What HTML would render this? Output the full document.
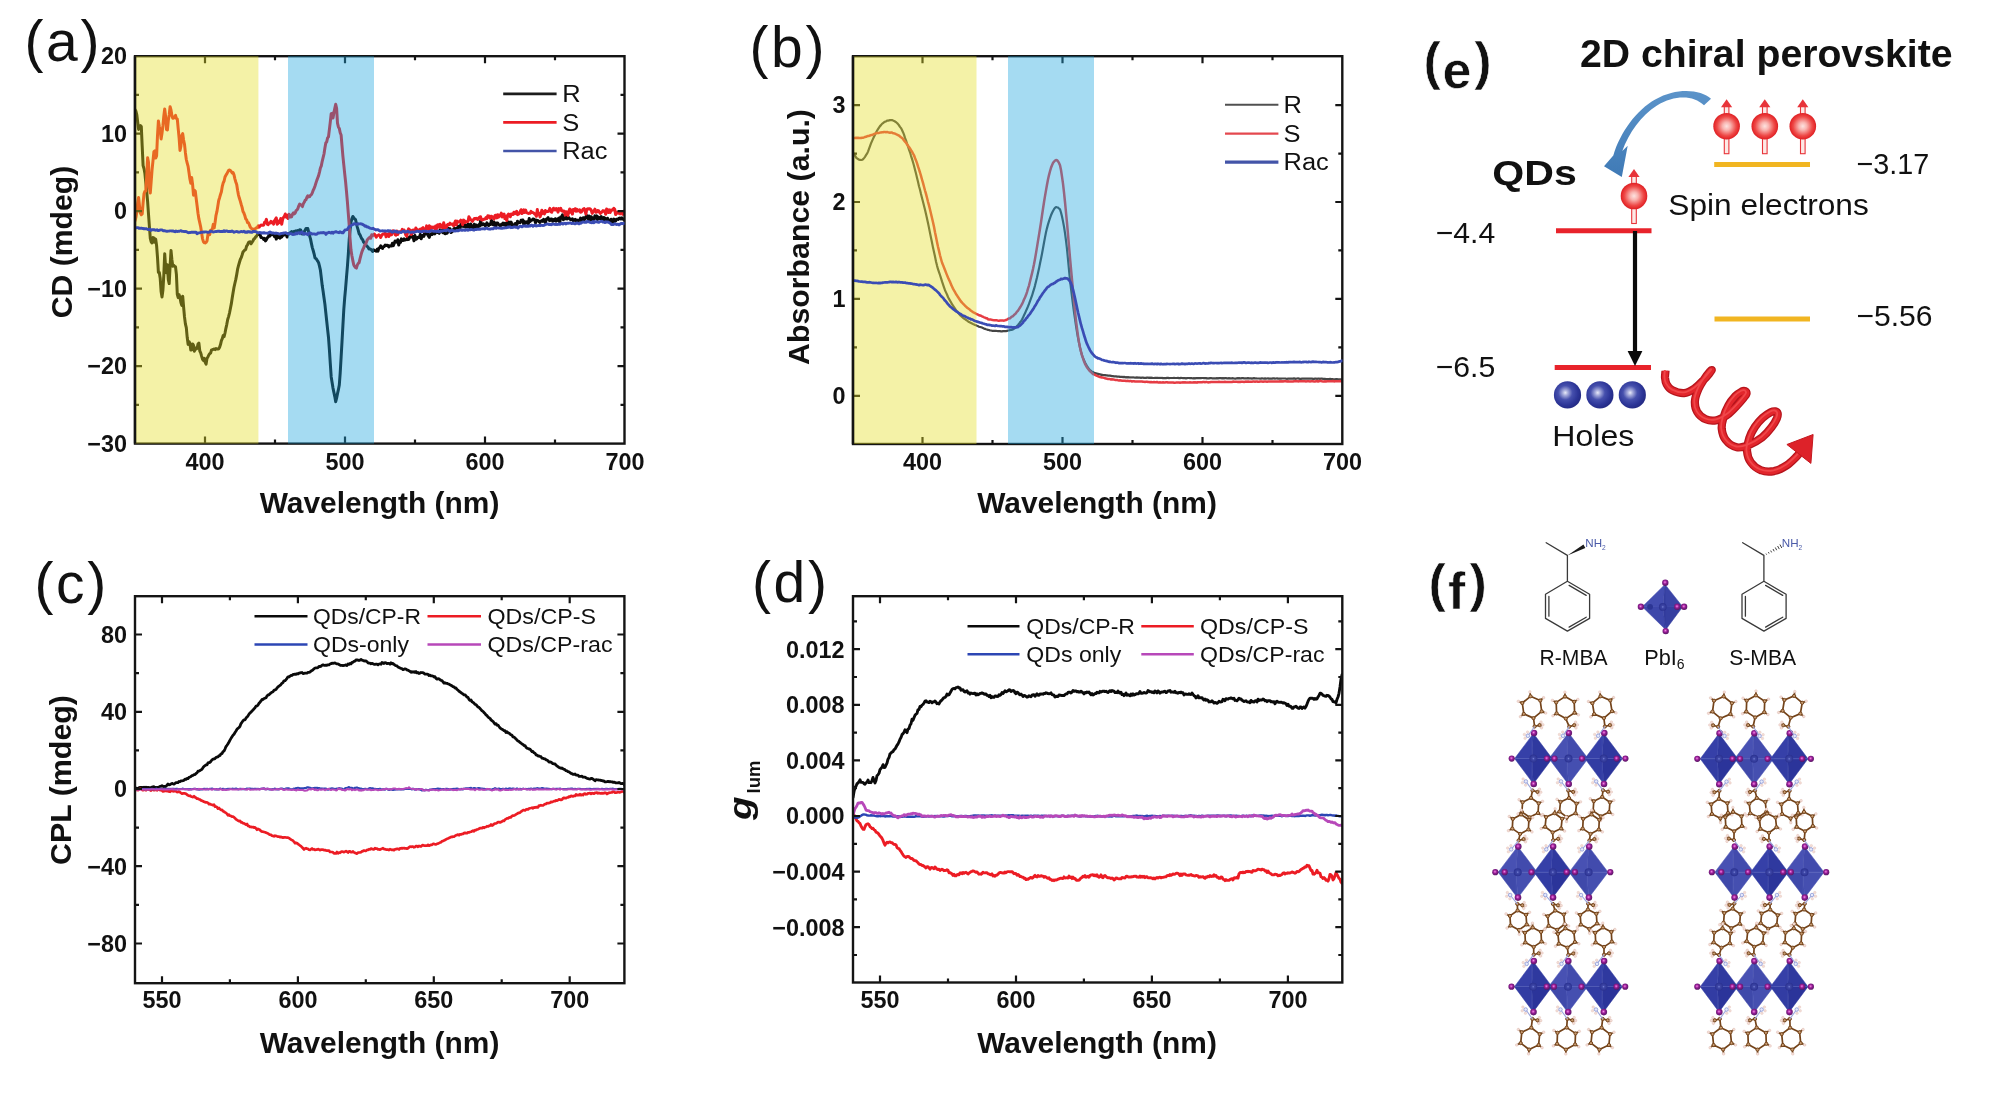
<!DOCTYPE html>
<html lang="en">
<head>
<meta charset="utf-8">
<title>Chiral perovskite / quantum dot figure</title>
<style>
html,body{margin:0;padding:0;background:#fff;}
body{width:1992px;height:1096px;overflow:hidden;position:relative;}
svg{position:absolute;left:0;top:0;display:block;font-family:'Liberation Sans', sans-serif;filter:blur(0.45px);}
</style>
</head>
<body>
<svg width="1992" height="1096" viewBox="0 0 1992 1096">
<defs>
<clipPath id="clipA"><rect x="135" y="56.2" width="489.5" height="387.4"/></clipPath>
<clipPath id="clipB"><rect x="853" y="56.2" width="489.5" height="388"/></clipPath>
<clipPath id="clipC"><rect x="135" y="596.2" width="490" height="387"/></clipPath>
<clipPath id="clipD"><rect x="853" y="596.2" width="489.5" height="386.3"/></clipPath>
<radialGradient id="gRed" cx="50%" cy="50%" r="50%"><stop offset="0" stop-color="#fde3e0"/><stop offset="0.3" stop-color="#f9b4b0"/><stop offset="0.72" stop-color="#ee4a48"/><stop offset="0.92" stop-color="#e62a2c"/><stop offset="1" stop-color="#d82226"/></radialGradient>
<radialGradient id="gHole" cx="42%" cy="42%" r="58%"><stop offset="0" stop-color="#e9ebf8"/><stop offset="0.16" stop-color="#a9aedd"/><stop offset="0.45" stop-color="#4650ad"/><stop offset="0.8" stop-color="#2c3597"/><stop offset="1" stop-color="#252c86"/></radialGradient>
<linearGradient id="gArrow" x1="0" y1="0" x2="0" y2="1"><stop offset="0" stop-color="#5b93c9"/><stop offset="1" stop-color="#3f7ab6"/></linearGradient>
<radialGradient id="gI" cx="45%" cy="42%" r="60%"><stop offset="0" stop-color="#efa6e4"/><stop offset="0.2" stop-color="#cf4cc2"/><stop offset="0.48" stop-color="#8f1d90"/><stop offset="1" stop-color="#551562"/></radialGradient>
<radialGradient id="gPb" cx="50%" cy="50%" r="50%"><stop offset="0" stop-color="#7b86d6"/><stop offset="0.3" stop-color="#3f48a8"/><stop offset="1" stop-color="#2a3190"/></radialGradient>
</defs>
<rect width="1992" height="1096" fill="#fff"/>
<g clip-path="url(#clipA)">
<polyline points="135,109.7 135.9,111 136.8,114.8 137.7,122.3 138.6,129.4 139.5,126.6 140.4,125.6 141.3,126.6 142.2,146.4 143.1,165.6 144,168.6 144.9,173.5 145.8,182.6 146.7,191.3 147.6,201.4 148.5,214 149.4,226.5 150.3,238.4 151.2,242 152.1,243 153,237.6 153.9,237.9 154.8,242.2 155.7,239.1 156.6,245.6 157.5,257.3 158.4,272.4 159.3,272.4 160.2,278.3 161.1,291.4 162,297 162.9,290.4 163.8,275.4 164.7,253.7 165.6,266.9 166.5,272.7 167.4,264.8 168.3,279.7 169.2,283.6 170.1,266.1 171,250.5 171.9,259.7 172.8,266.2 173.7,265.3 174.6,266.4 175.5,266.6 176.4,274.3 177.3,294.3 178.2,297.6 179.1,294.7 180,297.4 180.9,302.6 181.8,305.4 182.7,296.2 183.6,306.9 184.5,316.9 185.4,323.9 186.3,327.7 187.2,337.3 188.1,344.4 189,341.6 189.9,343.2 190.8,350.1 191.7,349.8 192.6,343.9 193.5,345.3 194.4,351.2 195.3,348 196.2,349 197.1,348.3 198,344 198.9,343.1 199.8,351 200.7,352.8 201.6,356.1 202.5,359.1 203.4,360.5 204.3,358.4 205.2,362.3 206.1,364.1 207,358.3 207.9,357 208.8,355 209.7,353.7 210.6,353.1 211.5,350 212.4,349.7 213.3,349.3 214.2,349 215.1,349.6 216,348.5 216.9,349 217.8,349.1 218.7,348.8 219.6,347.2 220.5,344.6 221.4,340.6 222.3,338.6 223.2,335.5 224.1,336.6 225,333 225.9,328.3 226.8,324.3 227.7,319.5 228.6,316.6 229.5,313 230.4,308.5 231.3,303.9 232.2,298.1 233.1,292.4 234,287.3 234.9,283.2 235.8,279.4 236.7,274.6 237.6,269.2 238.5,265.7 239.4,262.5 240.3,259.5 241.2,257.7 242.1,255 243,252 243.9,251 244.8,250 245.7,249.4 246.6,246.1 247.5,244.9 248.4,242.7 249.3,241.9 250.2,241.8 251.1,243.8 252,242.3 252.9,241 253.8,239.1 254.7,238.5 255.6,236.9 256.5,236.2 257.4,234.7 258.3,234.5 259.2,233.5 260.1,234.6 261,237.6 261.9,237.6 262.8,238 263.7,239.4 264.6,238.3 265.5,240.9 266.4,239.6 267.3,237.8 268.2,237.1 269.1,234.7 270,236 270.9,233.5 271.8,234.3 272.7,234.4 273.6,234.8 274.5,236.6 275.4,234.7 276.3,239.1 277.2,235.5 278.1,237.5 279,234.7 279.9,238.2 280.8,235.7 281.7,237.1 282.6,235.4 283.5,235.2 284.4,234.7 285.3,234.5 286.2,234 287.1,237 288,233.7 288.9,233.9 289.8,232.9 290.7,233.4 291.6,231.6 292.5,231.9 293.4,232.9 294.3,231.3 295.2,232.4 296.1,230.8 297,233.2 297.9,230.6 298.8,232.2 299.7,229.7 300.6,229.9 301.5,232.1 302.4,234 303.3,233.2 304.2,231.8 305.1,230.3 306,228.5 306.9,228.5 307.8,228.6 308.7,232.2 309.6,235.9 310.5,238.9 311.4,243.4 312.3,247.6 313.2,250.5 314.1,253.8 315,258 315.9,258.5 316.8,259.7 317.7,261.1 318.6,262.7 319.5,266.1 320.4,270.1 321.3,277.6 322.2,285.3 323.1,291.2 324,297.7 324.9,304.1 325.8,312.6 326.7,321 327.6,329.4 328.5,337.5 329.4,349.6 330.3,363.7 331.2,376.9 332.1,382.4 333,388.1 333.9,392.4 334.8,396.6 335.7,401.7 336.6,398.1 337.5,393.6 338.4,389.7 339.3,385 340.2,372.9 341.1,357.3 342,341.8 342.9,325.6 343.8,309.5 344.7,297.9 345.6,288.2 346.5,277.2 347.4,266.7 348.3,254.3 349.2,239.7 350.1,229.8 351,222 351.9,218.7 352.8,216.5 353.7,217.7 354.6,218.9 355.5,219.5 356.4,223.2 357.3,227.1 358.2,230.1 359.1,233.7 360,234.8 360.9,236.9 361.8,238.8 362.7,239.8 363.6,242.1 364.5,242.9 365.4,244 366.3,245.4 367.2,246.4 368.1,247.3 369,249 369.9,248.9 370.8,249.3 371.7,250.1 372.6,251.4 373.5,249.8 374.4,250.4 375.3,250.6 376.2,251.1 377.1,249.3 378,251.1 378.9,248 379.8,247.6 380.7,245.8 381.6,247.6 382.5,248.4 383.4,246.8 384.3,246.6 385.2,245.1 386.1,245.4 387,245.3 387.9,245.5 388.8,246.9 389.7,245.8 390.6,246.1 391.5,246.1 392.4,243.3 393.3,245.7 394.2,243.4 395.1,241 396,241.8 396.9,242.2 397.8,239.7 398.7,245.1 399.6,241.3 400.5,242.3 401.4,238.9 402.3,240.6 403.2,240.6 404.1,238.8 405,240.1 405.9,239.4 406.8,239.7 407.7,237.1 408.6,239.4 409.5,237.9 410.4,236.8 411.3,234.5 412.2,237.2 413.1,236.8 414,240.8 414.9,235.4 415.8,239.3 416.7,238.9 417.6,237.5 418.5,237.2 419.4,237.5 420.3,234.4 421.2,238.7 422.1,236 423,235.3 423.9,236.3 424.8,232.1 425.7,234 426.6,233.9 427.5,233.1 428.4,236 429.3,237.3 430.2,234.6 431.1,233.8 432,234.5 432.9,233 433.8,233.7 434.7,233.9 435.6,232.6 436.5,232.1 437.4,232.5 438.3,232.4 439.2,233.3 440.1,229.9 441,230.4 441.9,231.2 442.8,232.6 443.7,229.8 444.6,233.5 445.5,233.8 446.4,230.4 447.3,233.1 448.2,228.2 449.1,231.1 450,228.7 450.9,232.5 451.8,231.9 452.7,231.1 453.6,229.2 454.5,228.1 455.4,230.1 456.3,228.5 457.2,230 458.1,226.3 459,229.1 459.9,228.9 460.8,224.5 461.7,225.7 462.6,226.3 463.5,226.4 464.4,224.6 465.3,227.1 466.2,225.3 467.1,226.8 468,224.1 468.9,224.9 469.8,227.7 470.7,224 471.6,226.4 472.5,228.5 473.4,227.5 474.3,224.2 475.2,229.4 476.1,225 477,227.1 477.9,227 478.8,224.9 479.7,226.1 480.6,220.8 481.5,224.9 482.4,224.8 483.3,223.9 484.2,224.4 485.1,225.7 486,225.3 486.9,222.8 487.8,224.8 488.7,225.5 489.6,224 490.5,224.5 491.4,220.3 492.3,221.7 493.2,224.7 494.1,222 495,225.6 495.9,226.2 496.8,223 497.7,222.9 498.6,224.4 499.5,225.1 500.4,226 501.3,224.4 502.2,224.7 503.1,223 504,224.8 504.9,223.2 505.8,225.7 506.7,225.2 507.6,221.6 508.5,224.5 509.4,222.2 510.3,225.2 511.2,222.1 512.1,225.5 513,225.1 513.9,226.4 514.8,223.8 515.7,223.3 516.6,225 517.5,221.2 518.4,222.9 519.3,222.4 520.2,222.7 521.1,220.3 522,220.1 522.9,220 523.8,224.6 524.7,221.8 525.6,223.2 526.5,222 527.4,221.7 528.3,223.9 529.2,218.4 530.1,221.5 531,220.5 531.9,220.2 532.8,219.1 533.7,219.1 534.6,219.5 535.5,222.9 536.4,220.1 537.3,220.4 538.2,220.7 539.1,221.8 540,222.4 540.9,221 541.8,220.6 542.7,221.3 543.6,219.3 544.5,220.7 545.4,222.8 546.3,219.2 547.2,218.8 548.1,217.7 549,220 549.9,220.7 550.8,219.1 551.7,219.1 552.6,221.3 553.5,219.5 554.4,220.4 555.3,218.7 556.2,221.1 557.1,220.5 558,218.8 558.9,218 559.8,222.6 560.7,217.1 561.6,217.2 562.5,214.8 563.4,219.7 564.3,218.8 565.2,218.7 566.1,216.6 567,219 567.9,217.9 568.8,217.5 569.7,218.9 570.6,219.8 571.5,219.3 572.4,218.8 573.3,220.8 574.2,220.1 575.1,219.3 576,220.5 576.9,220 577.8,220.7 578.7,220.5 579.6,220.2 580.5,218.1 581.4,220.8 582.3,220.2 583.2,217.7 584.1,220.2 585,218.4 585.9,216.6 586.8,217.9 587.7,215.9 588.6,219.6 589.5,216.1 590.4,220.2 591.3,216.8 592.2,218 593.1,220.1 594,218.8 594.9,215.9 595.8,218.2 596.7,215.8 597.6,219.6 598.5,217.1 599.4,218.5 600.3,218.5 601.2,216.5 602.1,219.2 603,221.4 603.9,217.5 604.8,218 605.7,219.6 606.6,221.1 607.5,218.2 608.4,220 609.3,220.5 610.2,221.7 611.1,219.2 612,224.3 612.9,223.9 613.8,219.1 614.7,219.7 615.6,221.1 616.5,219.3 617.4,219.1 618.3,219.5 619.2,218.1 620.1,217.9 621,219 621.9,217.9 622.8,218.8 623.7,219.6 624.5,219.5" fill="none" stroke="#0a0a0a" stroke-width="3.0" stroke-linejoin="round" stroke-linecap="round" />
<polyline points="135,220.9 135.9,217.4 136.8,212.1 137.7,202.9 138.6,197.6 139.5,206 140.4,213.1 141.3,214.8 142.2,213.9 143.1,202.9 144,193.8 144.9,191.4 145.8,191.1 146.7,176.5 147.6,157.7 148.5,162.4 149.4,188 150.3,193 151.2,181.1 152.1,169.3 153,160.6 153.9,151.6 154.8,150.9 155.7,158.1 156.6,156 157.5,135.5 158.4,120.9 159.3,126.2 160.2,130.6 161.1,138.9 162,133.3 162.9,125.9 163.8,116.2 164.7,109 165.6,116.1 166.5,129.4 167.4,130 168.3,120.6 169.2,115 170.1,106.7 171,109.9 171.9,115.5 172.8,118.3 173.7,118 174.6,116.9 175.5,115.4 176.4,118.5 177.3,119 178.2,128.6 179.1,137.9 180,150.5 180.9,146.1 181.8,135.5 182.7,133.6 183.6,140 184.5,144.2 185.4,152.7 186.3,159.5 187.2,163.1 188.1,166.4 189,172.5 189.9,179 190.8,183.3 191.7,177.6 192.6,184.4 193.5,195.2 194.4,190.2 195.3,191.3 196.2,198.7 197.1,205.7 198,213.2 198.9,218.9 199.8,222.8 200.7,227 201.6,232.8 202.5,238.6 203.4,241.7 204.3,242.7 205.2,242.9 206.1,242.3 207,241 207.9,234.8 208.8,232.3 209.7,234.7 210.6,230.2 211.5,230.1 212.4,228.7 213.3,224.2 214.2,227.9 215.1,222.3 216,215.3 216.9,211.7 217.8,206.2 218.7,200.5 219.6,197.7 220.5,194.5 221.4,191.7 222.3,186.3 223.2,182.9 224.1,181 225,177 225.9,175.3 226.8,173.9 227.7,172.1 228.6,170.3 229.5,170 230.4,170.5 231.3,171.6 232.2,173.1 233.1,172.5 234,174.8 234.9,178.8 235.8,182 236.7,184.5 237.6,190.3 238.5,195.1 239.4,198.3 240.3,201.1 241.2,204.4 242.1,207.4 243,211.5 243.9,213.1 244.8,215.5 245.7,218.8 246.6,219.6 247.5,222.5 248.4,222.7 249.3,224.6 250.2,226.9 251.1,228.3 252,228.8 252.9,229.5 253.8,229.2 254.7,229.4 255.6,228.5 256.5,227.7 257.4,227.5 258.3,225.8 259.2,227.1 260.1,225.8 261,225 261.9,225.3 262.8,225.3 263.7,225 264.6,222.2 265.5,221.7 266.4,219.4 267.3,224.2 268.2,224.6 269.1,222.9 270,223.1 270.9,221.3 271.8,222.6 272.7,222 273.6,224.1 274.5,220.7 275.4,219.3 276.3,217.9 277.2,224.2 278.1,223.4 279,221.1 279.9,222.3 280.8,218.4 281.7,224.2 282.6,219.5 283.5,217.4 284.4,216.3 285.3,214 286.2,217.2 287.1,215.6 288,218.5 288.9,214.2 289.8,215.3 290.7,217.1 291.6,216.9 292.5,214.1 293.4,212.9 294.3,213.9 295.2,213 296.1,210.6 297,209.9 297.9,208.4 298.8,205.8 299.7,204 300.6,205.1 301.5,205.1 302.4,206.6 303.3,203.7 304.2,202.3 305.1,200.3 306,199.7 306.9,197.3 307.8,195.8 308.7,196.9 309.6,196.6 310.5,195.2 311.4,194.7 312.3,192.9 313.2,190.2 314.1,188.6 315,186 315.9,183.1 316.8,180.4 317.7,178 318.6,175.6 319.5,172.1 320.4,168 321.3,165.9 322.2,161.3 323.1,157.7 324,154 324.9,148.1 325.8,143 326.7,141.8 327.6,137.9 328.5,136.8 329.4,129.4 330.3,121.9 331.2,113.6 332.1,113.3 333,118.1 333.9,112.7 334.8,108.3 335.7,104.3 336.6,108.4 337.5,123.2 338.4,126.9 339.3,128.4 340.2,132.8 341.1,135 342,145.7 342.9,156.1 343.8,164.8 344.7,173.7 345.6,181.8 346.5,191.6 347.4,201.8 348.3,213.5 349.2,225.2 350.1,239 351,250.1 351.9,255.7 352.8,260.4 353.7,264.8 354.6,266.4 355.5,267.5 356.4,268.1 357.3,265.1 358.2,263.4 359.1,262.7 360,258.8 360.9,255.4 361.8,252.2 362.7,249.7 363.6,248.1 364.5,245.5 365.4,244.4 366.3,242.6 367.2,240 368.1,238.9 369,238 369.9,237.2 370.8,238.1 371.7,234.8 372.6,235.7 373.5,234.7 374.4,234.1 375.3,235.4 376.2,237.2 377.1,235.6 378,235.4 378.9,234.8 379.8,235.7 380.7,237.5 381.6,235.5 382.5,234.4 383.4,233.9 384.3,233.9 385.2,233.1 386.1,236.8 387,235.3 387.9,234.1 388.8,236.5 389.7,232.8 390.6,234.9 391.5,234.8 392.4,231 393.3,230.8 394.2,231.7 395.1,234.6 396,235.1 396.9,230.9 397.8,234.5 398.7,232 399.6,231.9 400.5,231.6 401.4,231.8 402.3,229.4 403.2,230.6 404.1,230.1 405,232.8 405.9,235.3 406.8,236.2 407.7,231.2 408.6,228.9 409.5,230.9 410.4,230 411.3,234.5 412.2,232.2 413.1,230 414,232.4 414.9,231.6 415.8,228 416.7,229.6 417.6,229.8 418.5,230.1 419.4,230.1 420.3,229.1 421.2,229.8 422.1,228.4 423,227.7 423.9,231.4 424.8,229.4 425.7,229.3 426.6,225.9 427.5,228 428.4,229.4 429.3,225.8 430.2,229.5 431.1,226.9 432,228 432.9,227 433.8,227.3 434.7,228.7 435.6,226 436.5,229 437.4,225 438.3,224.7 439.2,227.2 440.1,224.3 441,225.3 441.9,227.3 442.8,227.7 443.7,222.8 444.6,226.3 445.5,228.5 446.4,227.3 447.3,224.9 448.2,224.2 449.1,224.6 450,223.2 450.9,224.3 451.8,224.2 452.7,224 453.6,225.8 454.5,223.3 455.4,221 456.3,224.8 457.2,221.1 458.1,221.9 459,222.1 459.9,221.5 460.8,220.2 461.7,221.1 462.6,224.7 463.5,220.1 464.4,220.7 465.3,222.5 466.2,221.7 467.1,221.6 468,221.5 468.9,216.8 469.8,218.4 470.7,219.8 471.6,220.2 472.5,221.3 473.4,219.8 474.3,218.5 475.2,218.8 476.1,218.3 477,218.9 477.9,219.5 478.8,217.8 479.7,217 480.6,216.8 481.5,219.9 482.4,220.1 483.3,219.5 484.2,219.2 485.1,219.1 486,217.6 486.9,218.6 487.8,215.8 488.7,217.1 489.6,216.1 490.5,218.4 491.4,216.2 492.3,216.8 493.2,217.6 494.1,219 495,215.5 495.9,215.2 496.8,217.9 497.7,214.7 498.6,217.1 499.5,215.4 500.4,216 501.3,213.1 502.2,217 503.1,214.8 504,214 504.9,218.6 505.8,216.2 506.7,220.5 507.6,215.4 508.5,214 509.4,214.5 510.3,216.8 511.2,214 512.1,214.6 513,214.5 513.9,212.2 514.8,213.7 515.7,212.6 516.6,211.3 517.5,214.6 518.4,214.2 519.3,213.2 520.2,211.5 521.1,209.7 522,213.6 522.9,212.6 523.8,209.9 524.7,212.4 525.6,210.1 526.5,212.6 527.4,213 528.3,213.4 529.2,213.3 530.1,213.3 531,211.3 531.9,212.6 532.8,212.5 533.7,213 534.6,213.9 535.5,214.5 536.4,216.3 537.3,209.6 538.2,214.3 539.1,213.1 540,216.9 540.9,214.6 541.8,210.2 542.7,213.4 543.6,211.7 544.5,213.9 545.4,210.5 546.3,211.8 547.2,211.6 548.1,211.5 549,210.5 549.9,208.3 550.8,211.7 551.7,212.2 552.6,210.1 553.5,208.2 554.4,209.8 555.3,210 556.2,208.5 557.1,209.2 558,212.1 558.9,208.6 559.8,210 560.7,208.4 561.6,210.8 562.5,211.3 563.4,210.9 564.3,211.2 565.2,215.1 566.1,211.8 567,211.9 567.9,215.5 568.8,211.8 569.7,209 570.6,212.3 571.5,210.1 572.4,214.1 573.3,209.4 574.2,210.4 575.1,208.7 576,211.3 576.9,209.4 577.8,210.9 578.7,210.3 579.6,209.8 580.5,212.2 581.4,212.1 582.3,210.6 583.2,209 584.1,208.6 585,210.7 585.9,214 586.8,209.3 587.7,208.8 588.6,209.1 589.5,208.7 590.4,209.1 591.3,210.6 592.2,213.4 593.1,211.3 594,210.7 594.9,209.2 595.8,212.3 596.7,212.1 597.6,210.4 598.5,210.6 599.4,212.1 600.3,213.5 601.2,212.7 602.1,211.8 603,210.7 603.9,211.5 604.8,210.9 605.7,214.3 606.6,208.9 607.5,210 608.4,212.5 609.3,209.9 610.2,212.5 611.1,210 612,210.2 612.9,209.7 613.8,208.3 614.7,209.2 615.6,214.6 616.5,212.3 617.4,212.5 618.3,213.3 619.2,212.9 620.1,213.8 621,211.9 621.9,212.2 622.8,214.3 623.7,212.3 624.5,210.9" fill="none" stroke="#ec1c24" stroke-width="3.0" stroke-linejoin="round" stroke-linecap="round" />
</g>
<rect x="135" y="56.2" width="489.5" height="387.4" fill="none" stroke="#141414" stroke-width="2.4"/>
<path d="M205 443.6 v-7 M205 56.2 v7" stroke="#141414" stroke-width="2.2"/>
<path d="M345 443.6 v-7 M345 56.2 v7" stroke="#141414" stroke-width="2.2"/>
<path d="M485 443.6 v-7 M485 56.2 v7" stroke="#141414" stroke-width="2.2"/>
<path d="M275 443.6 v-4 M275 56.2 v4" stroke="#141414" stroke-width="2.2"/>
<path d="M415 443.6 v-4 M415 56.2 v4" stroke="#141414" stroke-width="2.2"/>
<path d="M555 443.6 v-4 M555 56.2 v4" stroke="#141414" stroke-width="2.2"/>
<text x="205" y="469.7" font-size="23.4" font-weight="bold" text-anchor="middle" fill="#111" >400</text>
<text x="345" y="469.7" font-size="23.4" font-weight="bold" text-anchor="middle" fill="#111" >500</text>
<text x="485" y="469.7" font-size="23.4" font-weight="bold" text-anchor="middle" fill="#111" >600</text>
<text x="625" y="469.7" font-size="23.4" font-weight="bold" text-anchor="middle" fill="#111" >700</text>
<path d="M135 133.6 h7 M624.5 133.6 h-7" stroke="#141414" stroke-width="2.2"/>
<path d="M135 211.1 h7 M624.5 211.1 h-7" stroke="#141414" stroke-width="2.2"/>
<path d="M135 288.6 h7 M624.5 288.6 h-7" stroke="#141414" stroke-width="2.2"/>
<path d="M135 366.1 h7 M624.5 366.1 h-7" stroke="#141414" stroke-width="2.2"/>
<path d="M135 94.8 h4 M624.5 94.8 h-4" stroke="#141414" stroke-width="2.2"/>
<path d="M135 172.3 h4 M624.5 172.3 h-4" stroke="#141414" stroke-width="2.2"/>
<path d="M135 249.8 h4 M624.5 249.8 h-4" stroke="#141414" stroke-width="2.2"/>
<path d="M135 327.4 h4 M624.5 327.4 h-4" stroke="#141414" stroke-width="2.2"/>
<path d="M135 404.9 h4 M624.5 404.9 h-4" stroke="#141414" stroke-width="2.2"/>
<text x="127" y="64.4" font-size="23.4" font-weight="bold" text-anchor="end" fill="#111" >20</text>
<text x="127" y="141.9" font-size="23.4" font-weight="bold" text-anchor="end" fill="#111" >10</text>
<text x="127" y="219.4" font-size="23.4" font-weight="bold" text-anchor="end" fill="#111" >0</text>
<text x="127" y="296.9" font-size="23.4" font-weight="bold" text-anchor="end" fill="#111" >−10</text>
<text x="127" y="374.4" font-size="23.4" font-weight="bold" text-anchor="end" fill="#111" >−20</text>
<text x="127" y="451.9" font-size="23.4" font-weight="bold" text-anchor="end" fill="#111" >−30</text>
<rect x="135" y="56.2" width="123.4" height="387.4" fill="#e4de23" fill-opacity="0.4"/>
<rect x="288" y="56.2" width="86" height="387.4" fill="#1ea5de" fill-opacity="0.4"/>
<g clip-path="url(#clipA)">
<polyline points="135,227.9 136,227.9 137,227.6 138,227.6 139,228.4 140,228.1 141,228.3 142,228.3 143,228.5 144,228.8 145,228.8 146,228.6 147,229 148,229.6 149,229.5 150,229.1 151,230.4 152,229.7 153,229.8 154,229.7 155,230.1 156,230.2 157,229.8 158,230.5 159,230.5 160,230 161,229.9 162,229.9 163,230.7 164,230.7 165,230.8 166,231.1 167,231.4 168,231.1 169,231.1 170,230.9 171,230.9 172,231 173,231 174,231.3 175,231.7 176,231 177,231.5 178,231.3 179,231.4 180,231 181,230.6 182,231.3 183,231.4 184,231.5 185,231.7 186,231.5 187,232 188,232.6 189,232.7 190,232.5 191,232.3 192,232.3 193,232.3 194,232.2 195,232.2 196,232.1 197,233.7 198,233.2 199,232.9 200,232.7 201,232.3 202,232.4 203,232 204,232.2 205,231.9 206,231.9 207,232.1 208,232.4 209,232.1 210,231.7 211,231.1 212,231.5 213,232 214,231.8 215,231.6 216,231.5 217,231.5 218,231.1 219,231.2 220,231.5 221,231.5 222,231.3 223,231.5 224,230.8 225,231.5 226,231 227,230.9 228,231.5 229,231.5 230,231.3 231,231.6 232,231 233,231.6 234,232.3 235,231.8 236,231.6 237,231.5 238,232 239,232.2 240,231.9 241,231.5 242,231.7 243,231.8 244,231.3 245,232.3 246,231.9 247,232.4 248,231.5 249,232 250,231.7 251,232.3 252,232.3 253,231.5 254,231.3 255,231.6 256,231.6 257,232.5 258,232.7 259,232.7 260,232.5 261,233.1 262,232.8 263,233.1 264,232.6 265,233.1 266,233.1 267,233.1 268,233.4 269,232.6 270,232 271,232.7 272,233.1 273,232.9 274,233.1 275,233.5 276,233 277,233.4 278,233.5 279,234 280,234 281,233.5 282,233.4 283,233.3 284,233 285,232.9 286,232.8 287,233.6 288,233.8 289,233.9 290,233.6 291,233.6 292,234.2 293,234.5 294,234.2 295,234.2 296,233.1 297,233.7 298,233 299,232.7 300,233.6 301,232.5 302,232 303,233.5 304,234.3 305,233.4 306,233.7 307,234.3 308,234.8 309,233.2 310,232.9 311,233.3 312,234.1 313,233.9 314,233.9 315,234.2 316,234.3 317,234.1 318,232.9 319,233.1 320,232.9 321,232.7 322,232.9 323,232.5 324,232.8 325,232.9 326,234.4 327,233 328,232.8 329,232.3 330,232.7 331,233 332,232.2 333,233.1 334,232.1 335,232 336,231.7 337,232.1 338,232.3 339,232.7 340,231.7 341,232.2 342,232.8 343,232.9 344,231.4 345,230 346,229.9 347,229.7 348,228.6 349,226.8 350,226.3 351,225.5 352,225 353,224.5 354,223.8 355,223.8 356,224.1 357,224.4 358,223.8 359,223.9 360,223.9 361,223.8 362,224.1 363,224.6 364,225.3 365,226.3 366,225.9 367,227 368,226.9 369,227.7 370,228.1 371,228.4 372,228.6 373,228.3 374,229 375,229.4 376,230 377,229.6 378,229.6 379,230.4 380,231 381,230.9 382,230.9 383,230.8 384,231.1 385,230.8 386,231.1 387,231.1 388,230.6 389,231.2 390,230.7 391,231.3 392,232.1 393,232 394,231.2 395,231 396,232 397,231.5 398,232.4 399,232.1 400,231.9 401,232.5 402,231.9 403,231.1 404,231.4 405,232.2 406,231.6 407,231.8 408,231.3 409,232 410,232.2 411,232.3 412,231.9 413,232 414,232.3 415,232 416,231.6 417,231.3 418,231.3 419,231.8 420,231.5 421,231.6 422,231.9 423,231.1 424,231.3 425,231.1 426,231.2 427,231.5 428,231.6 429,231.5 430,231.5 431,230.6 432,230.6 433,231.1 434,231.3 435,231.3 436,231.2 437,231.6 438,231 439,231.8 440,231.6 441,230.8 442,231.2 443,230.9 444,230.5 445,230.5 446,230.9 447,229.9 448,229.8 449,230.8 450,231.4 451,230.4 452,230.2 453,230.8 454,230.8 455,231.1 456,230.9 457,230.4 458,230.9 459,230.4 460,229.9 461,229.9 462,230.4 463,229.8 464,230 465,230.3 466,230 467,229.5 468,230.2 469,229.6 470,229.8 471,229.5 472,229.7 473,229.9 474,230.2 475,229.4 476,229.5 477,229.2 478,229.3 479,229.3 480,229.3 481,228.9 482,228.9 483,228.8 484,228.7 485,229 486,228.1 487,228.2 488,228.9 489,229 490,229.2 491,228.7 492,228.9 493,228.9 494,227.9 495,227.7 496,228.3 497,227.9 498,227.9 499,228.1 500,228.1 501,228.2 502,228.3 503,227.9 504,228 505,227.7 506,227.9 507,227.7 508,226.9 509,227.3 510,226.8 511,227.7 512,227.5 513,227.3 514,226.9 515,226.9 516,227.3 517,227.2 518,228 519,226.8 520,226.3 521,226.4 522,226.8 523,225.9 524,226 525,225.9 526,226.4 527,226 528,226.3 529,226 530,226.1 531,225.2 532,225.2 533,226.3 534,225.6 535,225 536,226 537,225.7 538,225.6 539,225.5 540,225.7 541,225.3 542,225.4 543,225.5 544,225.4 545,224.7 546,224.4 547,224 548,223.9 549,224.6 550,224.4 551,224.7 552,224.1 553,224.2 554,224 555,224.5 556,224.2 557,224.5 558,224.4 559,223.9 560,224.4 561,223.6 562,223.3 563,224.1 564,223.4 565,223.3 566,223.9 567,223.1 568,223.4 569,223.1 570,223 571,223.1 572,223.6 573,223 574,223.6 575,223.9 576,223.3 577,223 578,223.2 579,223.9 580,223.1 581,223.3 582,222.3 583,222 584,222.2 585,222.3 586,222.4 587,221.4 588,221.8 589,221.7 590,222.4 591,222.6 592,222.7 593,221.6 594,222.6 595,221.7 596,221.8 597,221.8 598,222.2 599,222.2 600,221.6 601,221.4 602,221.3 603,222 604,222.2 605,222.5 606,221.8 607,222.2 608,222 609,222.6 610,223 611,224.1 612,224.6 613,224.5 614,224.2 615,223.7 616,224.3 617,224.5 618,224.1 619,225 620,224.1 621,223.4 622,223.7 623,223.5 624,223.5 624.5,223.2" fill="none" stroke="#3a4cb4" stroke-width="2.9" stroke-linejoin="round" stroke-linecap="round" />
</g>
<path d="M135 56.2 V443.6" stroke="#141414" stroke-width="2.4"/>
<path d="M503.2 93.9 H556.6" stroke="#1c1c1c" stroke-width="2.6"/>
<text x="562.2" y="102.1" font-size="23.3" font-weight="normal" text-anchor="start" fill="#111" textLength="18.4" lengthAdjust="spacingAndGlyphs">R</text>
<path d="M503.2 122.4 H556.6" stroke="#ec1c24" stroke-width="2.6"/>
<text x="562.2" y="130.6" font-size="23.3" font-weight="normal" text-anchor="start" fill="#111" textLength="17.0" lengthAdjust="spacingAndGlyphs">S</text>
<path d="M503.2 151 H556.6" stroke="#4354a8" stroke-width="2.6"/>
<text x="562.2" y="159.2" font-size="23.3" font-weight="normal" text-anchor="start" fill="#111" textLength="45.2" lengthAdjust="spacingAndGlyphs">Rac</text>
<text x="379.5" y="512.6" font-size="29.9" font-weight="bold" text-anchor="middle" fill="#111" >Wavelength (nm)</text>
<text transform="translate(71.7,242) rotate(-90)" font-size="30.2" font-weight="bold" text-anchor="middle" fill="#111" >CD (mdeg)</text>
<text x="24.5" y="61.3" font-size="57" font-weight="normal" text-anchor="start" fill="#111"  style="letter-spacing:2.6px">(a)</text>
<g clip-path="url(#clipB)">
<polyline points="853,152.5 854,154.2 855,155.6 856,157.4 857,158.4 858,159 859,159.7 860,159.8 861,160 862,159.9 863,159.3 864,158.1 865,156.8 866,155.2 867,153.7 868,151.6 869,148.9 870,146.1 871,143.4 872,141.1 873,138.9 874,136.8 875,134.7 876,132.5 877,130.8 878,129.1 879,127.6 880,126.1 881,125.1 882,123.9 883,123.2 884,122.2 885,121.7 886,121.5 887,120.7 888,120.7 889,120.4 890,120.1 891,120.1 892,120.1 893,120.5 894,120.9 895,121.5 896,122.2 897,123 898,124.1 899,125.3 900,126.9 901,128.1 902,130 903,132.2 904,134.7 905,137.9 906,140.3 907,143.5 908,146.4 909,149.6 910,152.3 911,155.8 912,158.9 913,162.3 914,165.8 915,169.7 916,173.5 917,177.7 918,181.8 919,186.2 920,189.7 921,194.1 922,198 923,201.7 924,205.7 925,209.7 926,214.1 927,218.4 928,223 929,227.9 930,232.9 931,237.8 932,242.5 933,247.6 934,251.9 935,256.5 936,261.5 937,265.6 938,269.2 939,272.1 940,275 941,278.1 942,281.4 943,284.4 944,287.3 945,290.2 946,292.4 947,294.5 948,297 949,298.9 950,300.6 951,302.3 952,304.2 953,305.7 954,307.2 955,308.7 956,310.2 957,311.7 958,312.8 959,313.8 960,315.1 961,316 962,316.9 963,317.8 964,318.5 965,319.2 966,320 967,320.5 968,321.4 969,322.1 970,322.5 971,323 972,323.5 973,324 974,324.4 975,325 976,325.3 977,325.8 978,326.1 979,326.7 980,327 981,327.2 982,327.5 983,328.1 984,328.6 985,328.8 986,329.2 987,329.5 988,329.9 989,330 990,330.5 991,330.5 992,330.8 993,330.8 994,330.8 995,330.8 996,330.9 997,331 998,331.2 999,331.2 1000,331.1 1001,331.3 1002,331.4 1003,331.2 1004,331.1 1005,331.1 1006,331.1 1007,330.9 1008,330.5 1009,330.5 1010,330.1 1011,329.8 1012,329.8 1013,329.4 1014,328.7 1015,328.1 1016,327.2 1017,326 1018,325 1019,323.8 1020,322.3 1021,321.1 1022,319.5 1023,317.6 1024,315.3 1025,313.3 1026,310.9 1027,308.7 1028,306.4 1029,303.9 1030,301.2 1031,298.4 1032,295.7 1033,292.4 1034,289.2 1035,285.6 1036,281.5 1037,277.6 1038,272.9 1039,268.6 1040,263.5 1041,258.7 1042,253.8 1043,248.3 1044,242.7 1045,237.4 1046,232.3 1047,228.1 1048,224.4 1049,221.1 1050,218.1 1051,215.3 1052,213 1053,211 1054,209.2 1055,207.8 1056,207 1057,207.3 1058,207.5 1059,208.5 1060,209.4 1061,212.5 1062,216.5 1063,221.4 1064,226.6 1065,233.2 1066,240.6 1067,249 1068,259.3 1069,269.9 1070,280.1 1071,288.5 1072,296.7 1073,304.5 1074,312.1 1075,318.8 1076,325.9 1077,332.1 1078,337.8 1079,342.7 1080,347.6 1081,351.7 1082,355.1 1083,358 1084,360.3 1085,362.5 1086,364.4 1087,366 1088,367.5 1089,369.1 1090,370 1091,370.8 1092,371.7 1093,372 1094,372.7 1095,373 1096,373.3 1097,373.7 1098,373.9 1099,374.1 1100,374.3 1101,374.8 1102,374.7 1103,375 1104,375.1 1105,375.1 1106,375.4 1107,375.3 1108,375.7 1109,375.6 1110,375.7 1111,375.9 1112,376.1 1113,376.2 1114,376.3 1115,376.3 1116,376.3 1117,376.6 1118,376.7 1119,376.6 1120,376.9 1121,376.9 1122,376.8 1123,377.1 1124,376.9 1125,377.1 1126,377.3 1127,377.1 1128,377.3 1129,377.2 1130,377.5 1131,377.4 1132,377.5 1133,377.3 1134,377.5 1135,377.7 1136,377.6 1137,377.4 1138,377.7 1139,377.7 1140,377.6 1141,377.8 1142,377.6 1143,377.7 1144,377.9 1145,377.9 1146,377.9 1147,377.6 1148,377.6 1149,377.8 1150,377.6 1151,377.8 1152,377.7 1153,378 1154,378 1155,377.9 1156,377.9 1157,377.9 1158,377.9 1159,378 1160,377.9 1161,378 1162,377.9 1163,378.2 1164,378 1165,378.1 1166,378.1 1167,377.9 1168,377.8 1169,378.1 1170,378 1171,378 1172,378 1173,378 1174,377.9 1175,378 1176,378 1177,378 1178,377.8 1179,378.2 1180,378.1 1181,377.9 1182,378 1183,378.1 1184,378.2 1185,378.1 1186,378.3 1187,378.1 1188,378 1189,378 1190,378.2 1191,378 1192,378.2 1193,378.3 1194,378.2 1195,378.3 1196,378.1 1197,378.1 1198,378.1 1199,378.1 1200,378 1201,378.1 1202,378 1203,378 1204,378.2 1205,378.2 1206,378.1 1207,378.4 1208,378.3 1209,378.3 1210,378.1 1211,378 1212,378.3 1213,378.3 1214,378.3 1215,378.3 1216,378.4 1217,378.2 1218,378.3 1219,378.1 1220,378 1221,378.2 1222,378.4 1223,378.1 1224,378.4 1225,378.2 1226,378.2 1227,378.3 1228,378.3 1229,378.2 1230,378.3 1231,378.4 1232,378.4 1233,378.2 1234,378.5 1235,378.6 1236,378.6 1237,378.2 1238,378.4 1239,378.1 1240,378.4 1241,378.4 1242,378.2 1243,378.2 1244,378.4 1245,378.4 1246,378.3 1247,378.4 1248,378.1 1249,378.3 1250,378.4 1251,378.4 1252,378.6 1253,378.3 1254,378.1 1255,378.5 1256,378.4 1257,378.5 1258,378.5 1259,378.5 1260,378.6 1261,378.6 1262,378.3 1263,378.5 1264,378.7 1265,378.4 1266,378.6 1267,378.5 1268,378.4 1269,378.7 1270,378.6 1271,378.5 1272,378.6 1273,378.4 1274,378.4 1275,378.6 1276,378.5 1277,378.4 1278,378.6 1279,378.6 1280,378.7 1281,378.7 1282,378.5 1283,378.5 1284,378.5 1285,378.5 1286,378.7 1287,378.8 1288,378.7 1289,378.6 1290,378.6 1291,378.7 1292,378.5 1293,378.6 1294,378.4 1295,378.6 1296,378.8 1297,378.5 1298,378.4 1299,378.6 1300,378.8 1301,378.8 1302,378.6 1303,378.6 1304,378.6 1305,378.5 1306,378.7 1307,378.6 1308,378.5 1309,378.6 1310,378.7 1311,378.6 1312,378.6 1313,378.8 1314,378.9 1315,378.7 1316,378.7 1317,378.8 1318,378.7 1319,378.7 1320,378.9 1321,378.7 1322,378.7 1323,378.8 1324,378.8 1325,378.9 1326,379 1327,379.1 1328,379.1 1329,379 1330,378.9 1331,379.1 1332,379 1333,379.2 1334,379.3 1335,379.3 1336,379.2 1337,379.2 1338,379.3 1339,379.4 1340,379.3 1341,379.4 1342,379.6 1342.5,379.3" fill="none" stroke="#454545" stroke-width="2.2" stroke-linejoin="round" stroke-linecap="round" />
<polyline points="853,137.9 854,137.9 855,138.1 856,137.7 857,138 858,137.7 859,138.1 860,138 861,138.1 862,137.8 863,137.7 864,137.4 865,137 866,136.8 867,136.3 868,136.1 869,135.9 870,135.5 871,135.1 872,135.1 873,134.5 874,134 875,133.7 876,133.3 877,133.1 878,132.9 879,133 880,132.5 881,132.4 882,132.3 883,132.3 884,132 885,131.9 886,132.3 887,131.9 888,132.2 889,132.4 890,132.8 891,132.6 892,132.6 893,133.2 894,133.3 895,133.7 896,134.2 897,134.6 898,135.1 899,135.6 900,136.4 901,137.2 902,137.9 903,139 904,140.4 905,141.6 906,142.8 907,144.3 908,145.8 909,147.1 910,148.5 911,150.1 912,151.7 913,153.5 914,155.3 915,158 916,160.4 917,163.1 918,166.4 919,169.4 920,172.5 921,175.9 922,179.5 923,182.9 924,186.7 925,190.5 926,193.9 927,197.8 928,201.8 929,205.4 930,209.5 931,213.8 932,218 933,222.3 934,226.7 935,232.2 936,237 937,242 938,246.7 939,250.9 940,255.2 941,259 942,262.5 943,264.9 944,267.5 945,270 946,272.6 947,275.1 948,277.5 949,279.7 950,281.8 951,284.4 952,286.5 953,288.6 954,290.4 955,292.1 956,294 957,295.4 958,297.1 959,298.5 960,300 961,301.5 962,302.5 963,303.7 964,304.7 965,305.7 966,306.6 967,307.6 968,308.2 969,309.1 970,309.8 971,310.8 972,311.4 973,312.1 974,312.7 975,313.1 976,313.7 977,314.3 978,314.6 979,315.2 980,315.5 981,315.8 982,316.4 983,316.7 984,317.3 985,317.7 986,318.2 987,318.3 988,319.2 989,319.4 990,319.5 991,319.6 992,319.9 993,320.1 994,320.2 995,320.3 996,320.2 997,320.3 998,320.7 999,320.7 1000,320.5 1001,320.6 1002,320.6 1003,320.6 1004,320.7 1005,320.3 1006,320.1 1007,319.6 1008,318.9 1009,318.4 1010,318.3 1011,317.3 1012,316.6 1013,316.1 1014,315 1015,314.1 1016,313.2 1017,311.6 1018,310.7 1019,309.1 1020,307.5 1021,305.9 1022,304.2 1023,302 1024,299.6 1025,297.4 1026,295.1 1027,292.1 1028,288.6 1029,285.6 1030,281.5 1031,277.4 1032,273.4 1033,269.1 1034,264.3 1035,258.9 1036,253.1 1037,247.1 1038,240.9 1039,234.9 1040,228.7 1041,222.4 1042,215.5 1043,208.8 1044,202.2 1045,196.1 1046,190.4 1047,184.8 1048,179.6 1049,175.1 1050,171.3 1051,167.8 1052,165.2 1053,162.9 1054,161.7 1055,160.5 1056,160 1057,160.2 1058,161.3 1059,162.9 1060,165.2 1061,170 1062,176.6 1063,183.7 1064,192.3 1065,202 1066,212.5 1067,222.9 1068,234.3 1069,246.1 1070,257.8 1071,268.8 1072,279.7 1073,290.3 1074,301.1 1075,311.4 1076,320.6 1077,328.4 1078,335.8 1079,342.2 1080,347.5 1081,351.6 1082,355.4 1083,358.4 1084,361.3 1085,363.8 1086,365.6 1087,367.5 1088,368.7 1089,370.1 1090,371.3 1091,372.1 1092,373 1093,374.1 1094,374.4 1095,374.9 1096,375.4 1097,375.9 1098,376.2 1099,376.7 1100,377 1101,377.2 1102,377.5 1103,377.6 1104,377.9 1105,378.2 1106,378.6 1107,378.7 1108,378.9 1109,379.1 1110,379.1 1111,379.5 1112,379.3 1113,379.5 1114,379.6 1115,379.9 1116,379.9 1117,379.9 1118,380.2 1119,380.4 1120,380.3 1121,380.4 1122,380.7 1123,380.7 1124,380.8 1125,380.7 1126,380.9 1127,381 1128,380.8 1129,381.2 1130,381.1 1131,381.1 1132,381.5 1133,381.3 1134,381.2 1135,381.4 1136,381.5 1137,381.6 1138,381.5 1139,381.5 1140,381.5 1141,381.6 1142,381.6 1143,381.8 1144,381.8 1145,381.9 1146,381.8 1147,381.8 1148,382 1149,382 1150,382.2 1151,382 1152,382.2 1153,382.2 1154,382.1 1155,382.3 1156,382.3 1157,382 1158,382.4 1159,382.5 1160,382.3 1161,382.6 1162,382.4 1163,382.3 1164,382.5 1165,382.4 1166,382.3 1167,382.2 1168,382.5 1169,382.4 1170,382.6 1171,382.5 1172,382.4 1173,382.4 1174,382.7 1175,382.7 1176,382.6 1177,382.4 1178,382.4 1179,382.4 1180,382.7 1181,382.5 1182,382.4 1183,382.3 1184,382.5 1185,382.3 1186,382.4 1187,382.5 1188,382.5 1189,382.4 1190,382.3 1191,382.4 1192,382.6 1193,382.4 1194,382.2 1195,382.5 1196,382.3 1197,382.7 1198,382.2 1199,382.2 1200,382.2 1201,382.3 1202,382.2 1203,382 1204,382 1205,382.2 1206,382.1 1207,382.1 1208,382.4 1209,382.2 1210,382.2 1211,382 1212,382.1 1213,382.1 1214,382 1215,382.1 1216,382.1 1217,382.1 1218,382 1219,381.8 1220,381.9 1221,382 1222,381.9 1223,381.9 1224,382 1225,381.8 1226,381.9 1227,382 1228,381.9 1229,382.1 1230,382 1231,382 1232,382 1233,381.6 1234,381.8 1235,381.7 1236,381.8 1237,381.8 1238,382 1239,381.8 1240,382 1241,381.7 1242,381.8 1243,381.8 1244,381.9 1245,381.7 1246,381.6 1247,381.7 1248,381.5 1249,381.8 1250,381.8 1251,381.7 1252,381.7 1253,381.6 1254,381.6 1255,381.7 1256,381.5 1257,381.5 1258,381.8 1259,381.8 1260,381.6 1261,381.6 1262,381.6 1263,381.7 1264,381.5 1265,381.5 1266,381.6 1267,381.7 1268,381.5 1269,381.5 1270,381.4 1271,381.4 1272,381.4 1273,381.5 1274,381.6 1275,381.4 1276,381.4 1277,381.4 1278,381.5 1279,381.5 1280,381.3 1281,381.5 1282,381.3 1283,381.5 1284,381.3 1285,381.3 1286,381.3 1287,381.4 1288,381.3 1289,381.4 1290,381.4 1291,381.4 1292,381.4 1293,381.4 1294,381.2 1295,381.3 1296,381.3 1297,381.1 1298,381.4 1299,381.2 1300,381.2 1301,381.2 1302,381.3 1303,381.3 1304,381.3 1305,381.2 1306,381.4 1307,381.3 1308,381.2 1309,381.3 1310,381.4 1311,381.3 1312,381.3 1313,381.3 1314,381.4 1315,381.5 1316,381.3 1317,381.1 1318,381.5 1319,381.2 1320,381.1 1321,381 1322,381.3 1323,381.4 1324,381.4 1325,381.2 1326,381.4 1327,381.2 1328,381.2 1329,381.3 1330,381.3 1331,381.3 1332,381.3 1333,381 1334,381.4 1335,381.2 1336,381.3 1337,381.2 1338,381.3 1339,381.2 1340,381.1 1341,381.3 1342,381.3 1342.5,381.1" fill="none" stroke="#e63c44" stroke-width="2.5" stroke-linejoin="round" stroke-linecap="round" />
</g>
<rect x="853" y="56.2" width="489.3" height="387.8" fill="none" stroke="#141414" stroke-width="2.4"/>
<path d="M922.5 444 v-7 M922.5 56.2 v7" stroke="#141414" stroke-width="2.2"/>
<path d="M1062.5 444 v-7 M1062.5 56.2 v7" stroke="#141414" stroke-width="2.2"/>
<path d="M1202.5 444 v-7 M1202.5 56.2 v7" stroke="#141414" stroke-width="2.2"/>
<path d="M992.5 444 v-4 M992.5 56.2 v4" stroke="#141414" stroke-width="2.2"/>
<path d="M1132.5 444 v-4 M1132.5 56.2 v4" stroke="#141414" stroke-width="2.2"/>
<path d="M1272.5 444 v-4 M1272.5 56.2 v4" stroke="#141414" stroke-width="2.2"/>
<text x="922.5" y="469.7" font-size="23.4" font-weight="bold" text-anchor="middle" fill="#111" >400</text>
<text x="1062.5" y="469.7" font-size="23.4" font-weight="bold" text-anchor="middle" fill="#111" >500</text>
<text x="1202.5" y="469.7" font-size="23.4" font-weight="bold" text-anchor="middle" fill="#111" >600</text>
<text x="1342.5" y="469.7" font-size="23.4" font-weight="bold" text-anchor="middle" fill="#111" >700</text>
<path d="M853 105.1 h7 M1342.3 105.1 h-7" stroke="#141414" stroke-width="2.2"/>
<path d="M853 202 h7 M1342.3 202 h-7" stroke="#141414" stroke-width="2.2"/>
<path d="M853 298.9 h7 M1342.3 298.9 h-7" stroke="#141414" stroke-width="2.2"/>
<path d="M853 395.8 h7 M1342.3 395.8 h-7" stroke="#141414" stroke-width="2.2"/>
<path d="M853 153.6 h4 M1342.3 153.6 h-4" stroke="#141414" stroke-width="2.2"/>
<path d="M853 250.4 h4 M1342.3 250.4 h-4" stroke="#141414" stroke-width="2.2"/>
<path d="M853 347.4 h4 M1342.3 347.4 h-4" stroke="#141414" stroke-width="2.2"/>
<text x="845.5" y="113.4" font-size="23.4" font-weight="bold" text-anchor="end" fill="#111" >3</text>
<text x="845.5" y="210.3" font-size="23.4" font-weight="bold" text-anchor="end" fill="#111" >2</text>
<text x="845.5" y="307.2" font-size="23.4" font-weight="bold" text-anchor="end" fill="#111" >1</text>
<text x="845.5" y="404.1" font-size="23.4" font-weight="bold" text-anchor="end" fill="#111" >0</text>
<rect x="853" y="56.2" width="123.5" height="387.8" fill="#e4de23" fill-opacity="0.4"/>
<rect x="1008" y="56.2" width="86" height="387.8" fill="#1ea5de" fill-opacity="0.4"/>
<g clip-path="url(#clipB)">
<polyline points="853,280.5 854,280.7 855,280.7 856,280.8 857,280.9 858,281.1 859,281.5 860,281.5 861,281.7 862,281.7 863,281.8 864,281.9 865,281.8 866,282.2 867,282.3 868,282.4 869,282.2 870,282.3 871,282.5 872,282.7 873,282.9 874,282.9 875,283 876,282.9 877,283 878,283.1 879,282.9 880,283.2 881,282.9 882,283 883,282.6 884,282.5 885,282.4 886,282.4 887,282.4 888,282.3 889,282.1 890,281.9 891,281.9 892,282.2 893,281.9 894,282.1 895,282.1 896,281.9 897,282.1 898,282.4 899,281.9 900,282.3 901,282.4 902,282.4 903,282.6 904,282.7 905,282.5 906,283 907,283.1 908,283.2 909,283.4 910,283.4 911,283.6 912,283.6 913,284.1 914,284.1 915,284.3 916,284.4 917,284.6 918,284.8 919,285.2 920,284.7 921,284.8 922,285 923,285.2 924,285.1 925,284.7 926,284.6 927,285.1 928,284.9 929,285.1 930,285.9 931,286.5 932,287.1 933,287.9 934,288.8 935,289.7 936,290.4 937,291.4 938,292.4 939,293.2 940,294.8 941,295.9 942,297 943,297.8 944,299.2 945,300.6 946,301.5 947,302.9 948,304.3 949,305.1 950,306.5 951,307.2 952,308 953,308.9 954,309.7 955,310.4 956,311.3 957,311.7 958,312.4 959,313.3 960,313.8 961,314.2 962,315 963,315.7 964,315.9 965,316.3 966,316.9 967,317.4 968,317.8 969,318.5 970,318.6 971,319.4 972,319.4 973,319.9 974,320.5 975,321 976,321.3 977,321.6 978,321.9 979,322.2 980,322.6 981,322.8 982,323.1 983,323.5 984,323.7 985,324.1 986,324.3 987,324.8 988,324.8 989,324.9 990,325.1 991,325.3 992,325.6 993,325.5 994,325.7 995,326 996,325.4 997,325.7 998,326 999,326 1000,326.1 1001,326.1 1002,326.3 1003,326.3 1004,326.3 1005,326.9 1006,326.8 1007,326.8 1008,327.1 1009,327.2 1010,327.3 1011,327 1012,327.4 1013,327.6 1014,327.3 1015,327.3 1016,327.4 1017,327.2 1018,327.1 1019,326.1 1020,325.6 1021,324.6 1022,323.6 1023,322.5 1024,320.7 1025,320.2 1026,318.6 1027,317.7 1028,316.1 1029,315 1030,313.8 1031,312.2 1032,310.8 1033,309.4 1034,307.7 1035,305.9 1036,304.4 1037,302.6 1038,300.7 1039,299.5 1040,297.3 1041,296.1 1042,294.5 1043,293 1044,291.7 1045,290.3 1046,289.1 1047,287.7 1048,286.8 1049,286.4 1050,285.4 1051,284.7 1052,284.1 1053,283.9 1054,283.2 1055,282.7 1056,281.7 1057,281.2 1058,280.4 1059,280 1060,279.7 1061,278.9 1062,279.1 1063,278.8 1064,278.4 1065,278 1066,278.5 1067,278.4 1068,279 1069,280.1 1070,281.3 1071,283.4 1072,286 1073,289.9 1074,293.7 1075,298.1 1076,302.8 1077,307.6 1078,312.3 1079,316.4 1080,320.6 1081,324.7 1082,328.2 1083,331.4 1084,335 1085,338 1086,341.3 1087,343.9 1088,346 1089,348.2 1090,350.2 1091,351.7 1092,353.3 1093,354.3 1094,355.5 1095,356.5 1096,357.3 1097,357.6 1098,358.4 1099,358.4 1100,358.9 1101,359.2 1102,360 1103,360 1104,360.4 1105,360.7 1106,360.9 1107,361.1 1108,361.4 1109,361.8 1110,361.7 1111,362 1112,362.2 1113,362.2 1114,362.2 1115,362.4 1116,362.8 1117,362.5 1118,362.8 1119,363.1 1120,363.1 1121,363.1 1122,363.2 1123,363.2 1124,363 1125,363 1126,363.2 1127,363.5 1128,363.3 1129,363.3 1130,363.3 1131,363.2 1132,363.5 1133,363.3 1134,363.6 1135,363.2 1136,363.6 1137,363.5 1138,363.3 1139,363.8 1140,363.6 1141,363.4 1142,363.6 1143,363.8 1144,363.7 1145,363.9 1146,363.9 1147,363.9 1148,363.8 1149,364 1150,363.9 1151,363.9 1152,363.5 1153,364 1154,364.1 1155,363.8 1156,363.8 1157,364.2 1158,363.7 1159,364 1160,364.3 1161,363.8 1162,364.1 1163,364.3 1164,364 1165,364.1 1166,364.1 1167,363.9 1168,364 1169,364 1170,364.1 1171,364 1172,364 1173,363.8 1174,363.9 1175,364.1 1176,364 1177,363.8 1178,363.8 1179,364.3 1180,364.1 1181,364 1182,363.5 1183,364 1184,363.9 1185,364.1 1186,363.9 1187,363.8 1188,363.8 1189,363.4 1190,363.9 1191,363.7 1192,363.6 1193,363.8 1194,363.9 1195,363.4 1196,363.5 1197,363.6 1198,363.5 1199,363.4 1200,363.3 1201,363.7 1202,363.5 1203,363.2 1204,363.1 1205,363.6 1206,363.4 1207,363.5 1208,363.4 1209,363.1 1210,363.2 1211,362.8 1212,363 1213,363.1 1214,363.2 1215,363 1216,363 1217,363.1 1218,363.1 1219,363.1 1220,363 1221,362.9 1222,363.1 1223,363 1224,362.8 1225,362.8 1226,362.9 1227,362.9 1228,362.9 1229,362.9 1230,362.9 1231,362.8 1232,362.7 1233,362.9 1234,363 1235,362.9 1236,362.8 1237,362.9 1238,362.7 1239,362.5 1240,362.8 1241,362.6 1242,362.9 1243,362.6 1244,362.3 1245,362.6 1246,363 1247,362.7 1248,362.5 1249,362.6 1250,362.8 1251,362.8 1252,362.7 1253,362.9 1254,362.8 1255,362.6 1256,362.7 1257,362.9 1258,362.8 1259,362.8 1260,362.4 1261,362.6 1262,362.7 1263,362.5 1264,362.7 1265,362.6 1266,362.7 1267,362.5 1268,362.9 1269,362.7 1270,362.5 1271,362.5 1272,362.9 1273,362.4 1274,362.6 1275,362.6 1276,362.4 1277,362.2 1278,362.4 1279,362.4 1280,362.5 1281,362.5 1282,362.4 1283,362.5 1284,362.4 1285,362.3 1286,362.3 1287,362.2 1288,362.4 1289,362.1 1290,362.1 1291,362.2 1292,362 1293,362.1 1294,361.9 1295,362.1 1296,362.2 1297,362.2 1298,362.1 1299,362.1 1300,361.9 1301,362.4 1302,362.2 1303,362.2 1304,361.9 1305,362 1306,361.8 1307,362.2 1308,362.2 1309,361.7 1310,362 1311,362.1 1312,361.8 1313,361.7 1314,361.8 1315,361.9 1316,361.8 1317,362 1318,362 1319,362.1 1320,362.1 1321,362.3 1322,362.3 1323,361.9 1324,362.1 1325,362.1 1326,362.1 1327,362.3 1328,362.4 1329,362.5 1330,362.2 1331,362.3 1332,362.5 1333,362.5 1334,362.4 1335,362.3 1336,362.1 1337,362.1 1338,361.9 1339,361.6 1340,361.3 1341,361.2 1342,360.7 1342.5,360.9" fill="none" stroke="#3a4cb4" stroke-width="2.7" stroke-linejoin="round" stroke-linecap="round" />
</g>
<path d="M853 56.2 V444" stroke="#141414" stroke-width="2.4"/>
<path d="M1225 104.8 H1278.4" stroke="#505050" stroke-width="2.0"/>
<text x="1283.6" y="113" font-size="23.3" font-weight="normal" text-anchor="start" fill="#111" textLength="18.4" lengthAdjust="spacingAndGlyphs">R</text>
<path d="M1225 133.6 H1278.4" stroke="#e4484f" stroke-width="2.2"/>
<text x="1283.6" y="141.8" font-size="23.3" font-weight="normal" text-anchor="start" fill="#111" textLength="17.0" lengthAdjust="spacingAndGlyphs">S</text>
<path d="M1225 162.1 H1278.4" stroke="#4354a8" stroke-width="3.3"/>
<text x="1283.6" y="170.3" font-size="23.3" font-weight="normal" text-anchor="start" fill="#111" textLength="45.2" lengthAdjust="spacingAndGlyphs">Rac</text>
<text x="1097" y="512.6" font-size="29.9" font-weight="bold" text-anchor="middle" fill="#111" >Wavelength (nm)</text>
<text transform="translate(809,237) rotate(-90)" font-size="30.3" font-weight="bold" text-anchor="middle" fill="#111" >Absorbance (a.u.)</text>
<text x="749.5" y="67.3" font-size="57" font-weight="normal" text-anchor="start" fill="#111"  style="letter-spacing:2.6px">(b)</text>
<g clip-path="url(#clipC)">
<polyline points="135,787.8 136,788.1 137,788.4 138,788.8 139,787.6 140,787.5 141,787.4 142,787.5 143,787.6 144,787.2 145,787.7 146,787.1 147,787.7 148,787.3 149,787.6 150,787.7 151,787.5 152,787.2 153,786.9 154,786.7 155,787.6 156,787.4 157,787.8 158,787.3 159,787 160,786.4 161,786.3 162,785.7 163,786.4 164,786.5 165,786.5 166,786.4 167,785.2 168,784 169,784.8 170,784.6 171,783.9 172,783.4 173,783.8 174,784.1 175,783.4 176,782.6 177,782.7 178,782.7 179,781.5 180,781.7 181,780.9 182,780.8 183,780.7 184,780.3 185,779.2 186,779.4 187,778.4 188,778.6 189,777.3 190,777 191,776.5 192,775.7 193,775.4 194,774.7 195,774.6 196,773.5 197,772.9 198,771.2 199,771.1 200,770.5 201,769.9 202,769.3 203,767.6 204,766.3 205,765.6 206,764.8 207,764.9 208,762.9 209,762.6 210,762.3 211,761.2 212,759.8 213,759.1 214,759 215,758.6 216,757.6 217,757.1 218,756.9 219,755.6 220,755.6 221,753.8 222,753.7 223,751.6 224,751 225,749.1 226,746.6 227,745.2 228,743.7 229,742 230,740.1 231,738.4 232,736.7 233,735.2 234,734.2 235,732.5 236,731 237,729.3 238,728.3 239,727.5 240,726.3 241,723.6 242,722.2 243,720.8 244,719.9 245,719.9 246,718.1 247,717.1 248,715.9 249,714.1 250,713 251,712.1 252,711 253,710 254,708.9 255,707.8 256,706.1 257,705.9 258,704.9 259,703.3 260,702.2 261,701 262,699.5 263,699.5 264,698.5 265,698.2 266,697.8 267,695.9 268,694.9 269,694.8 270,693.8 271,692.9 272,692.2 273,691.8 274,690.3 275,689.9 276,689.5 277,688 278,686.9 279,686.1 280,685.4 281,684.4 282,683.2 283,682.6 284,680.8 285,680.7 286,679.6 287,678.3 288,676.8 289,677 290,676.1 291,675.5 292,675.4 293,674.4 294,674.4 295,674.2 296,674.3 297,673.7 298,674 299,673.1 300,673 301,672.7 302,672.5 303,673.6 304,673.3 305,673.1 306,673.1 307,673.1 308,672.4 309,672.3 310,672.2 311,671 312,670.5 313,669.8 314,668.8 315,668 316,667.8 317,667.8 318,667.6 319,666.4 320,666.5 321,666.4 322,665.2 323,664.8 324,665.3 325,665.3 326,665.1 327,665.3 328,664.8 329,664.8 330,664 331,663.7 332,663.1 333,663.3 334,663.1 335,663 336,663.5 337,663.9 338,663.9 339,664.5 340,665.1 341,665.5 342,665.3 343,665.7 344,665.3 345,665.3 346,664.8 347,665.5 348,664 349,664.4 350,663.4 351,663.9 352,662.4 353,662.3 354,661.4 355,661.2 356,659.9 357,659.8 358,660.1 359,660.5 360,660.1 361,659.5 362,660.2 363,660.4 364,660.9 365,661 366,661 367,661.6 368,662.8 369,663.1 370,663.1 371,663.8 372,663.4 373,663.8 374,664.3 375,664.3 376,664.1 377,664.2 378,664.8 379,664 380,663.8 381,664.2 382,662.5 383,662.9 384,663.5 385,662.7 386,662.9 387,663.7 388,663.4 389,663.4 390,664.2 391,662.8 392,663.9 393,663.5 394,664.4 395,665.2 396,665.6 397,665.9 398,666.9 399,667.4 400,667.9 401,668.5 402,668.7 403,669.6 404,669.3 405,668.8 406,669 407,670.1 408,670.1 409,670.8 410,671.4 411,672.3 412,671.6 413,672.2 414,671.7 415,672.5 416,671.6 417,672.9 418,672.5 419,673.5 420,673.1 421,672.5 422,672.7 423,672.7 424,673.3 425,674.1 426,674.1 427,674.1 428,674.4 429,675.6 430,675.1 431,675.9 432,675.8 433,676 434,677 435,676.7 436,678.4 437,679.2 438,678.7 439,678.9 440,679.7 441,680.3 442,680.6 443,681.8 444,683.1 445,682.8 446,683.3 447,683.3 448,683.9 449,684.1 450,684.8 451,685.4 452,685.8 453,686.6 454,686.9 455,688 456,688 457,689.4 458,690.1 459,691.2 460,691.8 461,692.6 462,693.4 463,694 464,694.9 465,694.8 466,695.9 467,697.2 468,697.4 469,699.5 470,700.4 471,700 472,701.8 473,702.4 474,703.2 475,704.5 476,704.7 477,705.8 478,707 479,707.4 480,708.5 481,709.6 482,710.8 483,711.4 484,712.6 485,713.5 486,715.1 487,715.6 488,717 489,717.8 490,718.4 491,719.9 492,720.8 493,721.4 494,722.8 495,724 496,723.6 497,725.2 498,725.1 499,726.5 500,727.8 501,728.6 502,729.3 503,729.8 504,730.7 505,730.7 506,732.5 507,731.8 508,732.8 509,733.1 510,734.1 511,734.8 512,735.3 513,736.9 514,737.2 515,737.9 516,738.9 517,740.1 518,741 519,741.4 520,742.4 521,743.2 522,743.9 523,744.4 524,745.5 525,745.6 526,747.2 527,748.2 528,748.5 529,749 530,749.1 531,750.3 532,751.6 533,751.5 534,752.8 535,753.2 536,754.8 537,755.1 538,756 539,756 540,756.5 541,756.7 542,758.2 543,758.3 544,758.8 545,758.8 546,759.8 547,760 548,760.9 549,762 550,761.9 551,762.1 552,763.1 553,763.7 554,763.9 555,764 556,765.2 557,766 558,766.6 559,767.5 560,767.8 561,768.3 562,768 563,768.8 564,769.4 565,769.7 566,770.7 567,770.9 568,771.7 569,771.9 570,772.6 571,773.4 572,773.7 573,774.3 574,774.4 575,774 576,775.1 577,775.1 578,775.1 579,776.3 580,776.3 581,776.3 582,776.1 583,777.2 584,777.2 585,777.1 586,777.8 587,778.4 588,778.6 589,778.9 590,779.1 591,778.5 592,778.5 593,779.2 594,779.9 595,780.7 596,779.6 597,779.9 598,779.8 599,780.1 600,780.1 601,780.5 602,780.6 603,781.1 604,781 605,781.9 606,781.8 607,781.7 608,781.4 609,781.8 610,781.5 611,781.8 612,781.8 613,782.4 614,782.2 615,782.4 616,782.9 617,782.9 618,782.9 619,782.5 620,783 621,783.7 622,783.5 623,783.4 624,783.9 624.2,784.7" fill="none" stroke="#0a0a0a" stroke-width="2.8" stroke-linejoin="round" stroke-linecap="round" />
<polyline points="135,790.1 136,789.9 137,790 138,790.1 139,789.4 140,788.9 141,789 142,789.7 143,790.2 144,790 145,789.3 146,790.3 147,789.3 148,789.5 149,789.6 150,790 151,790.5 152,789.5 153,789.8 154,790.2 155,789.7 156,790 157,790.3 158,789.7 159,789.6 160,790.1 161,790.3 162,790.5 163,791.5 164,791.3 165,791 166,790.6 167,791.2 168,790.7 169,791.6 170,791.8 171,790.6 172,790.7 173,791.2 174,791.3 175,791.1 176,791.2 177,792.1 178,792 179,791.6 180,792.2 181,793 182,793.7 183,793.4 184,793.4 185,793.4 186,793.8 187,794.6 188,795.4 189,795.9 190,795.7 191,796.4 192,796.8 193,797.1 194,796.2 195,797.2 196,797.7 197,798.7 198,798.7 199,799.2 200,799.6 201,800.4 202,800.7 203,801.2 204,801.8 205,802.1 206,802.4 207,802.4 208,802.9 209,804.2 210,804 211,804.5 212,804.8 213,805.2 214,804.6 215,806.8 216,806.6 217,807.2 218,808.7 219,808 220,809.2 221,809.8 222,809.8 223,811.3 224,811.6 225,812.4 226,812.9 227,813.9 228,815.3 229,814.7 230,815.8 231,816 232,816.6 233,816.5 234,817.3 235,818.2 236,819.4 237,819.9 238,820.6 239,821.2 240,820.9 241,822.3 242,822.4 243,823.2 244,823.4 245,824 246,824.7 247,824 248,825.9 249,826.1 250,826.8 251,826.9 252,827.2 253,827 254,827.6 255,827.3 256,828.4 257,829.7 258,828.9 259,829.4 260,830 261,831.1 262,831.7 263,831.7 264,832 265,832.3 266,832.6 267,833.1 268,833.5 269,834.2 270,834.7 271,834.9 272,835.7 273,835.9 274,836.3 275,835.7 276,835.9 277,836.3 278,836.6 279,836.5 280,837.2 281,836.8 282,837.4 283,837.6 284,837.4 285,837.3 286,837.5 287,837.6 288,837.6 289,838.2 290,838.8 291,839.6 292,840.1 293,840.7 294,841.8 295,843.1 296,842.9 297,843 298,844.1 299,844.7 300,845.6 301,846.2 302,847.3 303,848.3 304,849.5 305,848.5 306,848.2 307,848.7 308,848.9 309,849.8 310,850 311,849.2 312,848.5 313,849.4 314,849.2 315,850 316,849.7 317,849.6 318,849.1 319,849.5 320,850.2 321,849.5 322,849.8 323,849.6 324,850.2 325,850.1 326,850.4 327,850.6 328,850.5 329,850.6 330,852 331,852 332,852 333,852.3 334,853.5 335,853.2 336,853.5 337,852 338,853.3 339,852.6 340,852.8 341,851.9 342,851.6 343,851.8 344,852.2 345,851.6 346,851.1 347,851.7 348,852.5 349,851.4 350,851.4 351,852.2 352,852.1 353,851.5 354,852.4 355,852.9 356,853.2 357,853.7 358,852.6 359,852.5 360,852.4 361,852.2 362,851.4 363,851.1 364,850.5 365,850.8 366,850.9 367,849.9 368,850 369,849.2 370,849.4 371,848.6 372,848.9 373,849.3 374,849.3 375,848.1 376,848.6 377,848.6 378,849.4 379,849.3 380,849.7 381,849.1 382,848.7 383,848.1 384,849.1 385,849.2 386,849.6 387,849.5 388,849.6 389,850.1 390,849.1 391,849.6 392,850 393,849.7 394,850.2 395,849.3 396,849.2 397,848.9 398,848.8 399,849.5 400,848.4 401,848.3 402,848.2 403,848.3 404,848.1 405,848.4 406,848.3 407,848.7 408,848.3 409,847.3 410,846.6 411,846.8 412,846.7 413,846.7 414,847.3 415,847 416,846.1 417,846 418,846.9 419,845.9 420,846.3 421,846.4 422,845.5 423,845.1 424,845.6 425,845.6 426,845.8 427,845.6 428,844.8 429,845.7 430,845.2 431,844.9 432,844.8 433,843.9 434,843.9 435,844.4 436,844.4 437,843.8 438,843.6 439,843.1 440,842.6 441,842.2 442,841.3 443,840.9 444,840.5 445,840.1 446,839.4 447,838.8 448,838.5 449,838 450,837.6 451,837 452,836.7 453,836.8 454,836.6 455,835.9 456,835.3 457,834.9 458,834.5 459,835.3 460,834.3 461,834.5 462,834 463,833.9 464,833.1 465,832.9 466,833.1 467,833.2 468,832.4 469,832.4 470,832 471,831.8 472,831.2 473,830.7 474,831.3 475,830.2 476,830.1 477,829.5 478,829.3 479,828.7 480,828.2 481,828.1 482,828.2 483,827.3 484,827.8 485,827.2 486,827 487,826.2 488,826.5 489,825.9 490,825.7 491,824.5 492,825.5 493,825 494,824 495,823.5 496,823.5 497,822.8 498,822.1 499,822.1 500,822.5 501,822 502,821.5 503,820.7 504,821 505,819.7 506,819 507,818.3 508,818.4 509,817.6 510,817.4 511,817.3 512,815.9 513,815.5 514,815.6 515,815.1 516,814.4 517,813.9 518,813.1 519,812.9 520,812.7 521,811.6 522,811 523,810.2 524,810.2 525,810.4 526,809.5 527,809.2 528,809.5 529,808.5 530,808.2 531,808 532,807.7 533,808.4 534,807.4 535,807.6 536,807.1 537,807.4 538,807.3 539,805.5 540,805.6 541,805.2 542,805.5 543,805.5 544,804.7 545,804.1 546,804 547,803 548,803.2 549,803.1 550,802.7 551,801.9 552,802.1 553,801.6 554,801.1 555,801.1 556,800.3 557,800.7 558,800.1 559,799.4 560,799.5 561,800 562,799.6 563,798.2 564,797.8 565,798.2 566,798.2 567,797.5 568,797.5 569,796.5 570,796.9 571,795.8 572,796.1 573,796.5 574,795.8 575,795.9 576,794.4 577,795.3 578,794.9 579,795.2 580,794.2 581,795.2 582,794.7 583,795.1 584,793.8 585,793.6 586,794.3 587,794.1 588,793.4 589,793.3 590,793.1 591,793.8 592,793.2 593,793.3 594,793.7 595,792.9 596,792.8 597,792.7 598,793.4 599,792.9 600,793.3 601,793.3 602,793.2 603,793.3 604,793.2 605,792.7 606,793.1 607,794 608,793.3 609,792.8 610,792.7 611,792.5 612,792.4 613,791.6 614,791.8 615,792.6 616,792.6 617,792.5 618,792.1 619,792.3 620,792.3 621,791.9 622,791.4 623,791.5 624,792 624.2,792.3" fill="none" stroke="#ec1c24" stroke-width="2.7" stroke-linejoin="round" stroke-linecap="round" />
<polyline points="135,789 136,789.1 137,789.1 138,789.1 139,789.1 140,789 141,789 142,789 143,789 144,789.1 145,789.2 146,789.1 147,789.2 148,789.2 149,789.1 150,789 151,789.1 152,788.9 153,789.1 154,789.1 155,789 156,788.7 157,788.9 158,789 159,789.1 160,788.7 161,788.9 162,789 163,789 164,788.9 165,788.7 166,789 167,789 168,788.8 169,789.1 170,788.9 171,789 172,788.8 173,788.9 174,788.9 175,789.2 176,788.9 177,788.8 178,789.1 179,789.2 180,789.1 181,789 182,788.9 183,788.7 184,789 185,789.1 186,789.2 187,789.2 188,789.2 189,789.3 190,789 191,789.3 192,789.2 193,789 194,788.8 195,788.9 196,789.1 197,789.1 198,789.3 199,789.6 200,789.4 201,789.4 202,789.4 203,789 204,788.9 205,788.9 206,789.2 207,788.8 208,789.4 209,789 210,788.8 211,788.8 212,788.7 213,788.9 214,789 215,789.4 216,789.1 217,789.3 218,789.3 219,789.3 220,788.7 221,788.9 222,789 223,788.8 224,789.1 225,789.3 226,789.3 227,789.2 228,788.8 229,789.1 230,788.8 231,789 232,788.8 233,788.7 234,789 235,788.9 236,788.5 237,789 238,789.2 239,789.3 240,788.8 241,788.9 242,789.2 243,789.2 244,789 245,789.2 246,789 247,788.6 248,788.8 249,788.7 250,788.6 251,789 252,788.7 253,789.2 254,788.9 255,788.9 256,788.9 257,789.1 258,788.9 259,789 260,789.1 261,788.8 262,788.7 263,788.6 264,788.4 265,789.2 266,788.9 267,789.1 268,788.8 269,789.4 270,789.3 271,789.5 272,789.2 273,789.4 274,789 275,788.6 276,789.2 277,789.3 278,789.3 279,789.1 280,788.9 281,788.7 282,788.7 283,788.9 284,789.3 285,789.1 286,788.6 287,788.4 288,788.4 289,788.4 290,788.9 291,789.3 292,789.4 293,789 294,788.6 295,789 296,788.1 297,788.4 298,787.8 299,788.2 300,788.3 301,788.8 302,788.3 303,788.3 304,788.2 305,788 306,788 307,787.4 308,787.4 309,787.6 310,787.8 311,788.1 312,788.3 313,788.2 314,788 315,787.8 316,788.1 317,787.8 318,788.3 319,788.1 320,788.4 321,788.9 322,788.4 323,788.8 324,788.7 325,788.6 326,788.7 327,789.5 328,789.7 329,789.1 330,788.7 331,788.9 332,788.3 333,788.5 334,788.8 335,789.2 336,788.8 337,788.7 338,788.9 339,788.2 340,788.4 341,788.7 342,788.6 343,789.3 344,789.5 345,788.4 346,788.1 347,787.9 348,787.6 349,787.1 350,787.9 351,787.8 352,787.8 353,788.5 354,788.4 355,787.8 356,787.7 357,787.5 358,788.1 359,788.2 360,788.7 361,788.6 362,789 363,789.6 364,789.1 365,788.9 366,788.9 367,789.5 368,789 369,788.4 370,788 371,788.5 372,788.3 373,788.4 374,789.1 375,788.9 376,789 377,789.1 378,789.2 379,789 380,788.7 381,789.6 382,789.3 383,789.2 384,789.3 385,789.6 386,788.9 387,788.8 388,789.6 389,790 390,789.7 391,789.3 392,789.7 393,790 394,789.3 395,789.6 396,789.5 397,789.5 398,789.4 399,789.5 400,789.2 401,789.3 402,789.2 403,789.5 404,789.3 405,789 406,788.8 407,789 408,789 409,789 410,789 411,789 412,789.4 413,788.6 414,789.3 415,789.6 416,789.3 417,789.1 418,789.1 419,789.2 420,789.4 421,789.9 422,790.5 423,789.9 424,790.1 425,790.3 426,789.7 427,790 428,790.2 429,790.1 430,789.5 431,789.7 432,789.4 433,789.1 434,789.2 435,789.1 436,789.3 437,788.8 438,788.5 439,788.9 440,788.8 441,789.4 442,789.2 443,789 444,789.5 445,789 446,788.8 447,788.9 448,789.1 449,789.2 450,789.7 451,789 452,789.3 453,788.9 454,789 455,788.8 456,788.9 457,788.7 458,788.9 459,789.2 460,789.4 461,788.9 462,789.2 463,789.5 464,788.7 465,788.8 466,788.3 467,788.3 468,788.3 469,788.2 470,788 471,787.9 472,788.7 473,788.6 474,788 475,788.1 476,788.7 477,788.8 478,788.1 479,788 480,788.4 481,788.5 482,788.6 483,789 484,788.7 485,789 486,789.3 487,789.3 488,789 489,789.2 490,789.4 491,789.5 492,789.6 493,789.1 494,788.8 495,788.2 496,788.8 497,788.8 498,789.2 499,788.5 500,789 501,789 502,789 503,788.7 504,789 505,789 506,788.6 507,789 508,788.9 509,788.6 510,788.4 511,789.1 512,788.7 513,788.7 514,788.6 515,789.2 516,788.9 517,788.4 518,788.9 519,789.4 520,788.8 521,789.4 522,789 523,788.7 524,788.9 525,789 526,788.9 527,789.3 528,788.9 529,788.9 530,789.1 531,788.6 532,788.9 533,789.1 534,788.6 535,788.7 536,788.5 537,788.2 538,788.4 539,788.6 540,788.5 541,788.4 542,788.2 543,788.1 544,788.7 545,788.8 546,788.6 547,788.5 548,788.9 549,788.9 550,789 551,789.1 552,789.2 553,788.9 554,788.9 555,789 556,788.8 557,788.8 558,788.8 559,788.8 560,788.7 561,788.9 562,789 563,789.1 564,789.1 565,789.1 566,789.1 567,789.1 568,788.8 569,788.9 570,788.8 571,788.7 572,788.6 573,788.9 574,789 575,788.9 576,789 577,789.1 578,788.9 579,788.8 580,788.9 581,789 582,789.1 583,789 584,789 585,789.1 586,789.2 587,788.9 588,789 589,788.8 590,788.9 591,789.1 592,789 593,789 594,788.9 595,789 596,788.9 597,789.1 598,788.8 599,789 600,789.2 601,789 602,788.8 603,789.1 604,789.1 605,789.1 606,788.8 607,788.9 608,789 609,789 610,788.9 611,788.8 612,788.8 613,788.7 614,789.1 615,789.1 616,789 617,789 618,789 619,788.9 620,788.8 621,788.8 622,789 623,789.1 624,789.1 625,789.1" fill="none" stroke="#2c46b4" stroke-width="2.2" stroke-linejoin="round" stroke-linecap="round" />
<polyline points="135,789.3 136,789.5 137,789.3 138,789.4 139,789.3 140,789.4 141,789.5 142,789.5 143,789.5 144,789.4 145,789.4 146,789.7 147,789.4 148,789.4 149,789.6 150,789.4 151,789.3 152,789.3 153,789.2 154,789.3 155,789.4 156,789.4 157,789.2 158,789.5 159,789.3 160,789.2 161,789.3 162,789.3 163,789.5 164,789.2 165,789.4 166,789.4 167,789.3 168,789.5 169,789.3 170,789.3 171,789.2 172,789 173,789.5 174,789.3 175,789.4 176,789.7 177,789.6 178,789.2 179,789.3 180,789.2 181,789.3 182,789.2 183,789.2 184,789.3 185,789.3 186,789.3 187,789.2 188,789.7 189,789.5 190,789.8 191,789.6 192,789.2 193,789.2 194,789.2 195,788.8 196,789.2 197,789.6 198,789.5 199,788.8 200,789.4 201,789 202,789.1 203,789.4 204,789.5 205,789.6 206,789.2 207,789.4 208,789.1 209,789.3 210,789.3 211,789.3 212,789.8 213,789.2 214,789.3 215,788.9 216,789.3 217,789.4 218,789.2 219,789.5 220,789.5 221,788.9 222,789.9 223,790 224,789.5 225,789.7 226,790.1 227,789.8 228,789.7 229,789.6 230,789.2 231,789.1 232,789.4 233,789.6 234,789.5 235,789.5 236,789.5 237,789.6 238,789.5 239,789.1 240,789.2 241,789.5 242,788.9 243,788.8 244,789.1 245,789.4 246,789.4 247,789.8 248,788.9 249,788.9 250,789.7 251,789.7 252,789.4 253,789.5 254,789.5 255,789.5 256,789.5 257,789.2 258,789.2 259,789.7 260,789.3 261,788.8 262,789 263,788.4 264,788.3 265,789.3 266,789.6 267,788.6 268,788.8 269,788.9 270,789.4 271,789.2 272,790 273,789.4 274,789.4 275,789.6 276,789.4 277,788.8 278,789.3 279,789.6 280,789.1 281,788.7 282,788.9 283,789.8 284,789.9 285,789.8 286,789.2 287,789.6 288,789.8 289,789.8 290,789.5 291,789.9 292,789.9 293,789.5 294,789.9 295,789.9 296,790.5 297,790 298,789.3 299,790.1 300,790.1 301,790.1 302,790 303,790 304,790.5 305,790.8 306,790.6 307,790.6 308,789.7 309,789.3 310,789.2 311,789.6 312,789 313,788.8 314,789.5 315,790 316,789.3 317,790.2 318,790.3 319,789.4 320,789.4 321,789.9 322,789.5 323,789.3 324,789.5 325,790.2 326,789.4 327,789.4 328,789 329,788.7 330,789.8 331,790.1 332,789.4 333,789.4 334,789.7 335,789.7 336,790.4 337,790.3 338,788.8 339,788.4 340,789.3 341,789.1 342,789.9 343,789.9 344,790 345,790.5 346,790 347,789 348,789.2 349,789.6 350,789.2 351,789 352,790.3 353,789.4 354,789.7 355,790.2 356,789.7 357,789.4 358,789.6 359,790.4 360,790.2 361,790.7 362,789.7 363,790.4 364,789.9 365,789.5 366,789.5 367,789.3 368,789.8 369,789.7 370,789.4 371,790.2 372,790.1 373,789.9 374,789.9 375,789.4 376,789.7 377,789.8 378,790.2 379,790 380,789.7 381,789.9 382,789.8 383,789 384,789.7 385,789 386,788.7 387,788.9 388,789.2 389,789.4 390,789 391,789.4 392,789.3 393,788.6 394,788.4 395,788.5 396,789 397,789.4 398,789 399,788.7 400,789 401,789.4 402,789 403,789.1 404,788.7 405,788.6 406,788.1 407,788.3 408,788.3 409,787.3 410,788.3 411,788.6 412,788.9 413,788.9 414,789 415,789.3 416,790 417,789 418,789.3 419,789.6 420,789.3 421,788.9 422,788.9 423,790.3 424,790.5 425,790 426,790.2 427,790.2 428,790.2 429,790.7 430,790 431,789.7 432,789.5 433,789.8 434,789.7 435,790.2 436,790.1 437,789.9 438,790.5 439,790.4 440,790.1 441,789.7 442,789.4 443,789.7 444,789.8 445,789 446,790.1 447,789.5 448,790 449,789.5 450,789.1 451,789.6 452,789.7 453,790.2 454,789.9 455,789.8 456,789.9 457,790.3 458,789.6 459,789.6 460,788.9 461,789.6 462,789.3 463,788.7 464,788.9 465,789.1 466,788.9 467,788.8 468,789.1 469,788.7 470,789.4 471,789.4 472,789.3 473,789.5 474,789.4 475,790.2 476,789.4 477,788.9 478,789.4 479,789.7 480,789.7 481,789.5 482,789.3 483,790 484,789.6 485,790 486,789.4 487,788.7 488,789.4 489,789 490,789.3 491,790.1 492,790.5 493,790.1 494,790 495,789.1 496,789.7 497,789.6 498,789.3 499,790.2 500,790.4 501,790.4 502,790 503,789.5 504,789.2 505,789.9 506,789.8 507,789.9 508,790 509,789.9 510,789.6 511,790 512,789.6 513,789.7 514,789 515,789.1 516,789.8 517,789.3 518,789.5 519,789 520,789.5 521,789.5 522,789.4 523,789 524,789 525,789 526,789.3 527,789.4 528,789.4 529,789.5 530,789.7 531,789.3 532,789.3 533,789.9 534,789.5 535,789.8 536,789.6 537,789 538,789.4 539,789.5 540,789.4 541,789.3 542,789.4 543,789.5 544,789.6 545,789.1 546,789.5 547,789.4 548,789.5 549,789.4 550,789.4 551,789.1 552,789.2 553,788.7 554,789.2 555,789.1 556,789.7 557,789.4 558,789.1 559,789.1 560,789.7 561,789 562,789.1 563,789.4 564,789.5 565,789.6 566,789.5 567,789.6 568,789.2 569,789.3 570,789.3 571,789.3 572,789.3 573,789.6 574,789.3 575,789.5 576,789.5 577,789.3 578,789.1 579,789.1 580,789.4 581,789.5 582,789.3 583,789.4 584,789.3 585,789.5 586,789.4 587,789.4 588,789.2 589,789.6 590,789.7 591,789.7 592,789.4 593,789.5 594,789.5 595,789.5 596,789.5 597,789.2 598,789.2 599,789.5 600,789.1 601,789.3 602,789.4 603,789.6 604,789.5 605,789.4 606,789.2 607,789.5 608,789.6 609,789.5 610,789.2 611,789.2 612,789.4 613,789.5 614,789.4 615,789.4 616,789.4 617,789.5 618,789.4 619,789.4 620,789.4 621,789.4 622,789.4 623,789.3 624,789.4 625,789.5" fill="none" stroke="#b748b9" stroke-width="2.0" stroke-linejoin="round" stroke-linecap="round" />
</g>
<rect x="135" y="596.2" width="489.4" height="387" fill="none" stroke="#141414" stroke-width="2.4"/>
<path d="M162 983.2 v-7 M162 596.2 v7" stroke="#141414" stroke-width="2.2"/>
<path d="M297.9 983.2 v-7 M297.9 596.2 v7" stroke="#141414" stroke-width="2.2"/>
<path d="M433.8 983.2 v-7 M433.8 596.2 v7" stroke="#141414" stroke-width="2.2"/>
<path d="M569.7 983.2 v-7 M569.7 596.2 v7" stroke="#141414" stroke-width="2.2"/>
<path d="M229.9 983.2 v-4 M229.9 596.2 v4" stroke="#141414" stroke-width="2.2"/>
<path d="M365.8 983.2 v-4 M365.8 596.2 v4" stroke="#141414" stroke-width="2.2"/>
<path d="M501.7 983.2 v-4 M501.7 596.2 v4" stroke="#141414" stroke-width="2.2"/>
<text x="162" y="1007.8" font-size="23.4" font-weight="bold" text-anchor="middle" fill="#111" >550</text>
<text x="297.9" y="1007.8" font-size="23.4" font-weight="bold" text-anchor="middle" fill="#111" >600</text>
<text x="433.8" y="1007.8" font-size="23.4" font-weight="bold" text-anchor="middle" fill="#111" >650</text>
<text x="569.7" y="1007.8" font-size="23.4" font-weight="bold" text-anchor="middle" fill="#111" >700</text>
<path d="M135 634.5 h7 M624.4 634.5 h-7" stroke="#141414" stroke-width="2.2"/>
<path d="M135 711.8 h7 M624.4 711.8 h-7" stroke="#141414" stroke-width="2.2"/>
<path d="M135 789 h7 M624.4 789 h-7" stroke="#141414" stroke-width="2.2"/>
<path d="M135 866.2 h7 M624.4 866.2 h-7" stroke="#141414" stroke-width="2.2"/>
<path d="M135 943.5 h7 M624.4 943.5 h-7" stroke="#141414" stroke-width="2.2"/>
<path d="M135 673.1 h4 M624.4 673.1 h-4" stroke="#141414" stroke-width="2.2"/>
<path d="M135 750.4 h4 M624.4 750.4 h-4" stroke="#141414" stroke-width="2.2"/>
<path d="M135 827.6 h4 M624.4 827.6 h-4" stroke="#141414" stroke-width="2.2"/>
<path d="M135 904.9 h4 M624.4 904.9 h-4" stroke="#141414" stroke-width="2.2"/>
<text x="127" y="642.8" font-size="23.4" font-weight="bold" text-anchor="end" fill="#111" >80</text>
<text x="127" y="720" font-size="23.4" font-weight="bold" text-anchor="end" fill="#111" >40</text>
<text x="127" y="797.3" font-size="23.4" font-weight="bold" text-anchor="end" fill="#111" >0</text>
<text x="127" y="874.5" font-size="23.4" font-weight="bold" text-anchor="end" fill="#111" >−40</text>
<text x="127" y="951.8" font-size="23.4" font-weight="bold" text-anchor="end" fill="#111" >−80</text>
<path d="M254.5 616.3 H307.5" stroke="#0a0a0a" stroke-width="2.4"/>
<text x="313" y="623.9" font-size="21.6" font-weight="normal" text-anchor="start" fill="#111" textLength="108" lengthAdjust="spacingAndGlyphs">QDs/CP-R</text>
<path d="M427.5 616.3 H481" stroke="#ec1c24" stroke-width="2.4"/>
<text x="487.5" y="623.9" font-size="21.6" font-weight="normal" text-anchor="start" fill="#111" textLength="108.5" lengthAdjust="spacingAndGlyphs">QDs/CP-S</text>
<path d="M254.5 644.5 H307.5" stroke="#2c46b4" stroke-width="2.4"/>
<text x="313" y="652.1" font-size="21.6" font-weight="normal" text-anchor="start" fill="#111" textLength="96" lengthAdjust="spacingAndGlyphs">QDs-only</text>
<path d="M427.5 644.5 H481" stroke="#b748b9" stroke-width="2.4"/>
<text x="487.5" y="652.1" font-size="21.6" font-weight="normal" text-anchor="start" fill="#111" textLength="125" lengthAdjust="spacingAndGlyphs">QDs/CP-rac</text>
<text x="379.5" y="1052.6" font-size="29.9" font-weight="bold" text-anchor="middle" fill="#111" >Wavelength (nm)</text>
<text transform="translate(70.6,780) rotate(-90)" font-size="30.4" font-weight="bold" text-anchor="middle" fill="#111" >CPL (mdeg)</text>
<text x="34.5" y="603.3" font-size="57" font-weight="normal" text-anchor="start" fill="#111"  style="letter-spacing:2.6px">(c)</text>
<g clip-path="url(#clipD)">
<polyline points="853,797.5 854,791.7 855,787.5 856,786.3 857,783.7 858,783 859,781.8 860,779.8 861,782.3 862,782.4 863,782.4 864,783.7 865,784.3 866,782.8 867,782.3 868,780.1 869,782.6 870,782.5 871,782.7 872,780.7 873,777.5 874,780.6 875,782.9 876,780.5 877,775.8 878,774.8 879,773.3 880,769.7 881,768.4 882,767.2 883,764.7 884,767.6 885,767.3 886,765.2 887,763.1 888,759.2 889,757.6 890,753.9 891,753.1 892,752 893,751.7 894,749.7 895,749.1 896,747.2 897,745.3 898,744 899,741.9 900,739.2 901,737.6 902,734.6 903,733.6 904,732.3 905,729.8 906,731.3 907,732.6 908,729 909,728.6 910,725.1 911,723.8 912,719.2 913,720.2 914,717.7 915,715.3 916,714.1 917,713.3 918,709.6 919,709.6 920,706.4 921,706.7 922,705.1 923,704.4 924,703 925,701.2 926,700.8 927,702 928,702.1 929,702.6 930,701.2 931,701.8 932,702.8 933,701.9 934,701.8 935,701 936,702 937,703.7 938,703.4 939,703.9 940,702 941,700.7 942,700 943,698.6 944,697.6 945,697.4 946,696.3 947,694.1 948,695 949,694.9 950,693 951,691.2 952,689.4 953,688.6 954,688.5 955,688.8 956,687.6 957,687.4 958,687 959,688.1 960,687.9 961,690.2 962,689.8 963,689.6 964,691.4 965,692 966,691.3 967,690.7 968,693 969,692.7 970,694.1 971,693 972,693.4 973,693.6 974,693.3 975,693.2 976,694.9 977,693.9 978,694.8 979,694.2 980,693.5 981,693.4 982,692.9 983,693.3 984,694 985,694.3 986,693.9 987,695.3 988,695.4 989,696.5 990,695.4 991,697.7 992,696.6 993,697.3 994,697.3 995,695.9 996,695.9 997,696.5 998,696.4 999,694.7 1000,695.2 1001,694.5 1002,692.6 1003,693.4 1004,692.3 1005,690.8 1006,691.8 1007,691.4 1008,690.7 1009,689.8 1010,689.9 1011,691.6 1012,690.9 1013,690.5 1014,690.8 1015,692.7 1016,693.8 1017,692.2 1018,692.6 1019,694 1020,694.8 1021,694.1 1022,695 1023,696.5 1024,695.4 1025,695.7 1026,696.4 1027,697.2 1028,696.9 1029,695.7 1030,696.2 1031,696.7 1032,695.2 1033,694.8 1034,694.7 1035,696.3 1036,694.9 1037,693.8 1038,695.3 1039,695.2 1040,694 1041,694.2 1042,694 1043,694.2 1044,693.5 1045,693.5 1046,692.8 1047,693.1 1048,693.6 1049,693.7 1050,693.6 1051,692.9 1052,694.5 1053,694.8 1054,695.2 1055,697 1056,696.4 1057,696.3 1058,696.6 1059,694.9 1060,695.4 1061,695.3 1062,695.6 1063,695.4 1064,695.5 1065,694.7 1066,693.9 1067,693.9 1068,692.5 1069,692.2 1070,692.2 1071,693 1072,692.1 1073,690.5 1074,691.3 1075,691 1076,691 1077,691.8 1078,691.4 1079,692.2 1080,692 1081,691.2 1082,692 1083,692.7 1084,693.9 1085,692.5 1086,692.8 1087,692 1088,692.5 1089,691.9 1090,693.6 1091,694.6 1092,693.5 1093,694.9 1094,694.4 1095,693.5 1096,693.5 1097,692.3 1098,692.9 1099,692.9 1100,691.4 1101,692.1 1102,691.5 1103,691.2 1104,691.1 1105,691.6 1106,691.3 1107,692 1108,692.6 1109,691.5 1110,690.8 1111,691.5 1112,690.4 1113,691 1114,691.2 1115,692.5 1116,692.5 1117,692.7 1118,691 1119,692.6 1120,693.1 1121,692.2 1122,694.6 1123,694.2 1124,695.6 1125,694.6 1126,693 1127,695.2 1128,694.7 1129,695.1 1130,695.8 1131,694.1 1132,695.1 1133,693.8 1134,695 1135,694.7 1136,694 1137,693.7 1138,693.9 1139,693.3 1140,691.5 1141,693.2 1142,693.2 1143,693.1 1144,692.5 1145,692.8 1146,693 1147,692.7 1148,690.6 1149,691.1 1150,691.9 1151,691.6 1152,692.5 1153,691.9 1154,692.8 1155,691 1156,691.7 1157,692.9 1158,690.9 1159,691.6 1160,693.1 1161,692.1 1162,692 1163,692.1 1164,691.4 1165,691.3 1166,692.6 1167,692.1 1168,690.9 1169,691.1 1170,690.5 1171,692.2 1172,691.9 1173,692.1 1174,692.4 1175,691.4 1176,692.7 1177,692.7 1178,693.2 1179,692.4 1180,692.7 1181,692.1 1182,692.7 1183,692.8 1184,694.9 1185,694.2 1186,694 1187,694.4 1188,694.4 1189,693.8 1190,694.4 1191,694.5 1192,693 1193,694.4 1194,695.7 1195,696.3 1196,697.9 1197,697.5 1198,695.7 1199,697.8 1200,697.6 1201,697.9 1202,697.6 1203,699.2 1204,700 1205,699 1206,700.3 1207,699.7 1208,700.2 1209,702 1210,701.6 1211,701.7 1212,700.7 1213,701.7 1214,703.1 1215,702.5 1216,702.7 1217,703.4 1218,702.6 1219,701.3 1220,701.8 1221,702 1222,701.6 1223,699.3 1224,699.6 1225,700.7 1226,698.7 1227,699 1228,699.2 1229,698.4 1230,698.4 1231,697.9 1232,698.3 1233,698.9 1234,698.3 1235,700.4 1236,700.1 1237,700.8 1238,699.6 1239,698.2 1240,699 1241,698.9 1242,700.3 1243,700.8 1244,701.5 1245,701.2 1246,700.7 1247,701.9 1248,702.1 1249,702 1250,702.7 1251,700.4 1252,701.9 1253,701.7 1254,702.1 1255,700.9 1256,700.6 1257,702 1258,699.2 1259,700.6 1260,700 1261,700 1262,700 1263,699 1264,699.6 1265,700.8 1266,700.5 1267,701.6 1268,700.6 1269,700.9 1270,700.6 1271,701.9 1272,701.7 1273,702.1 1274,701.7 1275,703.8 1276,702 1277,701.2 1278,702.1 1279,702.4 1280,702.3 1281,702.1 1282,702.5 1283,703.1 1284,702.7 1285,703.2 1286,703.7 1287,705.5 1288,704.2 1289,706.2 1290,706.1 1291,706.6 1292,708.2 1293,708.3 1294,706.9 1295,706.8 1296,706.2 1297,707.3 1298,708.1 1299,708.5 1300,707 1301,706.9 1302,708.5 1303,707.3 1304,707 1305,708.1 1306,706.5 1307,704.1 1308,701.4 1309,699.4 1310,698.2 1311,698.3 1312,698.2 1313,698.4 1314,699.3 1315,698.4 1316,699.2 1317,698.8 1318,697 1319,695.4 1320,693.3 1321,693.3 1322,694.1 1323,695.4 1324,695.7 1325,696.2 1326,696.4 1327,695.3 1328,695.5 1329,696.1 1330,697.1 1331,698.9 1332,699.4 1333,701.6 1334,701.8 1335,701.9 1336,702.9 1337,699.3 1338,697 1339,693.3 1340,686.9 1341,679.3 1342,674.8 1342,675.9" fill="none" stroke="#0a0a0a" stroke-width="2.9" stroke-linejoin="round" stroke-linecap="round" />
<polyline points="853,814 854,815.1 855,816.3 856,818.9 857,820.9 858,821.3 859,822.8 860,823.5 861,826.1 862,827.8 863,829.3 864,829.4 865,826.7 866,824.8 867,824.1 868,823.8 869,824.7 870,826.7 871,827.4 872,828.6 873,828.3 874,829.7 875,830.2 876,832.1 877,832.5 878,833.2 879,834.5 880,836.1 881,836.9 882,838.4 883,840.4 884,843.1 885,845.2 886,843.2 887,842.2 888,842.9 889,842.1 890,841.9 891,842.6 892,842.7 893,843.6 894,844.4 895,844.5 896,844.8 897,847.5 898,848.3 899,848.6 900,850.3 901,851.4 902,853.2 903,854.8 904,856.3 905,856.8 906,857.4 907,856.5 908,856.4 909,856.7 910,857.9 911,858.6 912,858.5 913,859.3 914,860.4 915,860.7 916,860.7 917,861.8 918,862.8 919,863.9 920,864.5 921,864.5 922,865.5 923,865.4 924,866.3 925,866.9 926,868 927,866.7 928,866.7 929,867.7 930,869.2 931,867.7 932,867.5 933,868 934,868.7 935,867 936,868.1 937,869.2 938,869.5 939,869.2 940,870.4 941,869.8 942,869.2 943,869.7 944,870.7 945,870.5 946,870.4 947,869.8 948,870.3 949,872.8 950,872.6 951,873.2 952,874 953,875.4 954,874.4 955,875.9 956,875.9 957,874.6 958,874.5 959,874.8 960,873 961,872.8 962,873.7 963,872.5 964,873.3 965,872.6 966,872.3 967,873.1 968,874 969,873.2 970,872.4 971,871.7 972,871.4 973,870.9 974,871.2 975,871.7 976,872.4 977,871.9 978,873.2 979,874.2 980,873.9 981,874.2 982,873.5 983,872.3 984,872.9 985,872.9 986,872.7 987,872.8 988,873.8 989,873.9 990,874.5 991,874.8 992,873.9 993,876 994,875.5 995,876.2 996,875.2 997,875.1 998,874.2 999,873.1 1000,872.5 1001,872.5 1002,872.9 1003,873 1004,873.1 1005,872.1 1006,872.8 1007,871.8 1008,871.6 1009,871.6 1010,871.8 1011,871.6 1012,871.6 1013,872.6 1014,873.7 1015,873.4 1016,873.7 1017,875.2 1018,874.5 1019,875.2 1020,876.6 1021,876.4 1022,877.1 1023,877.2 1024,878.4 1025,878.1 1026,879.6 1027,879.1 1028,879.3 1029,878.5 1030,877.9 1031,877.4 1032,878.2 1033,877.7 1034,876.3 1035,875.4 1036,876.6 1037,877 1038,875.5 1039,876.3 1040,876.2 1041,875.7 1042,876 1043,876.1 1044,877.2 1045,876.5 1046,877 1047,877.9 1048,878.3 1049,877.8 1050,879.4 1051,879.5 1052,880.5 1053,879.9 1054,880.7 1055,879.9 1056,880 1057,879.8 1058,879.2 1059,878.8 1060,878.4 1061,878.1 1062,878.5 1063,878.5 1064,876.9 1065,878 1066,877.9 1067,877.7 1068,878 1069,876.1 1070,877.4 1071,877 1072,878.6 1073,877.1 1074,878.5 1075,878.4 1076,879.9 1077,880.4 1078,880.3 1079,880.1 1080,879.1 1081,878 1082,877.4 1083,876.2 1084,876.7 1085,875.6 1086,877.3 1087,876.7 1088,876.2 1089,877.3 1090,875.5 1091,874.9 1092,875 1093,874.7 1094,875.7 1095,875 1096,875.9 1097,874.8 1098,876.6 1099,877.2 1100,876.5 1101,874.9 1102,877.2 1103,877.7 1104,876 1105,875.4 1106,876.5 1107,877.4 1108,877.8 1109,877.8 1110,877.9 1111,878.5 1112,878 1113,878.6 1114,879.9 1115,879.3 1116,877.9 1117,878.2 1118,878.6 1119,878.9 1120,878.8 1121,878.8 1122,877.5 1123,877.6 1124,877.9 1125,878 1126,876.4 1127,876.1 1128,876.8 1129,877.2 1130,877 1131,877 1132,876.7 1133,876.8 1134,876.3 1135,876.4 1136,876.1 1137,877.1 1138,877.1 1139,877.2 1140,876.1 1141,877.2 1142,876.2 1143,877.2 1144,876.4 1145,877.7 1146,876.7 1147,876.8 1148,877.8 1149,877.9 1150,877.8 1151,877.8 1152,878.2 1153,878.8 1154,878 1155,878.9 1156,878 1157,877.4 1158,878.1 1159,877.4 1160,877.1 1161,877.9 1162,877.4 1163,877.4 1164,877.1 1165,876.9 1166,876.9 1167,875.6 1168,875.5 1169,875.7 1170,874.6 1171,875.4 1172,874.7 1173,874 1174,874.3 1175,874.1 1176,873.4 1177,873.1 1178,873.3 1179,874.3 1180,875.6 1181,873.9 1182,875.4 1183,874 1184,873.9 1185,874 1186,874.8 1187,875.1 1188,875.3 1189,875.3 1190,875 1191,874.5 1192,875.3 1193,875.5 1194,875.9 1195,876 1196,875.4 1197,875.7 1198,876 1199,877.3 1200,876.7 1201,877 1202,876.9 1203,876.6 1204,877.7 1205,878.3 1206,876.9 1207,877.3 1208,876.3 1209,876.8 1210,875.6 1211,876.5 1212,876.2 1213,876.4 1214,874.7 1215,876.1 1216,875.6 1217,877.2 1218,877.3 1219,878.4 1220,878.3 1221,877 1222,877.2 1223,879.1 1224,879.5 1225,880.6 1226,879.6 1227,880.3 1228,880.4 1229,880.3 1230,879.5 1231,878.9 1232,878.8 1233,879.9 1234,877.9 1235,877.8 1236,878 1237,877.2 1238,878.1 1239,873.9 1240,872.7 1241,872.4 1242,872.7 1243,872.1 1244,872.7 1245,872.5 1246,871.4 1247,871.7 1248,871.2 1249,871.7 1250,871.4 1251,872 1252,872.3 1253,870.5 1254,870.6 1255,870.9 1256,870.6 1257,870 1258,869.1 1259,869.3 1260,869.6 1261,870 1262,869.2 1263,869.5 1264,869.6 1265,871 1266,870.8 1267,872.5 1268,871 1269,872.6 1270,873.3 1271,873.8 1272,874.8 1273,874.9 1274,874.8 1275,874.1 1276,874.3 1277,874.7 1278,875.8 1279,875.1 1280,875.6 1281,875 1282,874.5 1283,873.1 1284,872.8 1285,873.9 1286,873.3 1287,873.4 1288,872.8 1289,873 1290,873 1291,872.5 1292,871.9 1293,872.3 1294,872.7 1295,873.2 1296,872.7 1297,871.4 1298,871.7 1299,871.6 1300,870.4 1301,869.5 1302,868.9 1303,868.3 1304,867.9 1305,866.9 1306,867 1307,865.3 1308,866 1309,865.7 1310,868.2 1311,870.5 1312,870.5 1313,874 1314,874.2 1315,873.6 1316,872.4 1317,870.3 1318,872.9 1319,872.7 1320,873.2 1321,876.8 1322,877.3 1323,878.4 1324,877.6 1325,878.5 1326,880.3 1327,880 1328,881.1 1329,878.6 1330,874.4 1331,874.8 1332,876.1 1333,880 1334,878.6 1335,875.8 1336,872.6 1337,874.5 1338,876.4 1339,878.4 1340,879.1 1341,882.2 1342,883.1 1342,883.4" fill="none" stroke="#ec1c24" stroke-width="2.9" stroke-linejoin="round" stroke-linecap="round" />
<polyline points="853,817.3 854,817.3 855,817.5 856,817.5 857,817.7 858,817.6 859,817.2 860,816.4 861,815.8 862,815.1 863,814.5 864,814.4 865,814.6 866,814.8 867,815.4 868,815.5 869,815.6 870,815.5 871,815.3 872,815.5 873,815.5 874,815.5 875,815.9 876,816.1 877,816.2 878,816.4 879,815.9 880,816.2 881,816 882,816 883,815.9 884,816 885,816.5 886,816.3 887,816.2 888,816.3 889,816.1 890,816.3 891,815.9 892,816.3 893,816.6 894,816.6 895,816.5 896,816.5 897,816.3 898,816.5 899,816.3 900,817.1 901,816.7 902,816.8 903,816.5 904,816.5 905,816.4 906,816.5 907,816.8 908,816.8 909,816.6 910,816.7 911,816.6 912,816.7 913,816.8 914,816.9 915,816.6 916,816 917,816.4 918,816.4 919,816.2 920,816 921,816.2 922,816.7 923,816.8 924,816.6 925,816.6 926,816.5 927,816.4 928,816.1 929,816.6 930,816.2 931,816 932,816.2 933,816.2 934,816.3 935,816 936,816.3 937,815.9 938,816.3 939,816.3 940,816.3 941,816.4 942,816.3 943,816.5 944,816.6 945,816.4 946,815.9 947,816.1 948,816 949,815.8 950,815.8 951,815.9 952,816.3 953,816.1 954,816.2 955,815.9 956,816.1 957,816.2 958,816.4 959,816.1 960,816.2 961,815.9 962,816 963,816.4 964,816.1 965,815.9 966,815.9 967,816.3 968,816.3 969,816.2 970,816.1 971,816 972,815.9 973,815.6 974,815.4 975,815.5 976,815.4 977,815.6 978,815.4 979,815.7 980,815.7 981,815.8 982,815.4 983,815.7 984,815.5 985,815.6 986,815.7 987,815.7 988,815.7 989,815.6 990,815.5 991,815.5 992,815.3 993,815.7 994,815.6 995,815.5 996,815.6 997,815.6 998,815.7 999,815.7 1000,815.6 1001,815.6 1002,815.6 1003,815.5 1004,815.6 1005,815.6 1006,815.5 1007,815.6 1008,815.3 1009,815.2 1010,815.4 1011,815.2 1012,815.6 1013,815.2 1014,815.6 1015,815.7 1016,815.8 1017,815.6 1018,815.6 1019,815.8 1020,816 1021,816 1022,815.8 1023,815.8 1024,815.9 1025,815.7 1026,816 1027,815.7 1028,815.7 1029,815.9 1030,815.8 1031,815.6 1032,816.1 1033,815.9 1034,815.6 1035,815.7 1036,815.9 1037,815.8 1038,815.7 1039,815.8 1040,816.1 1041,815.8 1042,815.8 1043,816 1044,815.8 1045,816 1046,815.9 1047,816.1 1048,816 1049,816 1050,816 1051,815.9 1052,816.1 1053,816 1054,816.3 1055,816.2 1056,816.1 1057,816.1 1058,816.2 1059,816.2 1060,815.9 1061,815.9 1062,815.8 1063,815.9 1064,816 1065,816.2 1066,816.2 1067,816 1068,815.7 1069,816 1070,816.1 1071,816 1072,815.6 1073,815.7 1074,815.8 1075,815.9 1076,815.5 1077,816 1078,816.1 1079,816.3 1080,816.5 1081,816.3 1082,815.9 1083,816.1 1084,815.9 1085,816.2 1086,816.1 1087,816.3 1088,816.3 1089,816.3 1090,816.5 1091,816.5 1092,816.5 1093,816.8 1094,816.5 1095,816.1 1096,815.9 1097,816 1098,815.8 1099,816.1 1100,816.2 1101,816.2 1102,816.5 1103,816.4 1104,816.4 1105,816.3 1106,816.4 1107,816.4 1108,816.4 1109,816.6 1110,816.2 1111,816.5 1112,816.5 1113,816.2 1114,815.8 1115,815.9 1116,816.4 1117,816.4 1118,816.2 1119,816 1120,816.2 1121,816.3 1122,816.1 1123,816.2 1124,816.2 1125,816.1 1126,816.1 1127,816.3 1128,816.4 1129,816.4 1130,816.6 1131,816.2 1132,816.1 1133,815.9 1134,816 1135,815.9 1136,815.6 1137,815.5 1138,816 1139,816.1 1140,815.8 1141,816.1 1142,815.9 1143,816.3 1144,816.4 1145,816.3 1146,816 1147,815.8 1148,816 1149,816.1 1150,815.9 1151,815.9 1152,815.8 1153,816 1154,815.9 1155,815.9 1156,816.3 1157,816.3 1158,816.2 1159,816.2 1160,816 1161,816.1 1162,816 1163,815.8 1164,815.8 1165,816 1166,816 1167,815.7 1168,815.9 1169,815.7 1170,815.9 1171,815.9 1172,815.8 1173,815.7 1174,815.9 1175,815.9 1176,816.1 1177,815.9 1178,816.3 1179,816.2 1180,816 1181,815.9 1182,816 1183,816.5 1184,816 1185,816 1186,815.9 1187,816.2 1188,815.7 1189,815.8 1190,815.4 1191,815.3 1192,815.8 1193,816 1194,815.7 1195,815.9 1196,815.9 1197,816.1 1198,816.1 1199,815.8 1200,816.1 1201,816 1202,815.7 1203,816 1204,816 1205,816.1 1206,815.9 1207,816 1208,815.6 1209,815.7 1210,815.6 1211,815.8 1212,815.6 1213,815.6 1214,815.7 1215,815.9 1216,815.6 1217,815.5 1218,815.4 1219,815.8 1220,815.8 1221,816 1222,816 1223,815.6 1224,815.8 1225,815.8 1226,816 1227,816.2 1228,815.8 1229,815.8 1230,815.5 1231,815.5 1232,815.8 1233,816 1234,815.9 1235,816 1236,815.6 1237,815.8 1238,815.9 1239,815.9 1240,816.1 1241,816.1 1242,815.8 1243,815.8 1244,816 1245,816.2 1246,815.7 1247,815.8 1248,816.1 1249,815.8 1250,816.2 1251,816.4 1252,815.5 1253,815.7 1254,815.7 1255,815.7 1256,815.6 1257,815.9 1258,815.9 1259,815.8 1260,815.5 1261,815.5 1262,815.5 1263,815.8 1264,815.5 1265,815.9 1266,815.8 1267,816 1268,816 1269,816.3 1270,816 1271,816 1272,815.8 1273,816 1274,816 1275,815.7 1276,815.7 1277,815.6 1278,815.7 1279,815.9 1280,815.9 1281,815.9 1282,816.3 1283,815.7 1284,815.7 1285,815.6 1286,815.6 1287,816 1288,816.1 1289,815.7 1290,815.8 1291,815.9 1292,816.1 1293,816 1294,816 1295,816.2 1296,815.9 1297,816 1298,816.1 1299,816.1 1300,815.7 1301,815.9 1302,815.8 1303,815.8 1304,815.6 1305,816 1306,815.7 1307,815.4 1308,815.4 1309,815.5 1310,815.7 1311,815.5 1312,815.3 1313,815.3 1314,815.3 1315,815.5 1316,815.5 1317,815.2 1318,815.3 1319,815.3 1320,815.1 1321,814.9 1322,814.7 1323,814.9 1324,815 1325,815.2 1326,815 1327,814.9 1328,815.3 1329,815.1 1330,814.9 1331,815 1332,815.4 1333,815.5 1334,815.5 1335,815.8 1336,815.4 1337,815.7 1338,815.9 1339,816.2 1340,816.2 1341,816.3 1342,816.1" fill="none" stroke="#2c46b4" stroke-width="2.4" stroke-linejoin="round" stroke-linecap="round" />
<polyline points="853,814.8 854,811.7 855,808.6 856,807.2 857,805.6 858,803.1 859,802.9 860,803 861,802.3 862,802.4 863,803.9 864,805.4 865,807.5 866,810.1 867,810.5 868,810.6 869,810.8 870,811.7 871,812 872,812.3 873,812.6 874,813.4 875,812.5 876,812.7 877,813.4 878,813.4 879,812.8 880,813.2 881,813.6 882,814.2 883,813.5 884,813.8 885,813.5 886,813 887,813.1 888,812.6 889,812.2 890,813.2 891,813 892,814.3 893,815.1 894,815.9 895,815.7 896,816.4 897,817.2 898,817.8 899,816.7 900,816.7 901,816.2 902,815.8 903,815.9 904,814.7 905,814.8 906,815.5 907,814.7 908,814.2 909,814.2 910,814.2 911,813.6 912,813.9 913,813.2 914,813.3 915,813.3 916,813.6 917,813.9 918,814.5 919,814.1 920,814.6 921,814.8 922,816.4 923,816.3 924,815.8 925,815.9 926,816.5 927,816.2 928,815.8 929,816.2 930,816.3 931,816.4 932,816.2 933,816.2 934,816.9 935,817.1 936,816.5 937,816.3 938,816.1 939,816.4 940,816.1 941,815.5 942,815.6 943,815.6 944,815.3 945,815.5 946,815.5 947,815.9 948,815.5 949,815.1 950,815 951,814.7 952,815.4 953,815.4 954,815.8 955,816.2 956,816.9 957,816.6 958,817 959,816.5 960,816.2 961,816.6 962,816.2 963,816.7 964,816.6 965,816.3 966,816.7 967,816.7 968,817.1 969,816.6 970,816.9 971,817.1 972,816.7 973,817.5 974,817.4 975,817 976,817 977,817 978,816.3 979,816.3 980,816.1 981,816.5 982,817.4 983,816.4 984,817.2 985,817.3 986,816.8 987,816.1 988,816.7 989,816.5 990,816.1 991,816.7 992,816.7 993,816.5 994,816.3 995,815.6 996,816.6 997,816.3 998,816 999,816.5 1000,816.7 1001,816.1 1002,816.1 1003,815.1 1004,815.9 1005,816 1006,816 1007,816.8 1008,816.8 1009,817.7 1010,817.2 1011,816.4 1012,816.6 1013,816.8 1014,816.8 1015,817.2 1016,816.5 1017,817.7 1018,817.7 1019,818.1 1020,816.6 1021,817.7 1022,817.8 1023,817.3 1024,816.8 1025,817.5 1026,817.4 1027,817.5 1028,817.3 1029,817.1 1030,816.6 1031,816.5 1032,817.1 1033,817 1034,816.9 1035,816.1 1036,816.2 1037,816.7 1038,816.6 1039,816.4 1040,817.2 1041,816.6 1042,817.2 1043,817.4 1044,816.5 1045,816 1046,815.8 1047,816.3 1048,816.2 1049,815.9 1050,816.7 1051,815.7 1052,816.2 1053,816.8 1054,816.3 1055,815.6 1056,815.6 1057,816.1 1058,816 1059,816.7 1060,816.4 1061,816.5 1062,815.7 1063,815.6 1064,816 1065,816.6 1066,816.2 1067,816.7 1068,816.2 1069,816.3 1070,815.9 1071,816 1072,815.9 1073,815.9 1074,816.4 1075,815 1076,815.6 1077,815.9 1078,816 1079,816.3 1080,815.6 1081,816.5 1082,815.5 1083,816.1 1084,815.7 1085,816 1086,816.1 1087,815.9 1088,816.5 1089,816.3 1090,816.2 1091,816.4 1092,816.6 1093,816.5 1094,816.8 1095,816.8 1096,816.5 1097,816.5 1098,816.4 1099,816.4 1100,816 1101,816.5 1102,816.3 1103,816.5 1104,816.1 1105,816.9 1106,816.1 1107,815.8 1108,815.8 1109,815.4 1110,815.2 1111,815.3 1112,815.2 1113,815.5 1114,815 1115,815.1 1116,815.3 1117,815.5 1118,815.2 1119,815.4 1120,815.6 1121,815.5 1122,814.9 1123,815.3 1124,815.8 1125,815.7 1126,815.8 1127,816.8 1128,816.5 1129,816.8 1130,816.5 1131,816.8 1132,816.6 1133,817 1134,817.4 1135,816.9 1136,817.3 1137,817.4 1138,817.7 1139,817.2 1140,817.3 1141,817.4 1142,816.9 1143,818 1144,818.8 1145,818 1146,818.6 1147,818.2 1148,818.7 1149,817.8 1150,818.1 1151,818.3 1152,817.3 1153,817.4 1154,816.5 1155,816.8 1156,817.2 1157,817.3 1158,816.6 1159,816.6 1160,817.7 1161,817.5 1162,816.3 1163,815.7 1164,816.3 1165,815.9 1166,816.3 1167,816.5 1168,815.8 1169,816.1 1170,816.1 1171,815.8 1172,816.1 1173,816.9 1174,816.7 1175,816 1176,816.3 1177,815.8 1178,815.9 1179,816.4 1180,816.5 1181,816.8 1182,816.8 1183,816.8 1184,817 1185,816.7 1186,815.9 1187,816.7 1188,816.4 1189,815.9 1190,816.1 1191,816 1192,816 1193,816.3 1194,817 1195,816.7 1196,816.2 1197,816.8 1198,816.9 1199,816.6 1200,816.9 1201,817.1 1202,816.2 1203,816.9 1204,816.4 1205,816.4 1206,816.1 1207,816 1208,815.9 1209,816.4 1210,816.9 1211,816.4 1212,816.2 1213,816.3 1214,816 1215,816.5 1216,816.1 1217,816.7 1218,816 1219,816.1 1220,816.4 1221,815.9 1222,816.1 1223,815.8 1224,815.8 1225,816.4 1226,816.3 1227,815.6 1228,815.8 1229,816 1230,816.6 1231,816.5 1232,816.8 1233,816.1 1234,815.8 1235,816.7 1236,817.1 1237,816.6 1238,816.6 1239,816.4 1240,816.4 1241,816.4 1242,816.8 1243,816.1 1244,816 1245,816.5 1246,816.3 1247,816.1 1248,816.7 1249,815.8 1250,815.6 1251,816 1252,816.2 1253,816.3 1254,815 1255,815.3 1256,815.8 1257,815.8 1258,815.9 1259,816.1 1260,816.2 1261,816.3 1262,816.3 1263,817.3 1264,818.4 1265,818.6 1266,818 1267,819.1 1268,818.7 1269,818.5 1270,817.6 1271,818.4 1272,817.7 1273,817.3 1274,816.2 1275,815.5 1276,815.2 1277,815.5 1278,815.3 1279,814.8 1280,814.7 1281,815 1282,815.6 1283,815.4 1284,815.3 1285,815.5 1286,816 1287,815.7 1288,815.3 1289,815.3 1290,815.3 1291,815.1 1292,813.9 1293,815.2 1294,815 1295,814.5 1296,814.4 1297,814.2 1298,813.8 1299,814.1 1300,813.6 1301,812.7 1302,812 1303,810.6 1304,810.9 1305,810.7 1306,810.2 1307,810.4 1308,810 1309,810.7 1310,811.1 1311,811.1 1312,811.1 1313,812.7 1314,813 1315,814.4 1316,814.2 1317,815.4 1318,815.4 1319,816.9 1320,817.7 1321,817.9 1322,817.8 1323,817.9 1324,818.7 1325,819.5 1326,820.3 1327,820.7 1328,821.6 1329,821.3 1330,821.7 1331,822.4 1332,822 1333,822.6 1334,823 1335,822.7 1336,823.9 1337,824.4 1338,825 1339,825.4 1340,825.4 1341,825.1 1342,825.6" fill="none" stroke="#b748b9" stroke-width="2.8" stroke-linejoin="round" stroke-linecap="round" />
</g>
<rect x="853" y="596.2" width="489.3" height="386.3" fill="none" stroke="#141414" stroke-width="2.4"/>
<path d="M880 982.5 v-7 M880 596.2 v7" stroke="#141414" stroke-width="2.2"/>
<path d="M1016 982.5 v-7 M1016 596.2 v7" stroke="#141414" stroke-width="2.2"/>
<path d="M1151.9 982.5 v-7 M1151.9 596.2 v7" stroke="#141414" stroke-width="2.2"/>
<path d="M1287.9 982.5 v-7 M1287.9 596.2 v7" stroke="#141414" stroke-width="2.2"/>
<path d="M948 982.5 v-4 M948 596.2 v4" stroke="#141414" stroke-width="2.2"/>
<path d="M1083.9 982.5 v-4 M1083.9 596.2 v4" stroke="#141414" stroke-width="2.2"/>
<path d="M1219.9 982.5 v-4 M1219.9 596.2 v4" stroke="#141414" stroke-width="2.2"/>
<text x="880" y="1007.8" font-size="23.4" font-weight="bold" text-anchor="middle" fill="#111" >550</text>
<text x="1016" y="1007.8" font-size="23.4" font-weight="bold" text-anchor="middle" fill="#111" >600</text>
<text x="1151.9" y="1007.8" font-size="23.4" font-weight="bold" text-anchor="middle" fill="#111" >650</text>
<text x="1287.9" y="1007.8" font-size="23.4" font-weight="bold" text-anchor="middle" fill="#111" >700</text>
<path d="M853 649.2 h7 M1342.3 649.2 h-7" stroke="#141414" stroke-width="2.2"/>
<path d="M853 704.8 h7 M1342.3 704.8 h-7" stroke="#141414" stroke-width="2.2"/>
<path d="M853 760.4 h7 M1342.3 760.4 h-7" stroke="#141414" stroke-width="2.2"/>
<path d="M853 816 h7 M1342.3 816 h-7" stroke="#141414" stroke-width="2.2"/>
<path d="M853 871.6 h7 M1342.3 871.6 h-7" stroke="#141414" stroke-width="2.2"/>
<path d="M853 927.2 h7 M1342.3 927.2 h-7" stroke="#141414" stroke-width="2.2"/>
<path d="M853 621.4 h4 M1342.3 621.4 h-4" stroke="#141414" stroke-width="2.2"/>
<path d="M853 677 h4 M1342.3 677 h-4" stroke="#141414" stroke-width="2.2"/>
<path d="M853 732.6 h4 M1342.3 732.6 h-4" stroke="#141414" stroke-width="2.2"/>
<path d="M853 788.2 h4 M1342.3 788.2 h-4" stroke="#141414" stroke-width="2.2"/>
<path d="M853 843.8 h4 M1342.3 843.8 h-4" stroke="#141414" stroke-width="2.2"/>
<path d="M853 899.4 h4 M1342.3 899.4 h-4" stroke="#141414" stroke-width="2.2"/>
<path d="M853 955 h4 M1342.3 955 h-4" stroke="#141414" stroke-width="2.2"/>
<text x="844.5" y="657.5" font-size="23.4" font-weight="bold" text-anchor="end" fill="#111" >0.012</text>
<text x="844.5" y="713.1" font-size="23.4" font-weight="bold" text-anchor="end" fill="#111" >0.008</text>
<text x="844.5" y="768.7" font-size="23.4" font-weight="bold" text-anchor="end" fill="#111" >0.004</text>
<text x="844.5" y="824.3" font-size="23.4" font-weight="bold" text-anchor="end" fill="#111" >0.000</text>
<text x="844.5" y="879.9" font-size="23.4" font-weight="bold" text-anchor="end" fill="#111" >−0.004</text>
<text x="844.5" y="935.5" font-size="23.4" font-weight="bold" text-anchor="end" fill="#111" >−0.008</text>
<path d="M967.5 626.3 H1019.5" stroke="#0a0a0a" stroke-width="2.4"/>
<text x="1026.3" y="633.9" font-size="21.6" font-weight="normal" text-anchor="start" fill="#111" textLength="108.7" lengthAdjust="spacingAndGlyphs">QDs/CP-R</text>
<path d="M1141.3 626.3 H1193.8" stroke="#ec1c24" stroke-width="2.4"/>
<text x="1200" y="633.9" font-size="21.6" font-weight="normal" text-anchor="start" fill="#111" textLength="108.5" lengthAdjust="spacingAndGlyphs">QDs/CP-S</text>
<path d="M967.5 654.3 H1019.5" stroke="#2c46b4" stroke-width="2.4"/>
<text x="1026.3" y="661.9" font-size="21.6" font-weight="normal" text-anchor="start" fill="#111" textLength="95" lengthAdjust="spacingAndGlyphs">QDs only</text>
<path d="M1141.3 654.3 H1193.8" stroke="#b748b9" stroke-width="2.4"/>
<text x="1200" y="661.9" font-size="21.6" font-weight="normal" text-anchor="start" fill="#111" textLength="124.5" lengthAdjust="spacingAndGlyphs">QDs/CP-rac</text>
<text x="1097" y="1052.6" font-size="29.9" font-weight="bold" text-anchor="middle" fill="#111" >Wavelength (nm)</text>
<text transform="translate(751,820) rotate(-90) scale(1.22,1)" font-weight="bold" font-style="italic" font-size="31.5" fill="#111">g</text>
<text transform="translate(760,793.5) rotate(-90)" font-weight="bold" font-size="18.6" fill="#111">lum</text>
<text x="752" y="601.8" font-size="57" font-weight="normal" text-anchor="start" fill="#111"  style="letter-spacing:2.6px">(d)</text>
<text y="79" font-size="52" font-weight="bold" fill="#111" stroke="#fff" stroke-width="0.6"><tspan x="1423.5">(</tspan><tspan x="1442.6" dy="9.3">e</tspan><tspan x="1474.3" dy="-9.3">)</tspan></text>
<text x="1580" y="66.8" font-size="38.8" font-weight="bold" text-anchor="start" fill="#111" textLength="372.5" lengthAdjust="spacingAndGlyphs">2D chiral perovskite</text>
<text x="1492.3" y="185.2" font-size="34.5" font-weight="bold" text-anchor="start" fill="#111" textLength="84.5" lengthAdjust="spacingAndGlyphs">QDs</text>
<text x="1668.3" y="214.6" font-size="29.9" font-weight="normal" text-anchor="start" fill="#111" textLength="200.5" lengthAdjust="spacingAndGlyphs">Spin electrons</text>
<text x="1856.5" y="173.8" font-size="30" font-weight="normal" text-anchor="start" fill="#111" textLength="72.8" lengthAdjust="spacingAndGlyphs">−3.17</text>
<text x="1856.5" y="326.4" font-size="30" font-weight="normal" text-anchor="start" fill="#111" textLength="76" lengthAdjust="spacingAndGlyphs">−5.56</text>
<text x="1435.7" y="243.2" font-size="30" font-weight="normal" text-anchor="start" fill="#111" textLength="59.5" lengthAdjust="spacingAndGlyphs">−4.4</text>
<text x="1435.7" y="377" font-size="30" font-weight="normal" text-anchor="start" fill="#111" textLength="59.5" lengthAdjust="spacingAndGlyphs">−6.5</text>
<text x="1552.3" y="445.5" font-size="30.2" font-weight="normal" text-anchor="start" fill="#111" textLength="82" lengthAdjust="spacingAndGlyphs">Holes</text>
<path d="M1714.2 164.5 H1810" stroke="#f1b521" stroke-width="5"/>
<path d="M1714.5 319 H1810" stroke="#f1b521" stroke-width="5"/>
<path d="M1556 230.7 H1651.5" stroke="#e8232b" stroke-width="5"/>
<path d="M1554.7 367.5 H1651" stroke="#e8232b" stroke-width="5"/>
<path d="M1635 231 V353" stroke="#0a0a0a" stroke-width="4.2"/>
<path d="M1627.6 351 L1642.4 351 L1635 366 Z" fill="#0a0a0a"/>
<rect x="1724.3" y="105.7" width="4.6" height="48" fill="#fde9e6" stroke="#e8343a" stroke-width="1.1"/>
<path d="M1726.6 99.2 L1721 107.2 L1732.2 107.2 Z" fill="#e8343a"/>
<circle cx="1726.6" cy="126.2" r="13.3" fill="url(#gRed)"/>
<rect x="1762.5" y="105.7" width="4.6" height="48" fill="#fde9e6" stroke="#e8343a" stroke-width="1.1"/>
<path d="M1764.8 99.2 L1759.2 107.2 L1770.4 107.2 Z" fill="#e8343a"/>
<circle cx="1764.8" cy="126.2" r="13.3" fill="url(#gRed)"/>
<rect x="1800.5" y="105.7" width="4.6" height="48" fill="#fde9e6" stroke="#e8343a" stroke-width="1.1"/>
<path d="M1802.8 99.2 L1797.2 107.2 L1808.4 107.2 Z" fill="#e8343a"/>
<circle cx="1802.8" cy="126.2" r="13.3" fill="url(#gRed)"/>
<rect x="1631.7" y="175.5" width="4.6" height="48" fill="#fde9e6" stroke="#e8343a" stroke-width="1.1"/>
<path d="M1634 169 L1628.4 177 L1639.6 177 Z" fill="#e8343a"/>
<circle cx="1634" cy="196" r="13.3" fill="url(#gRed)"/>
<circle cx="1567.5" cy="394.9" r="13.6" fill="url(#gHole)"/>
<circle cx="1599.9" cy="394.9" r="13.6" fill="url(#gHole)"/>
<circle cx="1632.3" cy="394.9" r="13.6" fill="url(#gHole)"/>
<path d="M1711 98.7 C1700.9 89.9 1677.7 86.8 1655.2 99.5 C1636.5 110 1620.3 132.1 1613.3 155.6 L1604 166.2 L1621.8 177 L1627.7 145.7 L1622.3 151 C1628.8 132.8 1641.2 115.3 1657 105.4 C1674.5 94.8 1693.2 94.8 1704 105.2 Z" fill="url(#gArrow)"/>
<path d="M1665.5 370.7 C1665.5 371.8 1664.9 375.2 1665 377.5 C1665.2 379.7 1665.4 382.1 1666.6 384.2 C1667.8 386.4 1669.3 388.7 1672.2 390.2 C1675.1 391.7 1680.4 393.4 1684.1 393.2 C1687.7 392.9 1691 390.9 1694.3 388.7 C1697.5 386.5 1701 382.7 1703.6 380 C1706.2 377.4 1708.6 374.4 1710 372.7 C1711.3 371.1 1711.8 370.4 1711.8 370.2 C1711.8 370 1711.2 370 1710 371.5 C1708.8 372.9 1706.4 375.8 1704.5 378.7 C1702.6 381.7 1700.1 385.2 1698.5 389 C1696.9 392.7 1695.1 397.3 1694.9 401.1 C1694.7 404.9 1695.4 408.9 1697.2 411.9 C1699 415 1702.5 418 1705.8 419.3 C1709 420.7 1713 421 1716.6 420.2 C1720.2 419.5 1724.1 417.1 1727.5 414.6 C1730.9 412.2 1734.4 408.2 1737.1 405.4 C1739.8 402.6 1742.1 399.7 1743.7 397.8 C1745.3 395.8 1746.3 394.8 1746.5 393.7 C1746.8 392.6 1746 391.5 1745.2 391.1 C1744.4 390.8 1743.3 390.7 1741.7 391.5 C1740 392.4 1737.5 393.9 1735.3 396.2 C1733.1 398.6 1730.3 401.9 1728.4 405.4 C1726.4 409 1724.6 413.6 1723.5 417.4 C1722.4 421.3 1721.4 424.8 1721.7 428.5 C1722.1 432.3 1723.3 436.9 1725.8 440 C1728.3 443.2 1733 446.5 1736.8 447.3 C1740.6 448.2 1744.4 446.8 1748.6 445.1 C1752.8 443.5 1758.1 440.5 1762 437.5 C1765.8 434.5 1769.1 430.5 1771.5 427.3 C1774 424.1 1775.9 420.6 1776.9 418.3 C1777.9 416 1777.9 414.8 1777.7 413.6 C1777.4 412.4 1776.5 411.5 1775.4 411.3 C1774.2 411.1 1773 411.1 1770.9 412.2 C1768.8 413.3 1765.3 415.5 1762.6 417.9 C1759.9 420.4 1757.2 423.5 1754.9 426.9 C1752.7 430.2 1750.6 434.1 1749.3 438.1 C1748 442.1 1746.8 446.8 1747 450.9 C1747.3 454.9 1748.5 459.2 1750.9 462.4 C1753.2 465.6 1757.2 468.9 1761.1 470.3 C1764.9 471.8 1769.8 471.9 1774.1 471.1 C1778.4 470.2 1783.1 467.7 1786.9 465.2 C1790.7 462.7 1794.5 458.5 1796.8 456.3 C1799.1 454 1800 452.3 1800.7 451.5" fill="none" stroke="#b5141c" stroke-width="8.2" stroke-linecap="butt" stroke-linejoin="round"/>
<path d="M1665.5 370.7 C1665.5 371.8 1664.9 375.2 1665 377.5 C1665.2 379.7 1665.4 382.1 1666.6 384.2 C1667.8 386.4 1669.3 388.7 1672.2 390.2 C1675.1 391.7 1680.4 393.4 1684.1 393.2 C1687.7 392.9 1691 390.9 1694.3 388.7 C1697.5 386.5 1701 382.7 1703.6 380 C1706.2 377.4 1708.6 374.4 1710 372.7 C1711.3 371.1 1711.8 370.4 1711.8 370.2 C1711.8 370 1711.2 370 1710 371.5 C1708.8 372.9 1706.4 375.8 1704.5 378.7 C1702.6 381.7 1700.1 385.2 1698.5 389 C1696.9 392.7 1695.1 397.3 1694.9 401.1 C1694.7 404.9 1695.4 408.9 1697.2 411.9 C1699 415 1702.5 418 1705.8 419.3 C1709 420.7 1713 421 1716.6 420.2 C1720.2 419.5 1724.1 417.1 1727.5 414.6 C1730.9 412.2 1734.4 408.2 1737.1 405.4 C1739.8 402.6 1742.1 399.7 1743.7 397.8 C1745.3 395.8 1746.3 394.8 1746.5 393.7 C1746.8 392.6 1746 391.5 1745.2 391.1 C1744.4 390.8 1743.3 390.7 1741.7 391.5 C1740 392.4 1737.5 393.9 1735.3 396.2 C1733.1 398.6 1730.3 401.9 1728.4 405.4 C1726.4 409 1724.6 413.6 1723.5 417.4 C1722.4 421.3 1721.4 424.8 1721.7 428.5 C1722.1 432.3 1723.3 436.9 1725.8 440 C1728.3 443.2 1733 446.5 1736.8 447.3 C1740.6 448.2 1744.4 446.8 1748.6 445.1 C1752.8 443.5 1758.1 440.5 1762 437.5 C1765.8 434.5 1769.1 430.5 1771.5 427.3 C1774 424.1 1775.9 420.6 1776.9 418.3 C1777.9 416 1777.9 414.8 1777.7 413.6 C1777.4 412.4 1776.5 411.5 1775.4 411.3 C1774.2 411.1 1773 411.1 1770.9 412.2 C1768.8 413.3 1765.3 415.5 1762.6 417.9 C1759.9 420.4 1757.2 423.5 1754.9 426.9 C1752.7 430.2 1750.6 434.1 1749.3 438.1 C1748 442.1 1746.8 446.8 1747 450.9 C1747.3 454.9 1748.5 459.2 1750.9 462.4 C1753.2 465.6 1757.2 468.9 1761.1 470.3 C1764.9 471.8 1769.8 471.9 1774.1 471.1 C1778.4 470.2 1783.1 467.7 1786.9 465.2 C1790.7 462.7 1794.5 458.5 1796.8 456.3 C1799.1 454 1800 452.3 1800.7 451.5" fill="none" stroke="#e2262c" stroke-width="5.8" stroke-linecap="butt" stroke-linejoin="round"/>
<path d="M1665.5 370.7 C1665.5 371.8 1664.9 375.2 1665 377.5 C1665.2 379.7 1665.4 382.1 1666.6 384.2 C1667.8 386.4 1669.3 388.7 1672.2 390.2 C1675.1 391.7 1680.4 393.4 1684.1 393.2 C1687.7 392.9 1691 390.9 1694.3 388.7 C1697.5 386.5 1701 382.7 1703.6 380 C1706.2 377.4 1708.6 374.4 1710 372.7 C1711.3 371.1 1711.8 370.4 1711.8 370.2 C1711.8 370 1711.2 370 1710 371.5 C1708.8 372.9 1706.4 375.8 1704.5 378.7 C1702.6 381.7 1700.1 385.2 1698.5 389 C1696.9 392.7 1695.1 397.3 1694.9 401.1 C1694.7 404.9 1695.4 408.9 1697.2 411.9 C1699 415 1702.5 418 1705.8 419.3 C1709 420.7 1713 421 1716.6 420.2 C1720.2 419.5 1724.1 417.1 1727.5 414.6 C1730.9 412.2 1734.4 408.2 1737.1 405.4 C1739.8 402.6 1742.1 399.7 1743.7 397.8 C1745.3 395.8 1746.3 394.8 1746.5 393.7 C1746.8 392.6 1746 391.5 1745.2 391.1 C1744.4 390.8 1743.3 390.7 1741.7 391.5 C1740 392.4 1737.5 393.9 1735.3 396.2 C1733.1 398.6 1730.3 401.9 1728.4 405.4 C1726.4 409 1724.6 413.6 1723.5 417.4 C1722.4 421.3 1721.4 424.8 1721.7 428.5 C1722.1 432.3 1723.3 436.9 1725.8 440 C1728.3 443.2 1733 446.5 1736.8 447.3 C1740.6 448.2 1744.4 446.8 1748.6 445.1 C1752.8 443.5 1758.1 440.5 1762 437.5 C1765.8 434.5 1769.1 430.5 1771.5 427.3 C1774 424.1 1775.9 420.6 1776.9 418.3 C1777.9 416 1777.9 414.8 1777.7 413.6 C1777.4 412.4 1776.5 411.5 1775.4 411.3 C1774.2 411.1 1773 411.1 1770.9 412.2 C1768.8 413.3 1765.3 415.5 1762.6 417.9 C1759.9 420.4 1757.2 423.5 1754.9 426.9 C1752.7 430.2 1750.6 434.1 1749.3 438.1 C1748 442.1 1746.8 446.8 1747 450.9 C1747.3 454.9 1748.5 459.2 1750.9 462.4 C1753.2 465.6 1757.2 468.9 1761.1 470.3 C1764.9 471.8 1769.8 471.9 1774.1 471.1 C1778.4 470.2 1783.1 467.7 1786.9 465.2 C1790.7 462.7 1794.5 458.5 1796.8 456.3 C1799.1 454 1800 452.3 1800.7 451.5" fill="none" stroke="#f0474a" stroke-width="1.8" stroke-linecap="butt" stroke-linejoin="round" transform="translate(-0.6,-0.8)"/>
<path d="M1786.9 444.5 L1813.1 434.5 L1810.9 463.4 Z" fill="#dd2229" stroke="#c4181f" stroke-width="1" stroke-linejoin="round"/>
<text y="600.8" font-size="52" font-weight="bold" fill="#111" stroke="#fff" stroke-width="0.6"><tspan x="1428.5">(</tspan><tspan x="1448" dy="8">f</tspan><tspan x="1469.5" dy="-8">)</tspan></text>
<path d="M1567.4 581.3 L1589.6 594.3 L1589.6 618.4 L1567.4 631.1 L1545.5 618.4 L1545.5 594.3 Z M1569.1 585.4 L1586.2 595.4 M1586.2 617.2 L1569.1 627.1 M1548.9 596.4 L1548.9 616.2 M1567.4 581.3 L1567.4 555.4 L1546.2 542.7" fill="none" stroke="#3a3a3a" stroke-width="1.3" stroke-linejoin="round" stroke-linecap="round"/>
<path d="M1567.4 555.4 L1585.3 547.9 L1583.5 544.5 Z" fill="#1a1a1a"/>
<text x="1585.3" y="547.1" font-size="11.6" fill="#4a5aa8">NH<tspan font-size="6.6" dy="2.4">2</tspan></text>
<path d="M1763.9 581.3 L1786.1 594.3 L1786.1 618.4 L1763.9 631.1 L1742 618.4 L1742 594.3 Z M1765.6 585.4 L1782.7 595.4 M1782.7 617.2 L1765.6 627.1 M1745.4 596.4 L1745.4 616.2 M1763.9 581.3 L1763.9 555.4 L1742.7 542.7" fill="none" stroke="#3a3a3a" stroke-width="1.3" stroke-linejoin="round" stroke-linecap="round"/>
<path d="M1766.6 554.6 L1766 553.6 M1769.1 553.5 L1768.4 552.1 M1771.6 552.4 L1770.7 550.6 M1774.2 551.3 L1773 549 M1776.7 550.2 L1775.3 547.5 M1779.3 549.1 L1777.6 546 M1781.8 548 L1779.9 544.5 " stroke="#2a2a2a" stroke-width="0.9" fill="none"/>
<text x="1781.8" y="547.1" font-size="11.6" fill="#4a5aa8">NH<tspan font-size="6.6" dy="2.4">2</tspan></text>
<text x="1539.6" y="665.4" font-size="21.7" font-weight="normal" text-anchor="start" fill="#111" textLength="68" lengthAdjust="spacingAndGlyphs">R-MBA</text>
<text x="1729.2" y="665.4" font-size="21.7" font-weight="normal" text-anchor="start" fill="#111" textLength="67" lengthAdjust="spacingAndGlyphs">S-MBA</text>
<text x="1644.3" y="665.4" font-size="21.7" fill="#111">PbI<tspan font-size="14" dy="4">6</tspan></text>
<path d="M1530.5 696.3 L1522.3 703 L1523.8 713.9 L1533.5 718.1 L1541.7 711.4 L1540.2 700.5 Z M1533.5 718.1 L1534.6 726.5 M1534.6 726.5 L1539.6 725.1 M1530.5 696.3 L1529.9 691.9 M1522.3 703 L1518.3 701.3 M1523.8 713.9 L1520.4 716.7 M1541.7 711.4 L1545.7 713.1 M1540.2 700.5 L1543.6 697.7 M1539.6 725.1 L1541.5 727.8 M1539.6 725.1 L1542.9 724.8 M1539.6 725.1 L1541 722.1" fill="none" stroke="#73431a" stroke-width="1.7" stroke-linejoin="round" stroke-linecap="round"/>
<circle cx="1530.5" cy="696.3" r="1.6" fill="#c69a70" stroke="#73431a" stroke-width="1.0"/>
<circle cx="1522.3" cy="703" r="1.6" fill="#c69a70" stroke="#73431a" stroke-width="1.0"/>
<circle cx="1523.8" cy="713.9" r="1.6" fill="#c69a70" stroke="#73431a" stroke-width="1.0"/>
<circle cx="1533.5" cy="718.1" r="1.6" fill="#c69a70" stroke="#73431a" stroke-width="1.0"/>
<circle cx="1541.7" cy="711.4" r="1.6" fill="#c69a70" stroke="#73431a" stroke-width="1.0"/>
<circle cx="1540.2" cy="700.5" r="1.6" fill="#c69a70" stroke="#73431a" stroke-width="1.0"/>
<circle cx="1534.6" cy="726.5" r="1.6" fill="#c69a70" stroke="#73431a" stroke-width="1.0"/>
<circle cx="1539.6" cy="725.1" r="1.6" fill="#c69a70" stroke="#73431a" stroke-width="1.0"/>
<circle cx="1529.9" cy="691.9" r="1.35" fill="#f3ddd6" stroke="#e3c3ba" stroke-width="0.4"/>
<circle cx="1518.3" cy="701.3" r="1.35" fill="#f3ddd6" stroke="#e3c3ba" stroke-width="0.4"/>
<circle cx="1520.4" cy="716.7" r="1.35" fill="#f3ddd6" stroke="#e3c3ba" stroke-width="0.4"/>
<circle cx="1545.7" cy="713.1" r="1.35" fill="#f3ddd6" stroke="#e3c3ba" stroke-width="0.4"/>
<circle cx="1543.6" cy="697.7" r="1.35" fill="#f3ddd6" stroke="#e3c3ba" stroke-width="0.4"/>
<circle cx="1541.5" cy="727.8" r="1.35" fill="#f3ddd6" stroke="#e3c3ba" stroke-width="0.4"/>
<circle cx="1542.9" cy="724.8" r="1.35" fill="#f3ddd6" stroke="#e3c3ba" stroke-width="0.4"/>
<circle cx="1541" cy="722.1" r="1.35" fill="#f3ddd6" stroke="#e3c3ba" stroke-width="0.4"/>
<path d="M1565 696.6 L1556.2 702.4 L1556.6 713.4 L1565.8 718.6 L1574.6 712.8 L1574.2 701.8 Z M1565.8 718.6 L1569.2 726.6 M1569.2 726.6 L1574.2 725.2 M1565 696.6 L1564.9 692.2 M1556.2 702.4 L1552.4 700.3 M1556.6 713.4 L1552.9 715.8 M1574.6 712.8 L1578.4 714.9 M1574.2 701.8 L1577.9 699.4 M1574.2 725.2 L1576 727.9 M1574.2 725.2 L1577.4 724.9 M1574.2 725.2 L1575.6 722.2" fill="none" stroke="#73431a" stroke-width="1.7" stroke-linejoin="round" stroke-linecap="round"/>
<circle cx="1565" cy="696.6" r="1.6" fill="#c69a70" stroke="#73431a" stroke-width="1.0"/>
<circle cx="1556.2" cy="702.4" r="1.6" fill="#c69a70" stroke="#73431a" stroke-width="1.0"/>
<circle cx="1556.6" cy="713.4" r="1.6" fill="#c69a70" stroke="#73431a" stroke-width="1.0"/>
<circle cx="1565.8" cy="718.6" r="1.6" fill="#c69a70" stroke="#73431a" stroke-width="1.0"/>
<circle cx="1574.6" cy="712.8" r="1.6" fill="#c69a70" stroke="#73431a" stroke-width="1.0"/>
<circle cx="1574.2" cy="701.8" r="1.6" fill="#c69a70" stroke="#73431a" stroke-width="1.0"/>
<circle cx="1569.2" cy="726.6" r="1.6" fill="#c69a70" stroke="#73431a" stroke-width="1.0"/>
<circle cx="1574.2" cy="725.2" r="1.6" fill="#c69a70" stroke="#73431a" stroke-width="1.0"/>
<circle cx="1564.9" cy="692.2" r="1.35" fill="#f3ddd6" stroke="#e3c3ba" stroke-width="0.4"/>
<circle cx="1552.4" cy="700.3" r="1.35" fill="#f3ddd6" stroke="#e3c3ba" stroke-width="0.4"/>
<circle cx="1552.9" cy="715.8" r="1.35" fill="#f3ddd6" stroke="#e3c3ba" stroke-width="0.4"/>
<circle cx="1578.4" cy="714.9" r="1.35" fill="#f3ddd6" stroke="#e3c3ba" stroke-width="0.4"/>
<circle cx="1577.9" cy="699.4" r="1.35" fill="#f3ddd6" stroke="#e3c3ba" stroke-width="0.4"/>
<circle cx="1576" cy="727.9" r="1.35" fill="#f3ddd6" stroke="#e3c3ba" stroke-width="0.4"/>
<circle cx="1577.4" cy="724.9" r="1.35" fill="#f3ddd6" stroke="#e3c3ba" stroke-width="0.4"/>
<circle cx="1575.6" cy="722.2" r="1.35" fill="#f3ddd6" stroke="#e3c3ba" stroke-width="0.4"/>
<path d="M1600.5 696.3 L1592.4 703.2 L1594.2 714 L1603.9 718.1 L1612 711.2 L1610.2 700.4 Z M1603.9 718.1 L1604.9 726.5 M1604.9 726.5 L1609.9 725.1 M1600.5 696.3 L1599.8 692 M1592.4 703.2 L1588.4 701.5 M1594.2 714 L1590.8 716.9 M1612 711.2 L1616 712.9 M1610.2 700.4 L1613.6 697.5 M1609.9 725.1 L1611.8 727.8 M1609.9 725.1 L1613.2 724.8 M1609.9 725.1 L1611.3 722.1" fill="none" stroke="#73431a" stroke-width="1.7" stroke-linejoin="round" stroke-linecap="round"/>
<circle cx="1600.5" cy="696.3" r="1.6" fill="#c69a70" stroke="#73431a" stroke-width="1.0"/>
<circle cx="1592.4" cy="703.2" r="1.6" fill="#c69a70" stroke="#73431a" stroke-width="1.0"/>
<circle cx="1594.2" cy="714" r="1.6" fill="#c69a70" stroke="#73431a" stroke-width="1.0"/>
<circle cx="1603.9" cy="718.1" r="1.6" fill="#c69a70" stroke="#73431a" stroke-width="1.0"/>
<circle cx="1612" cy="711.2" r="1.6" fill="#c69a70" stroke="#73431a" stroke-width="1.0"/>
<circle cx="1610.2" cy="700.4" r="1.6" fill="#c69a70" stroke="#73431a" stroke-width="1.0"/>
<circle cx="1604.9" cy="726.5" r="1.6" fill="#c69a70" stroke="#73431a" stroke-width="1.0"/>
<circle cx="1609.9" cy="725.1" r="1.6" fill="#c69a70" stroke="#73431a" stroke-width="1.0"/>
<circle cx="1599.8" cy="692" r="1.35" fill="#f3ddd6" stroke="#e3c3ba" stroke-width="0.4"/>
<circle cx="1588.4" cy="701.5" r="1.35" fill="#f3ddd6" stroke="#e3c3ba" stroke-width="0.4"/>
<circle cx="1590.8" cy="716.9" r="1.35" fill="#f3ddd6" stroke="#e3c3ba" stroke-width="0.4"/>
<circle cx="1616" cy="712.9" r="1.35" fill="#f3ddd6" stroke="#e3c3ba" stroke-width="0.4"/>
<circle cx="1613.6" cy="697.5" r="1.35" fill="#f3ddd6" stroke="#e3c3ba" stroke-width="0.4"/>
<circle cx="1611.8" cy="727.8" r="1.35" fill="#f3ddd6" stroke="#e3c3ba" stroke-width="0.4"/>
<circle cx="1613.2" cy="724.8" r="1.35" fill="#f3ddd6" stroke="#e3c3ba" stroke-width="0.4"/>
<circle cx="1611.3" cy="722.1" r="1.35" fill="#f3ddd6" stroke="#e3c3ba" stroke-width="0.4"/>
<path d="M1531 797.9 L1522.6 802.2 L1521.9 811.9 L1529.6 817.3 L1538 813 L1538.7 803.3 Z M1531 797.9 L1532.5 790.5 M1532.5 790.5 L1537.5 791.9 M1522.6 802.2 L1519 799.7 M1521.9 811.9 L1518 813.9 M1529.6 817.3 L1529.3 821.7 M1538 813 L1541.6 815.5 M1538.7 803.3 L1542.6 801.3 M1537.5 791.9 L1539.4 789.2 M1537.5 791.9 L1540.8 792.2 M1537.5 791.9 L1538.9 794.9" fill="none" stroke="#73431a" stroke-width="1.7" stroke-linejoin="round" stroke-linecap="round"/>
<circle cx="1531" cy="797.9" r="1.6" fill="#c69a70" stroke="#73431a" stroke-width="1.0"/>
<circle cx="1522.6" cy="802.2" r="1.6" fill="#c69a70" stroke="#73431a" stroke-width="1.0"/>
<circle cx="1521.9" cy="811.9" r="1.6" fill="#c69a70" stroke="#73431a" stroke-width="1.0"/>
<circle cx="1529.6" cy="817.3" r="1.6" fill="#c69a70" stroke="#73431a" stroke-width="1.0"/>
<circle cx="1538" cy="813" r="1.6" fill="#c69a70" stroke="#73431a" stroke-width="1.0"/>
<circle cx="1538.7" cy="803.3" r="1.6" fill="#c69a70" stroke="#73431a" stroke-width="1.0"/>
<circle cx="1532.5" cy="790.5" r="1.6" fill="#c69a70" stroke="#73431a" stroke-width="1.0"/>
<circle cx="1537.5" cy="791.9" r="1.6" fill="#c69a70" stroke="#73431a" stroke-width="1.0"/>
<circle cx="1519" cy="799.7" r="1.35" fill="#f3ddd6" stroke="#e3c3ba" stroke-width="0.4"/>
<circle cx="1518" cy="813.9" r="1.35" fill="#f3ddd6" stroke="#e3c3ba" stroke-width="0.4"/>
<circle cx="1529.3" cy="821.7" r="1.35" fill="#f3ddd6" stroke="#e3c3ba" stroke-width="0.4"/>
<circle cx="1541.6" cy="815.5" r="1.35" fill="#f3ddd6" stroke="#e3c3ba" stroke-width="0.4"/>
<circle cx="1542.6" cy="801.3" r="1.35" fill="#f3ddd6" stroke="#e3c3ba" stroke-width="0.4"/>
<circle cx="1539.4" cy="789.2" r="1.35" fill="#f3ddd6" stroke="#e3c3ba" stroke-width="0.4"/>
<circle cx="1540.8" cy="792.2" r="1.35" fill="#f3ddd6" stroke="#e3c3ba" stroke-width="0.4"/>
<circle cx="1538.9" cy="794.9" r="1.35" fill="#f3ddd6" stroke="#e3c3ba" stroke-width="0.4"/>
<path d="M1569 798 L1560.5 801.9 L1559.5 811.6 L1567 817.2 L1575.5 813.3 L1576.5 803.6 Z M1569 798 L1568.2 790.5 M1568.2 790.5 L1573.2 791.9 M1560.5 801.9 L1557 799.3 M1559.5 811.6 L1555.5 813.4 M1567 817.2 L1566.5 821.6 M1575.5 813.3 L1579 815.9 M1576.5 803.6 L1580.5 801.8 M1573.2 791.9 L1575.1 789.2 M1573.2 791.9 L1576.5 792.2 M1573.2 791.9 L1574.6 794.9" fill="none" stroke="#73431a" stroke-width="1.7" stroke-linejoin="round" stroke-linecap="round"/>
<circle cx="1569" cy="798" r="1.6" fill="#c69a70" stroke="#73431a" stroke-width="1.0"/>
<circle cx="1560.5" cy="801.9" r="1.6" fill="#c69a70" stroke="#73431a" stroke-width="1.0"/>
<circle cx="1559.5" cy="811.6" r="1.6" fill="#c69a70" stroke="#73431a" stroke-width="1.0"/>
<circle cx="1567" cy="817.2" r="1.6" fill="#c69a70" stroke="#73431a" stroke-width="1.0"/>
<circle cx="1575.5" cy="813.3" r="1.6" fill="#c69a70" stroke="#73431a" stroke-width="1.0"/>
<circle cx="1576.5" cy="803.6" r="1.6" fill="#c69a70" stroke="#73431a" stroke-width="1.0"/>
<circle cx="1568.2" cy="790.5" r="1.6" fill="#c69a70" stroke="#73431a" stroke-width="1.0"/>
<circle cx="1573.2" cy="791.9" r="1.6" fill="#c69a70" stroke="#73431a" stroke-width="1.0"/>
<circle cx="1557" cy="799.3" r="1.35" fill="#f3ddd6" stroke="#e3c3ba" stroke-width="0.4"/>
<circle cx="1555.5" cy="813.4" r="1.35" fill="#f3ddd6" stroke="#e3c3ba" stroke-width="0.4"/>
<circle cx="1566.5" cy="821.6" r="1.35" fill="#f3ddd6" stroke="#e3c3ba" stroke-width="0.4"/>
<circle cx="1579" cy="815.9" r="1.35" fill="#f3ddd6" stroke="#e3c3ba" stroke-width="0.4"/>
<circle cx="1580.5" cy="801.8" r="1.35" fill="#f3ddd6" stroke="#e3c3ba" stroke-width="0.4"/>
<circle cx="1575.1" cy="789.2" r="1.35" fill="#f3ddd6" stroke="#e3c3ba" stroke-width="0.4"/>
<circle cx="1576.5" cy="792.2" r="1.35" fill="#f3ddd6" stroke="#e3c3ba" stroke-width="0.4"/>
<circle cx="1574.6" cy="794.9" r="1.35" fill="#f3ddd6" stroke="#e3c3ba" stroke-width="0.4"/>
<path d="M1602.2 796.9 L1593.8 801.2 L1593.1 810.9 L1600.8 816.3 L1609.2 812 L1609.9 802.3 Z M1602.2 796.9 L1603 790.3 M1603 790.3 L1608 791.7 M1593.8 801.2 L1590.2 798.7 M1593.1 810.9 L1589.2 812.9 M1600.8 816.3 L1600.5 820.7 M1609.2 812 L1612.8 814.5 M1609.9 802.3 L1613.8 800.3 M1608 791.7 L1609.9 789 M1608 791.7 L1611.3 792 M1608 791.7 L1609.4 794.7" fill="none" stroke="#73431a" stroke-width="1.7" stroke-linejoin="round" stroke-linecap="round"/>
<circle cx="1602.2" cy="796.9" r="1.6" fill="#c69a70" stroke="#73431a" stroke-width="1.0"/>
<circle cx="1593.8" cy="801.2" r="1.6" fill="#c69a70" stroke="#73431a" stroke-width="1.0"/>
<circle cx="1593.1" cy="810.9" r="1.6" fill="#c69a70" stroke="#73431a" stroke-width="1.0"/>
<circle cx="1600.8" cy="816.3" r="1.6" fill="#c69a70" stroke="#73431a" stroke-width="1.0"/>
<circle cx="1609.2" cy="812" r="1.6" fill="#c69a70" stroke="#73431a" stroke-width="1.0"/>
<circle cx="1609.9" cy="802.3" r="1.6" fill="#c69a70" stroke="#73431a" stroke-width="1.0"/>
<circle cx="1603" cy="790.3" r="1.6" fill="#c69a70" stroke="#73431a" stroke-width="1.0"/>
<circle cx="1608" cy="791.7" r="1.6" fill="#c69a70" stroke="#73431a" stroke-width="1.0"/>
<circle cx="1590.2" cy="798.7" r="1.35" fill="#f3ddd6" stroke="#e3c3ba" stroke-width="0.4"/>
<circle cx="1589.2" cy="812.9" r="1.35" fill="#f3ddd6" stroke="#e3c3ba" stroke-width="0.4"/>
<circle cx="1600.5" cy="820.7" r="1.35" fill="#f3ddd6" stroke="#e3c3ba" stroke-width="0.4"/>
<circle cx="1612.8" cy="814.5" r="1.35" fill="#f3ddd6" stroke="#e3c3ba" stroke-width="0.4"/>
<circle cx="1613.8" cy="800.3" r="1.35" fill="#f3ddd6" stroke="#e3c3ba" stroke-width="0.4"/>
<circle cx="1609.9" cy="789" r="1.35" fill="#f3ddd6" stroke="#e3c3ba" stroke-width="0.4"/>
<circle cx="1611.3" cy="792" r="1.35" fill="#f3ddd6" stroke="#e3c3ba" stroke-width="0.4"/>
<circle cx="1609.4" cy="794.7" r="1.35" fill="#f3ddd6" stroke="#e3c3ba" stroke-width="0.4"/>
<path d="M1521.1 814.5 L1512.8 818.9 L1512.3 828.6 L1520.1 833.9 L1528.4 829.5 L1528.9 819.8 Z M1520.1 833.9 L1518.6 840.5 M1518.6 840.5 L1523.6 839.1 M1521.1 814.5 L1521.3 810.1 M1512.8 818.9 L1509.2 816.5 M1512.3 828.6 L1508.4 830.7 M1528.4 829.5 L1532 831.9 M1528.9 819.8 L1532.8 817.7 M1523.6 839.1 L1525.5 841.8 M1523.6 839.1 L1526.9 838.8 M1523.6 839.1 L1525 836.1" fill="none" stroke="#73431a" stroke-width="1.7" stroke-linejoin="round" stroke-linecap="round"/>
<circle cx="1521.1" cy="814.5" r="1.6" fill="#c69a70" stroke="#73431a" stroke-width="1.0"/>
<circle cx="1512.8" cy="818.9" r="1.6" fill="#c69a70" stroke="#73431a" stroke-width="1.0"/>
<circle cx="1512.3" cy="828.6" r="1.6" fill="#c69a70" stroke="#73431a" stroke-width="1.0"/>
<circle cx="1520.1" cy="833.9" r="1.6" fill="#c69a70" stroke="#73431a" stroke-width="1.0"/>
<circle cx="1528.4" cy="829.5" r="1.6" fill="#c69a70" stroke="#73431a" stroke-width="1.0"/>
<circle cx="1528.9" cy="819.8" r="1.6" fill="#c69a70" stroke="#73431a" stroke-width="1.0"/>
<circle cx="1518.6" cy="840.5" r="1.6" fill="#c69a70" stroke="#73431a" stroke-width="1.0"/>
<circle cx="1523.6" cy="839.1" r="1.6" fill="#c69a70" stroke="#73431a" stroke-width="1.0"/>
<circle cx="1521.3" cy="810.1" r="1.35" fill="#f3ddd6" stroke="#e3c3ba" stroke-width="0.4"/>
<circle cx="1509.2" cy="816.5" r="1.35" fill="#f3ddd6" stroke="#e3c3ba" stroke-width="0.4"/>
<circle cx="1508.4" cy="830.7" r="1.35" fill="#f3ddd6" stroke="#e3c3ba" stroke-width="0.4"/>
<circle cx="1532" cy="831.9" r="1.35" fill="#f3ddd6" stroke="#e3c3ba" stroke-width="0.4"/>
<circle cx="1532.8" cy="817.7" r="1.35" fill="#f3ddd6" stroke="#e3c3ba" stroke-width="0.4"/>
<circle cx="1525.5" cy="841.8" r="1.35" fill="#f3ddd6" stroke="#e3c3ba" stroke-width="0.4"/>
<circle cx="1526.9" cy="838.8" r="1.35" fill="#f3ddd6" stroke="#e3c3ba" stroke-width="0.4"/>
<circle cx="1525" cy="836.1" r="1.35" fill="#f3ddd6" stroke="#e3c3ba" stroke-width="0.4"/>
<path d="M1554.6 813.2 L1546.1 817.1 L1545.1 826.8 L1552.6 832.4 L1561.1 828.5 L1562.1 818.8 Z M1552.6 832.4 L1553.2 840.2 M1553.2 840.2 L1558.2 838.8 M1554.6 813.2 L1555.1 808.8 M1546.1 817.1 L1542.6 814.5 M1545.1 826.8 L1541.1 828.6 M1561.1 828.5 L1564.6 831.1 M1562.1 818.8 L1566.1 817 M1558.2 838.8 L1560.1 841.6 M1558.2 838.8 L1561.4 838.6 M1558.2 838.8 L1559.6 835.9" fill="none" stroke="#73431a" stroke-width="1.7" stroke-linejoin="round" stroke-linecap="round"/>
<circle cx="1554.6" cy="813.2" r="1.6" fill="#c69a70" stroke="#73431a" stroke-width="1.0"/>
<circle cx="1546.1" cy="817.1" r="1.6" fill="#c69a70" stroke="#73431a" stroke-width="1.0"/>
<circle cx="1545.1" cy="826.8" r="1.6" fill="#c69a70" stroke="#73431a" stroke-width="1.0"/>
<circle cx="1552.6" cy="832.4" r="1.6" fill="#c69a70" stroke="#73431a" stroke-width="1.0"/>
<circle cx="1561.1" cy="828.5" r="1.6" fill="#c69a70" stroke="#73431a" stroke-width="1.0"/>
<circle cx="1562.1" cy="818.8" r="1.6" fill="#c69a70" stroke="#73431a" stroke-width="1.0"/>
<circle cx="1553.2" cy="840.2" r="1.6" fill="#c69a70" stroke="#73431a" stroke-width="1.0"/>
<circle cx="1558.2" cy="838.8" r="1.6" fill="#c69a70" stroke="#73431a" stroke-width="1.0"/>
<circle cx="1555.1" cy="808.8" r="1.35" fill="#f3ddd6" stroke="#e3c3ba" stroke-width="0.4"/>
<circle cx="1542.6" cy="814.5" r="1.35" fill="#f3ddd6" stroke="#e3c3ba" stroke-width="0.4"/>
<circle cx="1541.1" cy="828.6" r="1.35" fill="#f3ddd6" stroke="#e3c3ba" stroke-width="0.4"/>
<circle cx="1564.6" cy="831.1" r="1.35" fill="#f3ddd6" stroke="#e3c3ba" stroke-width="0.4"/>
<circle cx="1566.1" cy="817" r="1.35" fill="#f3ddd6" stroke="#e3c3ba" stroke-width="0.4"/>
<circle cx="1560.1" cy="841.6" r="1.35" fill="#f3ddd6" stroke="#e3c3ba" stroke-width="0.4"/>
<circle cx="1561.4" cy="838.6" r="1.35" fill="#f3ddd6" stroke="#e3c3ba" stroke-width="0.4"/>
<circle cx="1559.6" cy="835.9" r="1.35" fill="#f3ddd6" stroke="#e3c3ba" stroke-width="0.4"/>
<path d="M1591.5 814.5 L1583.2 818.9 L1582.7 828.6 L1590.5 833.9 L1598.8 829.5 L1599.3 819.8 Z M1590.5 833.9 L1589.4 840.5 M1589.4 840.5 L1594.4 839.1 M1591.5 814.5 L1591.7 810.1 M1583.2 818.9 L1579.6 816.5 M1582.7 828.6 L1578.8 830.7 M1598.8 829.5 L1602.4 831.9 M1599.3 819.8 L1603.2 817.7 M1594.4 839.1 L1596.3 841.8 M1594.4 839.1 L1597.7 838.8 M1594.4 839.1 L1595.8 836.1" fill="none" stroke="#73431a" stroke-width="1.7" stroke-linejoin="round" stroke-linecap="round"/>
<circle cx="1591.5" cy="814.5" r="1.6" fill="#c69a70" stroke="#73431a" stroke-width="1.0"/>
<circle cx="1583.2" cy="818.9" r="1.6" fill="#c69a70" stroke="#73431a" stroke-width="1.0"/>
<circle cx="1582.7" cy="828.6" r="1.6" fill="#c69a70" stroke="#73431a" stroke-width="1.0"/>
<circle cx="1590.5" cy="833.9" r="1.6" fill="#c69a70" stroke="#73431a" stroke-width="1.0"/>
<circle cx="1598.8" cy="829.5" r="1.6" fill="#c69a70" stroke="#73431a" stroke-width="1.0"/>
<circle cx="1599.3" cy="819.8" r="1.6" fill="#c69a70" stroke="#73431a" stroke-width="1.0"/>
<circle cx="1589.4" cy="840.5" r="1.6" fill="#c69a70" stroke="#73431a" stroke-width="1.0"/>
<circle cx="1594.4" cy="839.1" r="1.6" fill="#c69a70" stroke="#73431a" stroke-width="1.0"/>
<circle cx="1591.7" cy="810.1" r="1.35" fill="#f3ddd6" stroke="#e3c3ba" stroke-width="0.4"/>
<circle cx="1579.6" cy="816.5" r="1.35" fill="#f3ddd6" stroke="#e3c3ba" stroke-width="0.4"/>
<circle cx="1578.8" cy="830.7" r="1.35" fill="#f3ddd6" stroke="#e3c3ba" stroke-width="0.4"/>
<circle cx="1602.4" cy="831.9" r="1.35" fill="#f3ddd6" stroke="#e3c3ba" stroke-width="0.4"/>
<circle cx="1603.2" cy="817.7" r="1.35" fill="#f3ddd6" stroke="#e3c3ba" stroke-width="0.4"/>
<circle cx="1596.3" cy="841.8" r="1.35" fill="#f3ddd6" stroke="#e3c3ba" stroke-width="0.4"/>
<circle cx="1597.7" cy="838.8" r="1.35" fill="#f3ddd6" stroke="#e3c3ba" stroke-width="0.4"/>
<circle cx="1595.8" cy="836.1" r="1.35" fill="#f3ddd6" stroke="#e3c3ba" stroke-width="0.4"/>
<path d="M1517.6 910.5 L1509.9 915.9 L1510.6 925.6 L1519 929.9 L1526.7 924.5 L1526 914.8 Z M1517.6 910.5 L1517.3 903.9 M1517.3 903.9 L1522.3 905.3 M1509.9 915.9 L1506 913.9 M1510.6 925.6 L1507 928.1 M1519 929.9 L1519.3 934.3 M1526.7 924.5 L1530.6 926.5 M1526 914.8 L1529.6 912.3 M1522.3 905.3 L1524.2 902.6 M1522.3 905.3 L1525.6 905.6 M1522.3 905.3 L1523.7 908.3" fill="none" stroke="#73431a" stroke-width="1.7" stroke-linejoin="round" stroke-linecap="round"/>
<circle cx="1517.6" cy="910.5" r="1.6" fill="#c69a70" stroke="#73431a" stroke-width="1.0"/>
<circle cx="1509.9" cy="915.9" r="1.6" fill="#c69a70" stroke="#73431a" stroke-width="1.0"/>
<circle cx="1510.6" cy="925.6" r="1.6" fill="#c69a70" stroke="#73431a" stroke-width="1.0"/>
<circle cx="1519" cy="929.9" r="1.6" fill="#c69a70" stroke="#73431a" stroke-width="1.0"/>
<circle cx="1526.7" cy="924.5" r="1.6" fill="#c69a70" stroke="#73431a" stroke-width="1.0"/>
<circle cx="1526" cy="914.8" r="1.6" fill="#c69a70" stroke="#73431a" stroke-width="1.0"/>
<circle cx="1517.3" cy="903.9" r="1.6" fill="#c69a70" stroke="#73431a" stroke-width="1.0"/>
<circle cx="1522.3" cy="905.3" r="1.6" fill="#c69a70" stroke="#73431a" stroke-width="1.0"/>
<circle cx="1506" cy="913.9" r="1.35" fill="#f3ddd6" stroke="#e3c3ba" stroke-width="0.4"/>
<circle cx="1507" cy="928.1" r="1.35" fill="#f3ddd6" stroke="#e3c3ba" stroke-width="0.4"/>
<circle cx="1519.3" cy="934.3" r="1.35" fill="#f3ddd6" stroke="#e3c3ba" stroke-width="0.4"/>
<circle cx="1530.6" cy="926.5" r="1.35" fill="#f3ddd6" stroke="#e3c3ba" stroke-width="0.4"/>
<circle cx="1529.6" cy="912.3" r="1.35" fill="#f3ddd6" stroke="#e3c3ba" stroke-width="0.4"/>
<circle cx="1524.2" cy="902.6" r="1.35" fill="#f3ddd6" stroke="#e3c3ba" stroke-width="0.4"/>
<circle cx="1525.6" cy="905.6" r="1.35" fill="#f3ddd6" stroke="#e3c3ba" stroke-width="0.4"/>
<circle cx="1523.7" cy="908.3" r="1.35" fill="#f3ddd6" stroke="#e3c3ba" stroke-width="0.4"/>
<path d="M1555.2 910.6 L1547.7 916.2 L1548.7 925.9 L1557.2 929.8 L1564.7 924.2 L1563.7 914.5 Z M1555.2 910.6 L1552.9 903.9 M1552.9 903.9 L1557.9 905.3 M1547.7 916.2 L1543.7 914.4 M1548.7 925.9 L1545.2 928.5 M1557.2 929.8 L1557.7 934.2 M1564.7 924.2 L1568.7 926 M1563.7 914.5 L1567.2 911.9 M1557.9 905.3 L1559.8 902.6 M1557.9 905.3 L1561.2 905.6 M1557.9 905.3 L1559.3 908.3" fill="none" stroke="#73431a" stroke-width="1.7" stroke-linejoin="round" stroke-linecap="round"/>
<circle cx="1555.2" cy="910.6" r="1.6" fill="#c69a70" stroke="#73431a" stroke-width="1.0"/>
<circle cx="1547.7" cy="916.2" r="1.6" fill="#c69a70" stroke="#73431a" stroke-width="1.0"/>
<circle cx="1548.7" cy="925.9" r="1.6" fill="#c69a70" stroke="#73431a" stroke-width="1.0"/>
<circle cx="1557.2" cy="929.8" r="1.6" fill="#c69a70" stroke="#73431a" stroke-width="1.0"/>
<circle cx="1564.7" cy="924.2" r="1.6" fill="#c69a70" stroke="#73431a" stroke-width="1.0"/>
<circle cx="1563.7" cy="914.5" r="1.6" fill="#c69a70" stroke="#73431a" stroke-width="1.0"/>
<circle cx="1552.9" cy="903.9" r="1.6" fill="#c69a70" stroke="#73431a" stroke-width="1.0"/>
<circle cx="1557.9" cy="905.3" r="1.6" fill="#c69a70" stroke="#73431a" stroke-width="1.0"/>
<circle cx="1543.7" cy="914.4" r="1.35" fill="#f3ddd6" stroke="#e3c3ba" stroke-width="0.4"/>
<circle cx="1545.2" cy="928.5" r="1.35" fill="#f3ddd6" stroke="#e3c3ba" stroke-width="0.4"/>
<circle cx="1557.7" cy="934.2" r="1.35" fill="#f3ddd6" stroke="#e3c3ba" stroke-width="0.4"/>
<circle cx="1568.7" cy="926" r="1.35" fill="#f3ddd6" stroke="#e3c3ba" stroke-width="0.4"/>
<circle cx="1567.2" cy="911.9" r="1.35" fill="#f3ddd6" stroke="#e3c3ba" stroke-width="0.4"/>
<circle cx="1559.8" cy="902.6" r="1.35" fill="#f3ddd6" stroke="#e3c3ba" stroke-width="0.4"/>
<circle cx="1561.2" cy="905.6" r="1.35" fill="#f3ddd6" stroke="#e3c3ba" stroke-width="0.4"/>
<circle cx="1559.3" cy="908.3" r="1.35" fill="#f3ddd6" stroke="#e3c3ba" stroke-width="0.4"/>
<path d="M1587.9 909.5 L1580.2 914.9 L1580.9 924.6 L1589.3 928.9 L1597 923.5 L1596.3 913.8 Z M1587.9 909.5 L1588.1 903.7 M1588.1 903.7 L1593.1 905.1 M1580.2 914.9 L1576.3 912.9 M1580.9 924.6 L1577.3 927.1 M1589.3 928.9 L1589.6 933.3 M1597 923.5 L1600.9 925.5 M1596.3 913.8 L1599.9 911.3 M1593.1 905.1 L1595 902.4 M1593.1 905.1 L1596.4 905.4 M1593.1 905.1 L1594.5 908.1" fill="none" stroke="#73431a" stroke-width="1.7" stroke-linejoin="round" stroke-linecap="round"/>
<circle cx="1587.9" cy="909.5" r="1.6" fill="#c69a70" stroke="#73431a" stroke-width="1.0"/>
<circle cx="1580.2" cy="914.9" r="1.6" fill="#c69a70" stroke="#73431a" stroke-width="1.0"/>
<circle cx="1580.9" cy="924.6" r="1.6" fill="#c69a70" stroke="#73431a" stroke-width="1.0"/>
<circle cx="1589.3" cy="928.9" r="1.6" fill="#c69a70" stroke="#73431a" stroke-width="1.0"/>
<circle cx="1597" cy="923.5" r="1.6" fill="#c69a70" stroke="#73431a" stroke-width="1.0"/>
<circle cx="1596.3" cy="913.8" r="1.6" fill="#c69a70" stroke="#73431a" stroke-width="1.0"/>
<circle cx="1588.1" cy="903.7" r="1.6" fill="#c69a70" stroke="#73431a" stroke-width="1.0"/>
<circle cx="1593.1" cy="905.1" r="1.6" fill="#c69a70" stroke="#73431a" stroke-width="1.0"/>
<circle cx="1576.3" cy="912.9" r="1.35" fill="#f3ddd6" stroke="#e3c3ba" stroke-width="0.4"/>
<circle cx="1577.3" cy="927.1" r="1.35" fill="#f3ddd6" stroke="#e3c3ba" stroke-width="0.4"/>
<circle cx="1589.6" cy="933.3" r="1.35" fill="#f3ddd6" stroke="#e3c3ba" stroke-width="0.4"/>
<circle cx="1600.9" cy="925.5" r="1.35" fill="#f3ddd6" stroke="#e3c3ba" stroke-width="0.4"/>
<circle cx="1599.9" cy="911.3" r="1.35" fill="#f3ddd6" stroke="#e3c3ba" stroke-width="0.4"/>
<circle cx="1595" cy="902.4" r="1.35" fill="#f3ddd6" stroke="#e3c3ba" stroke-width="0.4"/>
<circle cx="1596.4" cy="905.4" r="1.35" fill="#f3ddd6" stroke="#e3c3ba" stroke-width="0.4"/>
<circle cx="1594.5" cy="908.1" r="1.35" fill="#f3ddd6" stroke="#e3c3ba" stroke-width="0.4"/>
<path d="M1532.7 927.5 L1524.9 932.8 L1525.4 942.5 L1533.7 946.9 L1541.5 941.6 L1541 931.9 Z M1533.7 946.9 L1533.7 954.7 M1533.7 954.7 L1538.7 953.3 M1532.7 927.5 L1532.5 923.1 M1524.9 932.8 L1521 930.7 M1525.4 942.5 L1521.8 944.9 M1541.5 941.6 L1545.4 943.7 M1541 931.9 L1544.6 929.5 M1538.7 953.3 L1540.6 956 M1538.7 953.3 L1542 953 M1538.7 953.3 L1540.1 950.3" fill="none" stroke="#73431a" stroke-width="1.7" stroke-linejoin="round" stroke-linecap="round"/>
<circle cx="1532.7" cy="927.5" r="1.6" fill="#c69a70" stroke="#73431a" stroke-width="1.0"/>
<circle cx="1524.9" cy="932.8" r="1.6" fill="#c69a70" stroke="#73431a" stroke-width="1.0"/>
<circle cx="1525.4" cy="942.5" r="1.6" fill="#c69a70" stroke="#73431a" stroke-width="1.0"/>
<circle cx="1533.7" cy="946.9" r="1.6" fill="#c69a70" stroke="#73431a" stroke-width="1.0"/>
<circle cx="1541.5" cy="941.6" r="1.6" fill="#c69a70" stroke="#73431a" stroke-width="1.0"/>
<circle cx="1541" cy="931.9" r="1.6" fill="#c69a70" stroke="#73431a" stroke-width="1.0"/>
<circle cx="1533.7" cy="954.7" r="1.6" fill="#c69a70" stroke="#73431a" stroke-width="1.0"/>
<circle cx="1538.7" cy="953.3" r="1.6" fill="#c69a70" stroke="#73431a" stroke-width="1.0"/>
<circle cx="1532.5" cy="923.1" r="1.35" fill="#f3ddd6" stroke="#e3c3ba" stroke-width="0.4"/>
<circle cx="1521" cy="930.7" r="1.35" fill="#f3ddd6" stroke="#e3c3ba" stroke-width="0.4"/>
<circle cx="1521.8" cy="944.9" r="1.35" fill="#f3ddd6" stroke="#e3c3ba" stroke-width="0.4"/>
<circle cx="1545.4" cy="943.7" r="1.35" fill="#f3ddd6" stroke="#e3c3ba" stroke-width="0.4"/>
<circle cx="1544.6" cy="929.5" r="1.35" fill="#f3ddd6" stroke="#e3c3ba" stroke-width="0.4"/>
<circle cx="1540.6" cy="956" r="1.35" fill="#f3ddd6" stroke="#e3c3ba" stroke-width="0.4"/>
<circle cx="1542" cy="953" r="1.35" fill="#f3ddd6" stroke="#e3c3ba" stroke-width="0.4"/>
<circle cx="1540.1" cy="950.3" r="1.35" fill="#f3ddd6" stroke="#e3c3ba" stroke-width="0.4"/>
<path d="M1565.4 928.4 L1557.9 934 L1558.9 943.7 L1567.4 947.6 L1574.9 942 L1573.9 932.3 Z M1567.4 947.6 L1568.3 954.9 M1568.3 954.9 L1573.3 953.5 M1565.4 928.4 L1564.9 924 M1557.9 934 L1553.9 932.2 M1558.9 943.7 L1555.4 946.3 M1574.9 942 L1578.9 943.8 M1573.9 932.3 L1577.4 929.7 M1573.3 953.5 L1575.2 956.2 M1573.3 953.5 L1576.6 953.2 M1573.3 953.5 L1574.7 950.5" fill="none" stroke="#73431a" stroke-width="1.7" stroke-linejoin="round" stroke-linecap="round"/>
<circle cx="1565.4" cy="928.4" r="1.6" fill="#c69a70" stroke="#73431a" stroke-width="1.0"/>
<circle cx="1557.9" cy="934" r="1.6" fill="#c69a70" stroke="#73431a" stroke-width="1.0"/>
<circle cx="1558.9" cy="943.7" r="1.6" fill="#c69a70" stroke="#73431a" stroke-width="1.0"/>
<circle cx="1567.4" cy="947.6" r="1.6" fill="#c69a70" stroke="#73431a" stroke-width="1.0"/>
<circle cx="1574.9" cy="942" r="1.6" fill="#c69a70" stroke="#73431a" stroke-width="1.0"/>
<circle cx="1573.9" cy="932.3" r="1.6" fill="#c69a70" stroke="#73431a" stroke-width="1.0"/>
<circle cx="1568.3" cy="954.9" r="1.6" fill="#c69a70" stroke="#73431a" stroke-width="1.0"/>
<circle cx="1573.3" cy="953.5" r="1.6" fill="#c69a70" stroke="#73431a" stroke-width="1.0"/>
<circle cx="1564.9" cy="924" r="1.35" fill="#f3ddd6" stroke="#e3c3ba" stroke-width="0.4"/>
<circle cx="1553.9" cy="932.2" r="1.35" fill="#f3ddd6" stroke="#e3c3ba" stroke-width="0.4"/>
<circle cx="1555.4" cy="946.3" r="1.35" fill="#f3ddd6" stroke="#e3c3ba" stroke-width="0.4"/>
<circle cx="1578.9" cy="943.8" r="1.35" fill="#f3ddd6" stroke="#e3c3ba" stroke-width="0.4"/>
<circle cx="1577.4" cy="929.7" r="1.35" fill="#f3ddd6" stroke="#e3c3ba" stroke-width="0.4"/>
<circle cx="1575.2" cy="956.2" r="1.35" fill="#f3ddd6" stroke="#e3c3ba" stroke-width="0.4"/>
<circle cx="1576.6" cy="953.2" r="1.35" fill="#f3ddd6" stroke="#e3c3ba" stroke-width="0.4"/>
<circle cx="1574.7" cy="950.5" r="1.35" fill="#f3ddd6" stroke="#e3c3ba" stroke-width="0.4"/>
<path d="M1603 927.5 L1595.2 932.8 L1595.7 942.5 L1604 946.9 L1611.8 941.6 L1611.3 931.9 Z M1604 946.9 L1604 954.7 M1604 954.7 L1609 953.3 M1603 927.5 L1602.8 923.1 M1595.2 932.8 L1591.3 930.7 M1595.7 942.5 L1592.1 944.9 M1611.8 941.6 L1615.7 943.7 M1611.3 931.9 L1614.9 929.5 M1609 953.3 L1610.9 956 M1609 953.3 L1612.3 953 M1609 953.3 L1610.4 950.3" fill="none" stroke="#73431a" stroke-width="1.7" stroke-linejoin="round" stroke-linecap="round"/>
<circle cx="1603" cy="927.5" r="1.6" fill="#c69a70" stroke="#73431a" stroke-width="1.0"/>
<circle cx="1595.2" cy="932.8" r="1.6" fill="#c69a70" stroke="#73431a" stroke-width="1.0"/>
<circle cx="1595.7" cy="942.5" r="1.6" fill="#c69a70" stroke="#73431a" stroke-width="1.0"/>
<circle cx="1604" cy="946.9" r="1.6" fill="#c69a70" stroke="#73431a" stroke-width="1.0"/>
<circle cx="1611.8" cy="941.6" r="1.6" fill="#c69a70" stroke="#73431a" stroke-width="1.0"/>
<circle cx="1611.3" cy="931.9" r="1.6" fill="#c69a70" stroke="#73431a" stroke-width="1.0"/>
<circle cx="1604" cy="954.7" r="1.6" fill="#c69a70" stroke="#73431a" stroke-width="1.0"/>
<circle cx="1609" cy="953.3" r="1.6" fill="#c69a70" stroke="#73431a" stroke-width="1.0"/>
<circle cx="1602.8" cy="923.1" r="1.35" fill="#f3ddd6" stroke="#e3c3ba" stroke-width="0.4"/>
<circle cx="1591.3" cy="930.7" r="1.35" fill="#f3ddd6" stroke="#e3c3ba" stroke-width="0.4"/>
<circle cx="1592.1" cy="944.9" r="1.35" fill="#f3ddd6" stroke="#e3c3ba" stroke-width="0.4"/>
<circle cx="1615.7" cy="943.7" r="1.35" fill="#f3ddd6" stroke="#e3c3ba" stroke-width="0.4"/>
<circle cx="1614.9" cy="929.5" r="1.35" fill="#f3ddd6" stroke="#e3c3ba" stroke-width="0.4"/>
<circle cx="1610.9" cy="956" r="1.35" fill="#f3ddd6" stroke="#e3c3ba" stroke-width="0.4"/>
<circle cx="1612.3" cy="953" r="1.35" fill="#f3ddd6" stroke="#e3c3ba" stroke-width="0.4"/>
<circle cx="1610.4" cy="950.3" r="1.35" fill="#f3ddd6" stroke="#e3c3ba" stroke-width="0.4"/>
<path d="M1531.3 1027.7 L1521.8 1032.2 L1520.7 1043.1 L1529.1 1049.5 L1538.6 1045 L1539.7 1034.1 Z M1531.3 1027.7 L1532.4 1018.9 M1532.4 1018.9 L1537.4 1020.3 M1521.8 1032.2 L1518.3 1029.5 M1520.7 1043.1 L1516.7 1045 M1529.1 1049.5 L1528.6 1053.9 M1538.6 1045 L1542.1 1047.7 M1539.7 1034.1 L1543.7 1032.2 M1537.4 1020.3 L1539.3 1017.6 M1537.4 1020.3 L1540.7 1020.6 M1537.4 1020.3 L1538.8 1023.3" fill="none" stroke="#73431a" stroke-width="1.7" stroke-linejoin="round" stroke-linecap="round"/>
<circle cx="1531.3" cy="1027.7" r="1.6" fill="#c69a70" stroke="#73431a" stroke-width="1.0"/>
<circle cx="1521.8" cy="1032.2" r="1.6" fill="#c69a70" stroke="#73431a" stroke-width="1.0"/>
<circle cx="1520.7" cy="1043.1" r="1.6" fill="#c69a70" stroke="#73431a" stroke-width="1.0"/>
<circle cx="1529.1" cy="1049.5" r="1.6" fill="#c69a70" stroke="#73431a" stroke-width="1.0"/>
<circle cx="1538.6" cy="1045" r="1.6" fill="#c69a70" stroke="#73431a" stroke-width="1.0"/>
<circle cx="1539.7" cy="1034.1" r="1.6" fill="#c69a70" stroke="#73431a" stroke-width="1.0"/>
<circle cx="1532.4" cy="1018.9" r="1.6" fill="#c69a70" stroke="#73431a" stroke-width="1.0"/>
<circle cx="1537.4" cy="1020.3" r="1.6" fill="#c69a70" stroke="#73431a" stroke-width="1.0"/>
<circle cx="1518.3" cy="1029.5" r="1.35" fill="#f3ddd6" stroke="#e3c3ba" stroke-width="0.4"/>
<circle cx="1516.7" cy="1045" r="1.35" fill="#f3ddd6" stroke="#e3c3ba" stroke-width="0.4"/>
<circle cx="1528.6" cy="1053.9" r="1.35" fill="#f3ddd6" stroke="#e3c3ba" stroke-width="0.4"/>
<circle cx="1542.1" cy="1047.7" r="1.35" fill="#f3ddd6" stroke="#e3c3ba" stroke-width="0.4"/>
<circle cx="1543.7" cy="1032.2" r="1.35" fill="#f3ddd6" stroke="#e3c3ba" stroke-width="0.4"/>
<circle cx="1539.3" cy="1017.6" r="1.35" fill="#f3ddd6" stroke="#e3c3ba" stroke-width="0.4"/>
<circle cx="1540.7" cy="1020.6" r="1.35" fill="#f3ddd6" stroke="#e3c3ba" stroke-width="0.4"/>
<circle cx="1538.8" cy="1023.3" r="1.35" fill="#f3ddd6" stroke="#e3c3ba" stroke-width="0.4"/>
<path d="M1566.7 1027.6 L1557.5 1032.8 L1557.1 1043.8 L1565.9 1049.6 L1575.1 1044.4 L1575.5 1033.4 Z M1566.7 1027.6 L1567.3 1018.9 M1567.3 1018.9 L1572.3 1020.3 M1557.5 1032.8 L1553.8 1030.4 M1557.1 1043.8 L1553.3 1045.9 M1565.9 1049.6 L1565.8 1054 M1575.1 1044.4 L1578.8 1046.8 M1575.5 1033.4 L1579.3 1031.3 M1572.3 1020.3 L1574.2 1017.6 M1572.3 1020.3 L1575.6 1020.6 M1572.3 1020.3 L1573.7 1023.3" fill="none" stroke="#73431a" stroke-width="1.7" stroke-linejoin="round" stroke-linecap="round"/>
<circle cx="1566.7" cy="1027.6" r="1.6" fill="#c69a70" stroke="#73431a" stroke-width="1.0"/>
<circle cx="1557.5" cy="1032.8" r="1.6" fill="#c69a70" stroke="#73431a" stroke-width="1.0"/>
<circle cx="1557.1" cy="1043.8" r="1.6" fill="#c69a70" stroke="#73431a" stroke-width="1.0"/>
<circle cx="1565.9" cy="1049.6" r="1.6" fill="#c69a70" stroke="#73431a" stroke-width="1.0"/>
<circle cx="1575.1" cy="1044.4" r="1.6" fill="#c69a70" stroke="#73431a" stroke-width="1.0"/>
<circle cx="1575.5" cy="1033.4" r="1.6" fill="#c69a70" stroke="#73431a" stroke-width="1.0"/>
<circle cx="1567.3" cy="1018.9" r="1.6" fill="#c69a70" stroke="#73431a" stroke-width="1.0"/>
<circle cx="1572.3" cy="1020.3" r="1.6" fill="#c69a70" stroke="#73431a" stroke-width="1.0"/>
<circle cx="1553.8" cy="1030.4" r="1.35" fill="#f3ddd6" stroke="#e3c3ba" stroke-width="0.4"/>
<circle cx="1553.3" cy="1045.9" r="1.35" fill="#f3ddd6" stroke="#e3c3ba" stroke-width="0.4"/>
<circle cx="1565.8" cy="1054" r="1.35" fill="#f3ddd6" stroke="#e3c3ba" stroke-width="0.4"/>
<circle cx="1578.8" cy="1046.8" r="1.35" fill="#f3ddd6" stroke="#e3c3ba" stroke-width="0.4"/>
<circle cx="1579.3" cy="1031.3" r="1.35" fill="#f3ddd6" stroke="#e3c3ba" stroke-width="0.4"/>
<circle cx="1574.2" cy="1017.6" r="1.35" fill="#f3ddd6" stroke="#e3c3ba" stroke-width="0.4"/>
<circle cx="1575.6" cy="1020.6" r="1.35" fill="#f3ddd6" stroke="#e3c3ba" stroke-width="0.4"/>
<circle cx="1573.7" cy="1023.3" r="1.35" fill="#f3ddd6" stroke="#e3c3ba" stroke-width="0.4"/>
<path d="M1601.6 1027.7 L1592.1 1032.2 L1591 1043.1 L1599.4 1049.5 L1608.9 1045 L1610 1034.1 Z M1601.6 1027.7 L1602.7 1018.9 M1602.7 1018.9 L1607.7 1020.3 M1592.1 1032.2 L1588.6 1029.5 M1591 1043.1 L1587 1045 M1599.4 1049.5 L1598.9 1053.9 M1608.9 1045 L1612.4 1047.7 M1610 1034.1 L1614 1032.2 M1607.7 1020.3 L1609.6 1017.6 M1607.7 1020.3 L1611 1020.6 M1607.7 1020.3 L1609.1 1023.3" fill="none" stroke="#73431a" stroke-width="1.7" stroke-linejoin="round" stroke-linecap="round"/>
<circle cx="1601.6" cy="1027.7" r="1.6" fill="#c69a70" stroke="#73431a" stroke-width="1.0"/>
<circle cx="1592.1" cy="1032.2" r="1.6" fill="#c69a70" stroke="#73431a" stroke-width="1.0"/>
<circle cx="1591" cy="1043.1" r="1.6" fill="#c69a70" stroke="#73431a" stroke-width="1.0"/>
<circle cx="1599.4" cy="1049.5" r="1.6" fill="#c69a70" stroke="#73431a" stroke-width="1.0"/>
<circle cx="1608.9" cy="1045" r="1.6" fill="#c69a70" stroke="#73431a" stroke-width="1.0"/>
<circle cx="1610" cy="1034.1" r="1.6" fill="#c69a70" stroke="#73431a" stroke-width="1.0"/>
<circle cx="1602.7" cy="1018.9" r="1.6" fill="#c69a70" stroke="#73431a" stroke-width="1.0"/>
<circle cx="1607.7" cy="1020.3" r="1.6" fill="#c69a70" stroke="#73431a" stroke-width="1.0"/>
<circle cx="1588.6" cy="1029.5" r="1.35" fill="#f3ddd6" stroke="#e3c3ba" stroke-width="0.4"/>
<circle cx="1587" cy="1045" r="1.35" fill="#f3ddd6" stroke="#e3c3ba" stroke-width="0.4"/>
<circle cx="1598.9" cy="1053.9" r="1.35" fill="#f3ddd6" stroke="#e3c3ba" stroke-width="0.4"/>
<circle cx="1612.4" cy="1047.7" r="1.35" fill="#f3ddd6" stroke="#e3c3ba" stroke-width="0.4"/>
<circle cx="1614" cy="1032.2" r="1.35" fill="#f3ddd6" stroke="#e3c3ba" stroke-width="0.4"/>
<circle cx="1609.6" cy="1017.6" r="1.35" fill="#f3ddd6" stroke="#e3c3ba" stroke-width="0.4"/>
<circle cx="1611" cy="1020.6" r="1.35" fill="#f3ddd6" stroke="#e3c3ba" stroke-width="0.4"/>
<circle cx="1609.1" cy="1023.3" r="1.35" fill="#f3ddd6" stroke="#e3c3ba" stroke-width="0.4"/>
<path d="M1568.5 732.8 L1549 758.6 L1567 758.6 Z" fill="#4851b3" stroke="#4851b3" stroke-width="0.5"/>
<path d="M1568.5 732.8 L1588 758.6 L1567 758.6 Z" fill="#424bad" stroke="#424bad" stroke-width="0.5"/>
<path d="M1568.5 784.4 L1549 758.6 L1567 758.6 Z" fill="#3f49aa" stroke="#3f49aa" stroke-width="0.5"/>
<path d="M1568.5 784.4 L1588 758.6 L1567 758.6 Z" fill="#454fb0" stroke="#454fb0" stroke-width="0.5"/>
<path d="M1549 758.6 H1588" stroke="#6a74c8" stroke-width="0.6" opacity="0.8"/>
<path d="M1567 732.8 V784.4" stroke="#5560bb" stroke-width="0.5" opacity="0.6"/>
<circle cx="1568.5" cy="758.6" r="4" fill="url(#gPb)"/>
<path d="M1533.4 733.4 L1514.6 758.6 L1531.9 758.6 Z" fill="#3640a8" stroke="#3640a8" stroke-width="0.5"/>
<path d="M1533.4 733.4 L1552.2 758.6 L1531.9 758.6 Z" fill="#2f399f" stroke="#2f399f" stroke-width="0.5"/>
<path d="M1533.4 783.8 L1514.6 758.6 L1531.9 758.6 Z" fill="#323ca3" stroke="#323ca3" stroke-width="0.5"/>
<path d="M1533.4 783.8 L1552.2 758.6 L1531.9 758.6 Z" fill="#2b349a" stroke="#2b349a" stroke-width="0.5"/>
<path d="M1514.6 758.6 H1552.2" stroke="#6a74c8" stroke-width="0.6" opacity="0.8"/>
<path d="M1531.9 733.4 V783.8" stroke="#5560bb" stroke-width="0.5" opacity="0.6"/>
<circle cx="1533.4" cy="758.6" r="4" fill="url(#gPb)"/>
<path d="M1603.7 733.4 L1584.9 758.6 L1602.2 758.6 Z" fill="#3640a8" stroke="#3640a8" stroke-width="0.5"/>
<path d="M1603.7 733.4 L1622.5 758.6 L1602.2 758.6 Z" fill="#2f399f" stroke="#2f399f" stroke-width="0.5"/>
<path d="M1603.7 783.8 L1584.9 758.6 L1602.2 758.6 Z" fill="#323ca3" stroke="#323ca3" stroke-width="0.5"/>
<path d="M1603.7 783.8 L1622.5 758.6 L1602.2 758.6 Z" fill="#2b349a" stroke="#2b349a" stroke-width="0.5"/>
<path d="M1584.9 758.6 H1622.5" stroke="#6a74c8" stroke-width="0.6" opacity="0.8"/>
<path d="M1602.2 733.4 V783.8" stroke="#5560bb" stroke-width="0.5" opacity="0.6"/>
<circle cx="1603.7" cy="758.6" r="4" fill="url(#gPb)"/>
<circle cx="1511.7" cy="758.6" r="3.1" fill="url(#gI)"/>
<circle cx="1546.9" cy="758.6" r="3.1" fill="url(#gI)"/>
<circle cx="1554.5" cy="758.6" r="3.1" fill="url(#gI)"/>
<circle cx="1582" cy="758.6" r="3.1" fill="url(#gI)"/>
<circle cx="1616.7" cy="758.6" r="3.1" fill="url(#gI)"/>
<circle cx="1625.4" cy="758.6" r="3.1" fill="url(#gI)"/>
<circle cx="1534" cy="733" r="3.3" fill="url(#gI)"/>
<circle cx="1533.7" cy="784" r="3.3" fill="url(#gI)"/>
<circle cx="1568.8" cy="733" r="3.3" fill="url(#gI)"/>
<circle cx="1568.7" cy="784" r="3.3" fill="url(#gI)"/>
<circle cx="1604.3" cy="733" r="3.3" fill="url(#gI)"/>
<circle cx="1604" cy="784" r="3.3" fill="url(#gI)"/>
<path d="M1517.7 846.4 L1498.2 872.2 L1516.2 872.2 Z" fill="#4851b3" stroke="#4851b3" stroke-width="0.5"/>
<path d="M1517.7 846.4 L1537.2 872.2 L1516.2 872.2 Z" fill="#424bad" stroke="#424bad" stroke-width="0.5"/>
<path d="M1517.7 898 L1498.2 872.2 L1516.2 872.2 Z" fill="#3f49aa" stroke="#3f49aa" stroke-width="0.5"/>
<path d="M1517.7 898 L1537.2 872.2 L1516.2 872.2 Z" fill="#454fb0" stroke="#454fb0" stroke-width="0.5"/>
<path d="M1498.2 872.2 H1537.2" stroke="#6a74c8" stroke-width="0.6" opacity="0.8"/>
<path d="M1516.2 846.4 V898" stroke="#5560bb" stroke-width="0.5" opacity="0.6"/>
<circle cx="1517.7" cy="872.2" r="4" fill="url(#gPb)"/>
<path d="M1588.6 846.4 L1569.1 872.2 L1587.1 872.2 Z" fill="#4851b3" stroke="#4851b3" stroke-width="0.5"/>
<path d="M1588.6 846.4 L1608.1 872.2 L1587.1 872.2 Z" fill="#424bad" stroke="#424bad" stroke-width="0.5"/>
<path d="M1588.6 898 L1569.1 872.2 L1587.1 872.2 Z" fill="#3f49aa" stroke="#3f49aa" stroke-width="0.5"/>
<path d="M1588.6 898 L1608.1 872.2 L1587.1 872.2 Z" fill="#454fb0" stroke="#454fb0" stroke-width="0.5"/>
<path d="M1569.1 872.2 H1608.1" stroke="#6a74c8" stroke-width="0.6" opacity="0.8"/>
<path d="M1587.1 846.4 V898" stroke="#5560bb" stroke-width="0.5" opacity="0.6"/>
<circle cx="1588.6" cy="872.2" r="4" fill="url(#gPb)"/>
<path d="M1552.8 847 L1534 872.2 L1551.3 872.2 Z" fill="#3640a8" stroke="#3640a8" stroke-width="0.5"/>
<path d="M1552.8 847 L1571.6 872.2 L1551.3 872.2 Z" fill="#2f399f" stroke="#2f399f" stroke-width="0.5"/>
<path d="M1552.8 897.4 L1534 872.2 L1551.3 872.2 Z" fill="#323ca3" stroke="#323ca3" stroke-width="0.5"/>
<path d="M1552.8 897.4 L1571.6 872.2 L1551.3 872.2 Z" fill="#2b349a" stroke="#2b349a" stroke-width="0.5"/>
<path d="M1534 872.2 H1571.6" stroke="#6a74c8" stroke-width="0.6" opacity="0.8"/>
<path d="M1551.3 847 V897.4" stroke="#5560bb" stroke-width="0.5" opacity="0.6"/>
<circle cx="1552.8" cy="872.2" r="4" fill="url(#gPb)"/>
<circle cx="1495.3" cy="872.2" r="3.1" fill="url(#gI)"/>
<circle cx="1504.7" cy="872.2" r="3.1" fill="url(#gI)"/>
<circle cx="1531.5" cy="872.2" r="3.1" fill="url(#gI)"/>
<circle cx="1566.6" cy="872.2" r="3.1" fill="url(#gI)"/>
<circle cx="1575" cy="872.2" r="3.1" fill="url(#gI)"/>
<circle cx="1610.3" cy="872.2" r="3.1" fill="url(#gI)"/>
<circle cx="1518.3" cy="846.6" r="3.3" fill="url(#gI)"/>
<circle cx="1518" cy="897.6" r="3.3" fill="url(#gI)"/>
<circle cx="1553.1" cy="846.6" r="3.3" fill="url(#gI)"/>
<circle cx="1553" cy="897.6" r="3.3" fill="url(#gI)"/>
<circle cx="1589.2" cy="846.6" r="3.3" fill="url(#gI)"/>
<circle cx="1588.9" cy="897.6" r="3.3" fill="url(#gI)"/>
<path d="M1568 960.9 L1548.5 986.7 L1566.5 986.7 Z" fill="#4851b3" stroke="#4851b3" stroke-width="0.5"/>
<path d="M1568 960.9 L1587.5 986.7 L1566.5 986.7 Z" fill="#424bad" stroke="#424bad" stroke-width="0.5"/>
<path d="M1568 1012.5 L1548.5 986.7 L1566.5 986.7 Z" fill="#3f49aa" stroke="#3f49aa" stroke-width="0.5"/>
<path d="M1568 1012.5 L1587.5 986.7 L1566.5 986.7 Z" fill="#454fb0" stroke="#454fb0" stroke-width="0.5"/>
<path d="M1548.5 986.7 H1587.5" stroke="#6a74c8" stroke-width="0.6" opacity="0.8"/>
<path d="M1566.5 960.9 V1012.5" stroke="#5560bb" stroke-width="0.5" opacity="0.6"/>
<circle cx="1568" cy="986.7" r="4" fill="url(#gPb)"/>
<path d="M1533.2 961.5 L1514.4 986.7 L1531.7 986.7 Z" fill="#3640a8" stroke="#3640a8" stroke-width="0.5"/>
<path d="M1533.2 961.5 L1552 986.7 L1531.7 986.7 Z" fill="#2f399f" stroke="#2f399f" stroke-width="0.5"/>
<path d="M1533.2 1011.9 L1514.4 986.7 L1531.7 986.7 Z" fill="#323ca3" stroke="#323ca3" stroke-width="0.5"/>
<path d="M1533.2 1011.9 L1552 986.7 L1531.7 986.7 Z" fill="#2b349a" stroke="#2b349a" stroke-width="0.5"/>
<path d="M1514.4 986.7 H1552" stroke="#6a74c8" stroke-width="0.6" opacity="0.8"/>
<path d="M1531.7 961.5 V1011.9" stroke="#5560bb" stroke-width="0.5" opacity="0.6"/>
<circle cx="1533.2" cy="986.7" r="4" fill="url(#gPb)"/>
<path d="M1603.5 961.5 L1584.7 986.7 L1602 986.7 Z" fill="#3640a8" stroke="#3640a8" stroke-width="0.5"/>
<path d="M1603.5 961.5 L1622.3 986.7 L1602 986.7 Z" fill="#2f399f" stroke="#2f399f" stroke-width="0.5"/>
<path d="M1603.5 1011.9 L1584.7 986.7 L1602 986.7 Z" fill="#323ca3" stroke="#323ca3" stroke-width="0.5"/>
<path d="M1603.5 1011.9 L1622.3 986.7 L1602 986.7 Z" fill="#2b349a" stroke="#2b349a" stroke-width="0.5"/>
<path d="M1584.7 986.7 H1622.3" stroke="#6a74c8" stroke-width="0.6" opacity="0.8"/>
<path d="M1602 961.5 V1011.9" stroke="#5560bb" stroke-width="0.5" opacity="0.6"/>
<circle cx="1603.5" cy="986.7" r="4" fill="url(#gPb)"/>
<circle cx="1511.5" cy="986.7" r="3.1" fill="url(#gI)"/>
<circle cx="1546.7" cy="986.7" r="3.1" fill="url(#gI)"/>
<circle cx="1554" cy="986.7" r="3.1" fill="url(#gI)"/>
<circle cx="1581.5" cy="986.7" r="3.1" fill="url(#gI)"/>
<circle cx="1616.5" cy="986.7" r="3.1" fill="url(#gI)"/>
<circle cx="1625.2" cy="986.7" r="3.1" fill="url(#gI)"/>
<circle cx="1533.8" cy="961.1" r="3.3" fill="url(#gI)"/>
<circle cx="1533.5" cy="1012.1" r="3.3" fill="url(#gI)"/>
<circle cx="1568.3" cy="961.1" r="3.3" fill="url(#gI)"/>
<circle cx="1568.2" cy="1012.1" r="3.3" fill="url(#gI)"/>
<circle cx="1604.1" cy="961.1" r="3.3" fill="url(#gI)"/>
<circle cx="1603.8" cy="1012.1" r="3.3" fill="url(#gI)"/>
<path d="M1534.6 726.5 L1527.9 735.8" stroke="#9aa5dc" stroke-width="1.1"/>
<path d="M1527.9 735.8 L1525.1 738.2" stroke="#d5daf4" stroke-width="0.9"/>
<circle cx="1525.1" cy="738.2" r="1.3" fill="#f3ddd6" stroke="#e3c3ba" stroke-width="0.4"/>
<path d="M1527.9 735.8 L1524.4 734.5" stroke="#d5daf4" stroke-width="0.9"/>
<circle cx="1524.4" cy="734.5" r="1.3" fill="#f3ddd6" stroke="#e3c3ba" stroke-width="0.4"/>
<path d="M1527.9 735.8 L1527.6 732.1" stroke="#d5daf4" stroke-width="0.9"/>
<circle cx="1527.6" cy="732.1" r="1.3" fill="#f3ddd6" stroke="#e3c3ba" stroke-width="0.4"/>
<circle cx="1527.9" cy="735.8" r="1.75" fill="#e6e9fb" stroke="#8d99d6" stroke-width="0.8"/>
<path d="M1569.2 726.6 L1563 735.8" stroke="#9aa5dc" stroke-width="1.1"/>
<path d="M1563 735.8 L1560.2 738.2" stroke="#d5daf4" stroke-width="0.9"/>
<circle cx="1560.2" cy="738.2" r="1.3" fill="#f3ddd6" stroke="#e3c3ba" stroke-width="0.4"/>
<path d="M1563 735.8 L1559.5 734.5" stroke="#d5daf4" stroke-width="0.9"/>
<circle cx="1559.5" cy="734.5" r="1.3" fill="#f3ddd6" stroke="#e3c3ba" stroke-width="0.4"/>
<path d="M1563 735.8 L1562.7 732.1" stroke="#d5daf4" stroke-width="0.9"/>
<circle cx="1562.7" cy="732.1" r="1.3" fill="#f3ddd6" stroke="#e3c3ba" stroke-width="0.4"/>
<circle cx="1563" cy="735.8" r="1.75" fill="#e6e9fb" stroke="#8d99d6" stroke-width="0.8"/>
<path d="M1604.9 726.5 L1598.2 735.8" stroke="#9aa5dc" stroke-width="1.1"/>
<path d="M1598.2 735.8 L1595.4 738.2" stroke="#d5daf4" stroke-width="0.9"/>
<circle cx="1595.4" cy="738.2" r="1.3" fill="#f3ddd6" stroke="#e3c3ba" stroke-width="0.4"/>
<path d="M1598.2 735.8 L1594.7 734.5" stroke="#d5daf4" stroke-width="0.9"/>
<circle cx="1594.7" cy="734.5" r="1.3" fill="#f3ddd6" stroke="#e3c3ba" stroke-width="0.4"/>
<path d="M1598.2 735.8 L1597.9 732.1" stroke="#d5daf4" stroke-width="0.9"/>
<circle cx="1597.9" cy="732.1" r="1.3" fill="#f3ddd6" stroke="#e3c3ba" stroke-width="0.4"/>
<circle cx="1598.2" cy="735.8" r="1.75" fill="#e6e9fb" stroke="#8d99d6" stroke-width="0.8"/>
<path d="M1532.5 790.5 L1525.9 781.4" stroke="#9aa5dc" stroke-width="1.1"/>
<path d="M1525.9 781.4 L1523.1 779" stroke="#d5daf4" stroke-width="0.9"/>
<circle cx="1523.1" cy="779" r="1.3" fill="#f3ddd6" stroke="#e3c3ba" stroke-width="0.4"/>
<path d="M1525.9 781.4 L1522.4 782.7" stroke="#d5daf4" stroke-width="0.9"/>
<circle cx="1522.4" cy="782.7" r="1.3" fill="#f3ddd6" stroke="#e3c3ba" stroke-width="0.4"/>
<path d="M1525.9 781.4 L1525.6 785.1" stroke="#d5daf4" stroke-width="0.9"/>
<circle cx="1525.6" cy="785.1" r="1.3" fill="#f3ddd6" stroke="#e3c3ba" stroke-width="0.4"/>
<circle cx="1525.9" cy="781.4" r="1.75" fill="#e6e9fb" stroke="#8d99d6" stroke-width="0.8"/>
<path d="M1568.2 790.5 L1561 781.4" stroke="#9aa5dc" stroke-width="1.1"/>
<path d="M1561 781.4 L1558.2 779" stroke="#d5daf4" stroke-width="0.9"/>
<circle cx="1558.2" cy="779" r="1.3" fill="#f3ddd6" stroke="#e3c3ba" stroke-width="0.4"/>
<path d="M1561 781.4 L1557.5 782.7" stroke="#d5daf4" stroke-width="0.9"/>
<circle cx="1557.5" cy="782.7" r="1.3" fill="#f3ddd6" stroke="#e3c3ba" stroke-width="0.4"/>
<path d="M1561 781.4 L1560.7 785.1" stroke="#d5daf4" stroke-width="0.9"/>
<circle cx="1560.7" cy="785.1" r="1.3" fill="#f3ddd6" stroke="#e3c3ba" stroke-width="0.4"/>
<circle cx="1561" cy="781.4" r="1.75" fill="#e6e9fb" stroke="#8d99d6" stroke-width="0.8"/>
<path d="M1603 790.3 L1596.2 781.4" stroke="#9aa5dc" stroke-width="1.1"/>
<path d="M1596.2 781.4 L1593.4 779" stroke="#d5daf4" stroke-width="0.9"/>
<circle cx="1593.4" cy="779" r="1.3" fill="#f3ddd6" stroke="#e3c3ba" stroke-width="0.4"/>
<path d="M1596.2 781.4 L1592.7 782.7" stroke="#d5daf4" stroke-width="0.9"/>
<circle cx="1592.7" cy="782.7" r="1.3" fill="#f3ddd6" stroke="#e3c3ba" stroke-width="0.4"/>
<path d="M1596.2 781.4 L1595.9 785.1" stroke="#d5daf4" stroke-width="0.9"/>
<circle cx="1595.9" cy="785.1" r="1.3" fill="#f3ddd6" stroke="#e3c3ba" stroke-width="0.4"/>
<circle cx="1596.2" cy="781.4" r="1.75" fill="#e6e9fb" stroke="#8d99d6" stroke-width="0.8"/>
<path d="M1518.6 840.5 L1511.2 849.4" stroke="#9aa5dc" stroke-width="1.1"/>
<path d="M1511.2 849.4 L1508.4 851.8" stroke="#d5daf4" stroke-width="0.9"/>
<circle cx="1508.4" cy="851.8" r="1.3" fill="#f3ddd6" stroke="#e3c3ba" stroke-width="0.4"/>
<path d="M1511.2 849.4 L1507.7 848.1" stroke="#d5daf4" stroke-width="0.9"/>
<circle cx="1507.7" cy="848.1" r="1.3" fill="#f3ddd6" stroke="#e3c3ba" stroke-width="0.4"/>
<path d="M1511.2 849.4 L1510.9 845.7" stroke="#d5daf4" stroke-width="0.9"/>
<circle cx="1510.9" cy="845.7" r="1.3" fill="#f3ddd6" stroke="#e3c3ba" stroke-width="0.4"/>
<circle cx="1511.2" cy="849.4" r="1.75" fill="#e6e9fb" stroke="#8d99d6" stroke-width="0.8"/>
<path d="M1553.2 840.2 L1546.3 849.4" stroke="#9aa5dc" stroke-width="1.1"/>
<path d="M1546.3 849.4 L1543.5 851.8" stroke="#d5daf4" stroke-width="0.9"/>
<circle cx="1543.5" cy="851.8" r="1.3" fill="#f3ddd6" stroke="#e3c3ba" stroke-width="0.4"/>
<path d="M1546.3 849.4 L1542.8 848.1" stroke="#d5daf4" stroke-width="0.9"/>
<circle cx="1542.8" cy="848.1" r="1.3" fill="#f3ddd6" stroke="#e3c3ba" stroke-width="0.4"/>
<path d="M1546.3 849.4 L1546 845.7" stroke="#d5daf4" stroke-width="0.9"/>
<circle cx="1546" cy="845.7" r="1.3" fill="#f3ddd6" stroke="#e3c3ba" stroke-width="0.4"/>
<circle cx="1546.3" cy="849.4" r="1.75" fill="#e6e9fb" stroke="#8d99d6" stroke-width="0.8"/>
<path d="M1589.4 840.5 L1582.1 849.4" stroke="#9aa5dc" stroke-width="1.1"/>
<path d="M1582.1 849.4 L1579.3 851.8" stroke="#d5daf4" stroke-width="0.9"/>
<circle cx="1579.3" cy="851.8" r="1.3" fill="#f3ddd6" stroke="#e3c3ba" stroke-width="0.4"/>
<path d="M1582.1 849.4 L1578.6 848.1" stroke="#d5daf4" stroke-width="0.9"/>
<circle cx="1578.6" cy="848.1" r="1.3" fill="#f3ddd6" stroke="#e3c3ba" stroke-width="0.4"/>
<path d="M1582.1 849.4 L1581.8 845.7" stroke="#d5daf4" stroke-width="0.9"/>
<circle cx="1581.8" cy="845.7" r="1.3" fill="#f3ddd6" stroke="#e3c3ba" stroke-width="0.4"/>
<circle cx="1582.1" cy="849.4" r="1.75" fill="#e6e9fb" stroke="#8d99d6" stroke-width="0.8"/>
<path d="M1517.3 903.9 L1510.2 895" stroke="#9aa5dc" stroke-width="1.1"/>
<path d="M1510.2 895 L1507.4 892.6" stroke="#d5daf4" stroke-width="0.9"/>
<circle cx="1507.4" cy="892.6" r="1.3" fill="#f3ddd6" stroke="#e3c3ba" stroke-width="0.4"/>
<path d="M1510.2 895 L1506.7 896.3" stroke="#d5daf4" stroke-width="0.9"/>
<circle cx="1506.7" cy="896.3" r="1.3" fill="#f3ddd6" stroke="#e3c3ba" stroke-width="0.4"/>
<path d="M1510.2 895 L1509.9 898.7" stroke="#d5daf4" stroke-width="0.9"/>
<circle cx="1509.9" cy="898.7" r="1.3" fill="#f3ddd6" stroke="#e3c3ba" stroke-width="0.4"/>
<circle cx="1510.2" cy="895" r="1.75" fill="#e6e9fb" stroke="#8d99d6" stroke-width="0.8"/>
<path d="M1552.9 903.9 L1545.3 895" stroke="#9aa5dc" stroke-width="1.1"/>
<path d="M1545.3 895 L1542.5 892.6" stroke="#d5daf4" stroke-width="0.9"/>
<circle cx="1542.5" cy="892.6" r="1.3" fill="#f3ddd6" stroke="#e3c3ba" stroke-width="0.4"/>
<path d="M1545.3 895 L1541.8 896.3" stroke="#d5daf4" stroke-width="0.9"/>
<circle cx="1541.8" cy="896.3" r="1.3" fill="#f3ddd6" stroke="#e3c3ba" stroke-width="0.4"/>
<path d="M1545.3 895 L1545 898.7" stroke="#d5daf4" stroke-width="0.9"/>
<circle cx="1545" cy="898.7" r="1.3" fill="#f3ddd6" stroke="#e3c3ba" stroke-width="0.4"/>
<circle cx="1545.3" cy="895" r="1.75" fill="#e6e9fb" stroke="#8d99d6" stroke-width="0.8"/>
<path d="M1588.1 903.7 L1581.1 895" stroke="#9aa5dc" stroke-width="1.1"/>
<path d="M1581.1 895 L1578.3 892.6" stroke="#d5daf4" stroke-width="0.9"/>
<circle cx="1578.3" cy="892.6" r="1.3" fill="#f3ddd6" stroke="#e3c3ba" stroke-width="0.4"/>
<path d="M1581.1 895 L1577.6 896.3" stroke="#d5daf4" stroke-width="0.9"/>
<circle cx="1577.6" cy="896.3" r="1.3" fill="#f3ddd6" stroke="#e3c3ba" stroke-width="0.4"/>
<path d="M1581.1 895 L1580.8 898.7" stroke="#d5daf4" stroke-width="0.9"/>
<circle cx="1580.8" cy="898.7" r="1.3" fill="#f3ddd6" stroke="#e3c3ba" stroke-width="0.4"/>
<circle cx="1581.1" cy="895" r="1.75" fill="#e6e9fb" stroke="#8d99d6" stroke-width="0.8"/>
<path d="M1533.7 954.7 L1526.7 963.9" stroke="#9aa5dc" stroke-width="1.1"/>
<path d="M1526.7 963.9 L1523.9 966.3" stroke="#d5daf4" stroke-width="0.9"/>
<circle cx="1523.9" cy="966.3" r="1.3" fill="#f3ddd6" stroke="#e3c3ba" stroke-width="0.4"/>
<path d="M1526.7 963.9 L1523.2 962.6" stroke="#d5daf4" stroke-width="0.9"/>
<circle cx="1523.2" cy="962.6" r="1.3" fill="#f3ddd6" stroke="#e3c3ba" stroke-width="0.4"/>
<path d="M1526.7 963.9 L1526.4 960.2" stroke="#d5daf4" stroke-width="0.9"/>
<circle cx="1526.4" cy="960.2" r="1.3" fill="#f3ddd6" stroke="#e3c3ba" stroke-width="0.4"/>
<circle cx="1526.7" cy="963.9" r="1.75" fill="#e6e9fb" stroke="#8d99d6" stroke-width="0.8"/>
<path d="M1568.3 954.9 L1561.5 963.9" stroke="#9aa5dc" stroke-width="1.1"/>
<path d="M1561.5 963.9 L1558.7 966.3" stroke="#d5daf4" stroke-width="0.9"/>
<circle cx="1558.7" cy="966.3" r="1.3" fill="#f3ddd6" stroke="#e3c3ba" stroke-width="0.4"/>
<path d="M1561.5 963.9 L1558 962.6" stroke="#d5daf4" stroke-width="0.9"/>
<circle cx="1558" cy="962.6" r="1.3" fill="#f3ddd6" stroke="#e3c3ba" stroke-width="0.4"/>
<path d="M1561.5 963.9 L1561.2 960.2" stroke="#d5daf4" stroke-width="0.9"/>
<circle cx="1561.2" cy="960.2" r="1.3" fill="#f3ddd6" stroke="#e3c3ba" stroke-width="0.4"/>
<circle cx="1561.5" cy="963.9" r="1.75" fill="#e6e9fb" stroke="#8d99d6" stroke-width="0.8"/>
<path d="M1604 954.7 L1597 963.9" stroke="#9aa5dc" stroke-width="1.1"/>
<path d="M1597 963.9 L1594.2 966.3" stroke="#d5daf4" stroke-width="0.9"/>
<circle cx="1594.2" cy="966.3" r="1.3" fill="#f3ddd6" stroke="#e3c3ba" stroke-width="0.4"/>
<path d="M1597 963.9 L1593.5 962.6" stroke="#d5daf4" stroke-width="0.9"/>
<circle cx="1593.5" cy="962.6" r="1.3" fill="#f3ddd6" stroke="#e3c3ba" stroke-width="0.4"/>
<path d="M1597 963.9 L1596.7 960.2" stroke="#d5daf4" stroke-width="0.9"/>
<circle cx="1596.7" cy="960.2" r="1.3" fill="#f3ddd6" stroke="#e3c3ba" stroke-width="0.4"/>
<circle cx="1597" cy="963.9" r="1.75" fill="#e6e9fb" stroke="#8d99d6" stroke-width="0.8"/>
<path d="M1532.4 1018.9 L1525.7 1009.5" stroke="#9aa5dc" stroke-width="1.1"/>
<path d="M1525.7 1009.5 L1522.9 1007.1" stroke="#d5daf4" stroke-width="0.9"/>
<circle cx="1522.9" cy="1007.1" r="1.3" fill="#f3ddd6" stroke="#e3c3ba" stroke-width="0.4"/>
<path d="M1525.7 1009.5 L1522.2 1010.8" stroke="#d5daf4" stroke-width="0.9"/>
<circle cx="1522.2" cy="1010.8" r="1.3" fill="#f3ddd6" stroke="#e3c3ba" stroke-width="0.4"/>
<path d="M1525.7 1009.5 L1525.4 1013.2" stroke="#d5daf4" stroke-width="0.9"/>
<circle cx="1525.4" cy="1013.2" r="1.3" fill="#f3ddd6" stroke="#e3c3ba" stroke-width="0.4"/>
<circle cx="1525.7" cy="1009.5" r="1.75" fill="#e6e9fb" stroke="#8d99d6" stroke-width="0.8"/>
<path d="M1567.3 1018.9 L1560.5 1009.5" stroke="#9aa5dc" stroke-width="1.1"/>
<path d="M1560.5 1009.5 L1557.7 1007.1" stroke="#d5daf4" stroke-width="0.9"/>
<circle cx="1557.7" cy="1007.1" r="1.3" fill="#f3ddd6" stroke="#e3c3ba" stroke-width="0.4"/>
<path d="M1560.5 1009.5 L1557 1010.8" stroke="#d5daf4" stroke-width="0.9"/>
<circle cx="1557" cy="1010.8" r="1.3" fill="#f3ddd6" stroke="#e3c3ba" stroke-width="0.4"/>
<path d="M1560.5 1009.5 L1560.2 1013.2" stroke="#d5daf4" stroke-width="0.9"/>
<circle cx="1560.2" cy="1013.2" r="1.3" fill="#f3ddd6" stroke="#e3c3ba" stroke-width="0.4"/>
<circle cx="1560.5" cy="1009.5" r="1.75" fill="#e6e9fb" stroke="#8d99d6" stroke-width="0.8"/>
<path d="M1602.7 1018.9 L1596 1009.5" stroke="#9aa5dc" stroke-width="1.1"/>
<path d="M1596 1009.5 L1593.2 1007.1" stroke="#d5daf4" stroke-width="0.9"/>
<circle cx="1593.2" cy="1007.1" r="1.3" fill="#f3ddd6" stroke="#e3c3ba" stroke-width="0.4"/>
<path d="M1596 1009.5 L1592.5 1010.8" stroke="#d5daf4" stroke-width="0.9"/>
<circle cx="1592.5" cy="1010.8" r="1.3" fill="#f3ddd6" stroke="#e3c3ba" stroke-width="0.4"/>
<path d="M1596 1009.5 L1595.7 1013.2" stroke="#d5daf4" stroke-width="0.9"/>
<circle cx="1595.7" cy="1013.2" r="1.3" fill="#f3ddd6" stroke="#e3c3ba" stroke-width="0.4"/>
<circle cx="1596" cy="1009.5" r="1.75" fill="#e6e9fb" stroke="#8d99d6" stroke-width="0.8"/>
<path d="M1723.7 696.5 L1714 700.7 L1712.5 711.6 L1720.7 718.3 L1730.4 714.1 L1731.9 703.2 Z M1720.7 718.3 L1718.1 726.7 M1718.1 726.7 L1713.1 725.3 M1723.7 696.5 L1724.3 692.1 M1714 700.7 L1710.6 697.9 M1712.5 711.6 L1708.5 713.3 M1730.4 714.1 L1733.8 716.9 M1731.9 703.2 L1735.9 701.5 M1713.1 725.3 L1711.2 728 M1713.1 725.3 L1709.8 725 M1713.1 725.3 L1711.7 722.3" fill="none" stroke="#73431a" stroke-width="1.7" stroke-linejoin="round" stroke-linecap="round"/>
<circle cx="1723.7" cy="696.5" r="1.6" fill="#c69a70" stroke="#73431a" stroke-width="1.0"/>
<circle cx="1714" cy="700.7" r="1.6" fill="#c69a70" stroke="#73431a" stroke-width="1.0"/>
<circle cx="1712.5" cy="711.6" r="1.6" fill="#c69a70" stroke="#73431a" stroke-width="1.0"/>
<circle cx="1720.7" cy="718.3" r="1.6" fill="#c69a70" stroke="#73431a" stroke-width="1.0"/>
<circle cx="1730.4" cy="714.1" r="1.6" fill="#c69a70" stroke="#73431a" stroke-width="1.0"/>
<circle cx="1731.9" cy="703.2" r="1.6" fill="#c69a70" stroke="#73431a" stroke-width="1.0"/>
<circle cx="1718.1" cy="726.7" r="1.6" fill="#c69a70" stroke="#73431a" stroke-width="1.0"/>
<circle cx="1713.1" cy="725.3" r="1.6" fill="#c69a70" stroke="#73431a" stroke-width="1.0"/>
<circle cx="1724.3" cy="692.1" r="1.35" fill="#f3ddd6" stroke="#e3c3ba" stroke-width="0.4"/>
<circle cx="1710.6" cy="697.9" r="1.35" fill="#f3ddd6" stroke="#e3c3ba" stroke-width="0.4"/>
<circle cx="1708.5" cy="713.3" r="1.35" fill="#f3ddd6" stroke="#e3c3ba" stroke-width="0.4"/>
<circle cx="1733.8" cy="716.9" r="1.35" fill="#f3ddd6" stroke="#e3c3ba" stroke-width="0.4"/>
<circle cx="1735.9" cy="701.5" r="1.35" fill="#f3ddd6" stroke="#e3c3ba" stroke-width="0.4"/>
<circle cx="1711.2" cy="728" r="1.35" fill="#f3ddd6" stroke="#e3c3ba" stroke-width="0.4"/>
<circle cx="1709.8" cy="725" r="1.35" fill="#f3ddd6" stroke="#e3c3ba" stroke-width="0.4"/>
<circle cx="1711.7" cy="722.3" r="1.35" fill="#f3ddd6" stroke="#e3c3ba" stroke-width="0.4"/>
<path d="M1755.9 695.4 L1746.7 700.6 L1746.3 711.6 L1755.1 717.4 L1764.3 712.2 L1764.7 701.2 Z M1755.1 717.4 L1753.1 726.5 M1753.1 726.5 L1748.1 725.1 M1755.9 695.4 L1756 691 M1746.7 700.6 L1743 698.2 M1746.3 711.6 L1742.5 713.7 M1764.3 712.2 L1768 714.6 M1764.7 701.2 L1768.5 699.1 M1748.1 725.1 L1746.2 727.8 M1748.1 725.1 L1744.8 724.8 M1748.1 725.1 L1746.7 722.1" fill="none" stroke="#73431a" stroke-width="1.7" stroke-linejoin="round" stroke-linecap="round"/>
<circle cx="1755.9" cy="695.4" r="1.6" fill="#c69a70" stroke="#73431a" stroke-width="1.0"/>
<circle cx="1746.7" cy="700.6" r="1.6" fill="#c69a70" stroke="#73431a" stroke-width="1.0"/>
<circle cx="1746.3" cy="711.6" r="1.6" fill="#c69a70" stroke="#73431a" stroke-width="1.0"/>
<circle cx="1755.1" cy="717.4" r="1.6" fill="#c69a70" stroke="#73431a" stroke-width="1.0"/>
<circle cx="1764.3" cy="712.2" r="1.6" fill="#c69a70" stroke="#73431a" stroke-width="1.0"/>
<circle cx="1764.7" cy="701.2" r="1.6" fill="#c69a70" stroke="#73431a" stroke-width="1.0"/>
<circle cx="1753.1" cy="726.5" r="1.6" fill="#c69a70" stroke="#73431a" stroke-width="1.0"/>
<circle cx="1748.1" cy="725.1" r="1.6" fill="#c69a70" stroke="#73431a" stroke-width="1.0"/>
<circle cx="1756" cy="691" r="1.35" fill="#f3ddd6" stroke="#e3c3ba" stroke-width="0.4"/>
<circle cx="1743" cy="698.2" r="1.35" fill="#f3ddd6" stroke="#e3c3ba" stroke-width="0.4"/>
<circle cx="1742.5" cy="713.7" r="1.35" fill="#f3ddd6" stroke="#e3c3ba" stroke-width="0.4"/>
<circle cx="1768" cy="714.6" r="1.35" fill="#f3ddd6" stroke="#e3c3ba" stroke-width="0.4"/>
<circle cx="1768.5" cy="699.1" r="1.35" fill="#f3ddd6" stroke="#e3c3ba" stroke-width="0.4"/>
<circle cx="1746.2" cy="727.8" r="1.35" fill="#f3ddd6" stroke="#e3c3ba" stroke-width="0.4"/>
<circle cx="1744.8" cy="724.8" r="1.35" fill="#f3ddd6" stroke="#e3c3ba" stroke-width="0.4"/>
<circle cx="1746.7" cy="722.1" r="1.35" fill="#f3ddd6" stroke="#e3c3ba" stroke-width="0.4"/>
<path d="M1794.1 695.9 L1784.4 700 L1782.6 710.8 L1790.7 717.7 L1800.4 713.6 L1802.2 702.8 Z M1790.7 717.7 L1788.3 726.6 M1788.3 726.6 L1783.3 725.2 M1794.1 695.9 L1794.8 691.6 M1784.4 700 L1781 697.1 M1782.6 710.8 L1778.6 712.5 M1800.4 713.6 L1803.8 716.5 M1802.2 702.8 L1806.2 701.1 M1783.3 725.2 L1781.4 727.9 M1783.3 725.2 L1780 724.9 M1783.3 725.2 L1781.9 722.2" fill="none" stroke="#73431a" stroke-width="1.7" stroke-linejoin="round" stroke-linecap="round"/>
<circle cx="1794.1" cy="695.9" r="1.6" fill="#c69a70" stroke="#73431a" stroke-width="1.0"/>
<circle cx="1784.4" cy="700" r="1.6" fill="#c69a70" stroke="#73431a" stroke-width="1.0"/>
<circle cx="1782.6" cy="710.8" r="1.6" fill="#c69a70" stroke="#73431a" stroke-width="1.0"/>
<circle cx="1790.7" cy="717.7" r="1.6" fill="#c69a70" stroke="#73431a" stroke-width="1.0"/>
<circle cx="1800.4" cy="713.6" r="1.6" fill="#c69a70" stroke="#73431a" stroke-width="1.0"/>
<circle cx="1802.2" cy="702.8" r="1.6" fill="#c69a70" stroke="#73431a" stroke-width="1.0"/>
<circle cx="1788.3" cy="726.6" r="1.6" fill="#c69a70" stroke="#73431a" stroke-width="1.0"/>
<circle cx="1783.3" cy="725.2" r="1.6" fill="#c69a70" stroke="#73431a" stroke-width="1.0"/>
<circle cx="1794.8" cy="691.6" r="1.35" fill="#f3ddd6" stroke="#e3c3ba" stroke-width="0.4"/>
<circle cx="1781" cy="697.1" r="1.35" fill="#f3ddd6" stroke="#e3c3ba" stroke-width="0.4"/>
<circle cx="1778.6" cy="712.5" r="1.35" fill="#f3ddd6" stroke="#e3c3ba" stroke-width="0.4"/>
<circle cx="1803.8" cy="716.5" r="1.35" fill="#f3ddd6" stroke="#e3c3ba" stroke-width="0.4"/>
<circle cx="1806.2" cy="701.1" r="1.35" fill="#f3ddd6" stroke="#e3c3ba" stroke-width="0.4"/>
<circle cx="1781.4" cy="727.9" r="1.35" fill="#f3ddd6" stroke="#e3c3ba" stroke-width="0.4"/>
<circle cx="1780" cy="724.9" r="1.35" fill="#f3ddd6" stroke="#e3c3ba" stroke-width="0.4"/>
<circle cx="1781.9" cy="722.2" r="1.35" fill="#f3ddd6" stroke="#e3c3ba" stroke-width="0.4"/>
<path d="M1718.9 798.9 L1711.2 804.3 L1711.9 814 L1720.3 818.3 L1728 812.9 L1727.3 803.2 Z M1718.9 798.9 L1719.4 790.8 M1719.4 790.8 L1714.4 792.2 M1711.2 804.3 L1707.3 802.3 M1711.9 814 L1708.3 816.5 M1720.3 818.3 L1720.6 822.7 M1728 812.9 L1731.9 814.9 M1727.3 803.2 L1730.9 800.7 M1714.4 792.2 L1712.5 789.5 M1714.4 792.2 L1711.1 792.5 M1714.4 792.2 L1713 795.2" fill="none" stroke="#73431a" stroke-width="1.7" stroke-linejoin="round" stroke-linecap="round"/>
<circle cx="1718.9" cy="798.9" r="1.6" fill="#c69a70" stroke="#73431a" stroke-width="1.0"/>
<circle cx="1711.2" cy="804.3" r="1.6" fill="#c69a70" stroke="#73431a" stroke-width="1.0"/>
<circle cx="1711.9" cy="814" r="1.6" fill="#c69a70" stroke="#73431a" stroke-width="1.0"/>
<circle cx="1720.3" cy="818.3" r="1.6" fill="#c69a70" stroke="#73431a" stroke-width="1.0"/>
<circle cx="1728" cy="812.9" r="1.6" fill="#c69a70" stroke="#73431a" stroke-width="1.0"/>
<circle cx="1727.3" cy="803.2" r="1.6" fill="#c69a70" stroke="#73431a" stroke-width="1.0"/>
<circle cx="1719.4" cy="790.8" r="1.6" fill="#c69a70" stroke="#73431a" stroke-width="1.0"/>
<circle cx="1714.4" cy="792.2" r="1.6" fill="#c69a70" stroke="#73431a" stroke-width="1.0"/>
<circle cx="1707.3" cy="802.3" r="1.35" fill="#f3ddd6" stroke="#e3c3ba" stroke-width="0.4"/>
<circle cx="1708.3" cy="816.5" r="1.35" fill="#f3ddd6" stroke="#e3c3ba" stroke-width="0.4"/>
<circle cx="1720.6" cy="822.7" r="1.35" fill="#f3ddd6" stroke="#e3c3ba" stroke-width="0.4"/>
<circle cx="1731.9" cy="814.9" r="1.35" fill="#f3ddd6" stroke="#e3c3ba" stroke-width="0.4"/>
<circle cx="1730.9" cy="800.7" r="1.35" fill="#f3ddd6" stroke="#e3c3ba" stroke-width="0.4"/>
<circle cx="1712.5" cy="789.5" r="1.35" fill="#f3ddd6" stroke="#e3c3ba" stroke-width="0.4"/>
<circle cx="1711.1" cy="792.5" r="1.35" fill="#f3ddd6" stroke="#e3c3ba" stroke-width="0.4"/>
<circle cx="1713" cy="795.2" r="1.35" fill="#f3ddd6" stroke="#e3c3ba" stroke-width="0.4"/>
<path d="M1756.8 798 L1749.3 803.6 L1750.3 813.3 L1758.8 817.2 L1766.3 811.6 L1765.3 801.9 Z M1756.8 798 L1755 790.6 M1755 790.6 L1750 792 M1749.3 803.6 L1745.3 801.8 M1750.3 813.3 L1746.8 815.9 M1758.8 817.2 L1759.3 821.6 M1766.3 811.6 L1770.3 813.4 M1765.3 801.9 L1768.8 799.3 M1750 792 L1748.1 789.3 M1750 792 L1746.7 792.3 M1750 792 L1748.6 795" fill="none" stroke="#73431a" stroke-width="1.7" stroke-linejoin="round" stroke-linecap="round"/>
<circle cx="1756.8" cy="798" r="1.6" fill="#c69a70" stroke="#73431a" stroke-width="1.0"/>
<circle cx="1749.3" cy="803.6" r="1.6" fill="#c69a70" stroke="#73431a" stroke-width="1.0"/>
<circle cx="1750.3" cy="813.3" r="1.6" fill="#c69a70" stroke="#73431a" stroke-width="1.0"/>
<circle cx="1758.8" cy="817.2" r="1.6" fill="#c69a70" stroke="#73431a" stroke-width="1.0"/>
<circle cx="1766.3" cy="811.6" r="1.6" fill="#c69a70" stroke="#73431a" stroke-width="1.0"/>
<circle cx="1765.3" cy="801.9" r="1.6" fill="#c69a70" stroke="#73431a" stroke-width="1.0"/>
<circle cx="1755" cy="790.6" r="1.6" fill="#c69a70" stroke="#73431a" stroke-width="1.0"/>
<circle cx="1750" cy="792" r="1.6" fill="#c69a70" stroke="#73431a" stroke-width="1.0"/>
<circle cx="1745.3" cy="801.8" r="1.35" fill="#f3ddd6" stroke="#e3c3ba" stroke-width="0.4"/>
<circle cx="1746.8" cy="815.9" r="1.35" fill="#f3ddd6" stroke="#e3c3ba" stroke-width="0.4"/>
<circle cx="1759.3" cy="821.6" r="1.35" fill="#f3ddd6" stroke="#e3c3ba" stroke-width="0.4"/>
<circle cx="1770.3" cy="813.4" r="1.35" fill="#f3ddd6" stroke="#e3c3ba" stroke-width="0.4"/>
<circle cx="1768.8" cy="799.3" r="1.35" fill="#f3ddd6" stroke="#e3c3ba" stroke-width="0.4"/>
<circle cx="1748.1" cy="789.3" r="1.35" fill="#f3ddd6" stroke="#e3c3ba" stroke-width="0.4"/>
<circle cx="1746.7" cy="792.3" r="1.35" fill="#f3ddd6" stroke="#e3c3ba" stroke-width="0.4"/>
<circle cx="1748.6" cy="795" r="1.35" fill="#f3ddd6" stroke="#e3c3ba" stroke-width="0.4"/>
<path d="M1789.1 798.9 L1781.4 804.3 L1782.1 814 L1790.5 818.3 L1798.2 812.9 L1797.5 803.2 Z M1789.1 798.9 L1789.6 790.8 M1789.6 790.8 L1784.6 792.2 M1781.4 804.3 L1777.5 802.3 M1782.1 814 L1778.5 816.5 M1790.5 818.3 L1790.8 822.7 M1798.2 812.9 L1802.1 814.9 M1797.5 803.2 L1801.1 800.7 M1784.6 792.2 L1782.7 789.5 M1784.6 792.2 L1781.3 792.5 M1784.6 792.2 L1783.2 795.2" fill="none" stroke="#73431a" stroke-width="1.7" stroke-linejoin="round" stroke-linecap="round"/>
<circle cx="1789.1" cy="798.9" r="1.6" fill="#c69a70" stroke="#73431a" stroke-width="1.0"/>
<circle cx="1781.4" cy="804.3" r="1.6" fill="#c69a70" stroke="#73431a" stroke-width="1.0"/>
<circle cx="1782.1" cy="814" r="1.6" fill="#c69a70" stroke="#73431a" stroke-width="1.0"/>
<circle cx="1790.5" cy="818.3" r="1.6" fill="#c69a70" stroke="#73431a" stroke-width="1.0"/>
<circle cx="1798.2" cy="812.9" r="1.6" fill="#c69a70" stroke="#73431a" stroke-width="1.0"/>
<circle cx="1797.5" cy="803.2" r="1.6" fill="#c69a70" stroke="#73431a" stroke-width="1.0"/>
<circle cx="1789.6" cy="790.8" r="1.6" fill="#c69a70" stroke="#73431a" stroke-width="1.0"/>
<circle cx="1784.6" cy="792.2" r="1.6" fill="#c69a70" stroke="#73431a" stroke-width="1.0"/>
<circle cx="1777.5" cy="802.3" r="1.35" fill="#f3ddd6" stroke="#e3c3ba" stroke-width="0.4"/>
<circle cx="1778.5" cy="816.5" r="1.35" fill="#f3ddd6" stroke="#e3c3ba" stroke-width="0.4"/>
<circle cx="1790.8" cy="822.7" r="1.35" fill="#f3ddd6" stroke="#e3c3ba" stroke-width="0.4"/>
<circle cx="1802.1" cy="814.9" r="1.35" fill="#f3ddd6" stroke="#e3c3ba" stroke-width="0.4"/>
<circle cx="1801.1" cy="800.7" r="1.35" fill="#f3ddd6" stroke="#e3c3ba" stroke-width="0.4"/>
<circle cx="1782.7" cy="789.5" r="1.35" fill="#f3ddd6" stroke="#e3c3ba" stroke-width="0.4"/>
<circle cx="1781.3" cy="792.5" r="1.35" fill="#f3ddd6" stroke="#e3c3ba" stroke-width="0.4"/>
<circle cx="1783.2" cy="795.2" r="1.35" fill="#f3ddd6" stroke="#e3c3ba" stroke-width="0.4"/>
<path d="M1733.1 811.9 L1725.3 817.2 L1725.8 826.9 L1734.1 831.3 L1741.9 826 L1741.4 816.3 Z M1734.1 831.3 L1733.9 840 M1733.9 840 L1728.9 838.6 M1733.1 811.9 L1732.9 807.5 M1725.3 817.2 L1721.4 815.1 M1725.8 826.9 L1722.2 829.3 M1741.9 826 L1745.8 828.1 M1741.4 816.3 L1745 813.9 M1728.9 838.6 L1727 841.3 M1728.9 838.6 L1725.6 838.3 M1728.9 838.6 L1727.5 835.6" fill="none" stroke="#73431a" stroke-width="1.7" stroke-linejoin="round" stroke-linecap="round"/>
<circle cx="1733.1" cy="811.9" r="1.6" fill="#c69a70" stroke="#73431a" stroke-width="1.0"/>
<circle cx="1725.3" cy="817.2" r="1.6" fill="#c69a70" stroke="#73431a" stroke-width="1.0"/>
<circle cx="1725.8" cy="826.9" r="1.6" fill="#c69a70" stroke="#73431a" stroke-width="1.0"/>
<circle cx="1734.1" cy="831.3" r="1.6" fill="#c69a70" stroke="#73431a" stroke-width="1.0"/>
<circle cx="1741.9" cy="826" r="1.6" fill="#c69a70" stroke="#73431a" stroke-width="1.0"/>
<circle cx="1741.4" cy="816.3" r="1.6" fill="#c69a70" stroke="#73431a" stroke-width="1.0"/>
<circle cx="1733.9" cy="840" r="1.6" fill="#c69a70" stroke="#73431a" stroke-width="1.0"/>
<circle cx="1728.9" cy="838.6" r="1.6" fill="#c69a70" stroke="#73431a" stroke-width="1.0"/>
<circle cx="1732.9" cy="807.5" r="1.35" fill="#f3ddd6" stroke="#e3c3ba" stroke-width="0.4"/>
<circle cx="1721.4" cy="815.1" r="1.35" fill="#f3ddd6" stroke="#e3c3ba" stroke-width="0.4"/>
<circle cx="1722.2" cy="829.3" r="1.35" fill="#f3ddd6" stroke="#e3c3ba" stroke-width="0.4"/>
<circle cx="1745.8" cy="828.1" r="1.35" fill="#f3ddd6" stroke="#e3c3ba" stroke-width="0.4"/>
<circle cx="1745" cy="813.9" r="1.35" fill="#f3ddd6" stroke="#e3c3ba" stroke-width="0.4"/>
<circle cx="1727" cy="841.3" r="1.35" fill="#f3ddd6" stroke="#e3c3ba" stroke-width="0.4"/>
<circle cx="1725.6" cy="838.3" r="1.35" fill="#f3ddd6" stroke="#e3c3ba" stroke-width="0.4"/>
<circle cx="1727.5" cy="835.6" r="1.35" fill="#f3ddd6" stroke="#e3c3ba" stroke-width="0.4"/>
<path d="M1767 813.6 L1759.5 819.2 L1760.5 828.9 L1769 832.8 L1776.5 827.2 L1775.5 817.5 Z M1769 832.8 L1768.9 840.3 M1768.9 840.3 L1763.9 838.9 M1767 813.6 L1766.5 809.2 M1759.5 819.2 L1755.5 817.4 M1760.5 828.9 L1757 831.5 M1776.5 827.2 L1780.5 829 M1775.5 817.5 L1779 814.9 M1763.9 838.9 L1762 841.6 M1763.9 838.9 L1760.6 838.6 M1763.9 838.9 L1762.5 835.9" fill="none" stroke="#73431a" stroke-width="1.7" stroke-linejoin="round" stroke-linecap="round"/>
<circle cx="1767" cy="813.6" r="1.6" fill="#c69a70" stroke="#73431a" stroke-width="1.0"/>
<circle cx="1759.5" cy="819.2" r="1.6" fill="#c69a70" stroke="#73431a" stroke-width="1.0"/>
<circle cx="1760.5" cy="828.9" r="1.6" fill="#c69a70" stroke="#73431a" stroke-width="1.0"/>
<circle cx="1769" cy="832.8" r="1.6" fill="#c69a70" stroke="#73431a" stroke-width="1.0"/>
<circle cx="1776.5" cy="827.2" r="1.6" fill="#c69a70" stroke="#73431a" stroke-width="1.0"/>
<circle cx="1775.5" cy="817.5" r="1.6" fill="#c69a70" stroke="#73431a" stroke-width="1.0"/>
<circle cx="1768.9" cy="840.3" r="1.6" fill="#c69a70" stroke="#73431a" stroke-width="1.0"/>
<circle cx="1763.9" cy="838.9" r="1.6" fill="#c69a70" stroke="#73431a" stroke-width="1.0"/>
<circle cx="1766.5" cy="809.2" r="1.35" fill="#f3ddd6" stroke="#e3c3ba" stroke-width="0.4"/>
<circle cx="1755.5" cy="817.4" r="1.35" fill="#f3ddd6" stroke="#e3c3ba" stroke-width="0.4"/>
<circle cx="1757" cy="831.5" r="1.35" fill="#f3ddd6" stroke="#e3c3ba" stroke-width="0.4"/>
<circle cx="1780.5" cy="829" r="1.35" fill="#f3ddd6" stroke="#e3c3ba" stroke-width="0.4"/>
<circle cx="1779" cy="814.9" r="1.35" fill="#f3ddd6" stroke="#e3c3ba" stroke-width="0.4"/>
<circle cx="1762" cy="841.6" r="1.35" fill="#f3ddd6" stroke="#e3c3ba" stroke-width="0.4"/>
<circle cx="1760.6" cy="838.6" r="1.35" fill="#f3ddd6" stroke="#e3c3ba" stroke-width="0.4"/>
<circle cx="1762.5" cy="835.9" r="1.35" fill="#f3ddd6" stroke="#e3c3ba" stroke-width="0.4"/>
<path d="M1804 811.9 L1796.2 817.2 L1796.7 826.9 L1805 831.3 L1812.8 826 L1812.3 816.3 Z M1805 831.3 L1804.2 840 M1804.2 840 L1799.2 838.6 M1804 811.9 L1803.8 807.5 M1796.2 817.2 L1792.3 815.1 M1796.7 826.9 L1793.1 829.3 M1812.8 826 L1816.7 828.1 M1812.3 816.3 L1815.9 813.9 M1799.2 838.6 L1797.3 841.3 M1799.2 838.6 L1795.9 838.3 M1799.2 838.6 L1797.8 835.6" fill="none" stroke="#73431a" stroke-width="1.7" stroke-linejoin="round" stroke-linecap="round"/>
<circle cx="1804" cy="811.9" r="1.6" fill="#c69a70" stroke="#73431a" stroke-width="1.0"/>
<circle cx="1796.2" cy="817.2" r="1.6" fill="#c69a70" stroke="#73431a" stroke-width="1.0"/>
<circle cx="1796.7" cy="826.9" r="1.6" fill="#c69a70" stroke="#73431a" stroke-width="1.0"/>
<circle cx="1805" cy="831.3" r="1.6" fill="#c69a70" stroke="#73431a" stroke-width="1.0"/>
<circle cx="1812.8" cy="826" r="1.6" fill="#c69a70" stroke="#73431a" stroke-width="1.0"/>
<circle cx="1812.3" cy="816.3" r="1.6" fill="#c69a70" stroke="#73431a" stroke-width="1.0"/>
<circle cx="1804.2" cy="840" r="1.6" fill="#c69a70" stroke="#73431a" stroke-width="1.0"/>
<circle cx="1799.2" cy="838.6" r="1.6" fill="#c69a70" stroke="#73431a" stroke-width="1.0"/>
<circle cx="1803.8" cy="807.5" r="1.35" fill="#f3ddd6" stroke="#e3c3ba" stroke-width="0.4"/>
<circle cx="1792.3" cy="815.1" r="1.35" fill="#f3ddd6" stroke="#e3c3ba" stroke-width="0.4"/>
<circle cx="1793.1" cy="829.3" r="1.35" fill="#f3ddd6" stroke="#e3c3ba" stroke-width="0.4"/>
<circle cx="1816.7" cy="828.1" r="1.35" fill="#f3ddd6" stroke="#e3c3ba" stroke-width="0.4"/>
<circle cx="1815.9" cy="813.9" r="1.35" fill="#f3ddd6" stroke="#e3c3ba" stroke-width="0.4"/>
<circle cx="1797.3" cy="841.3" r="1.35" fill="#f3ddd6" stroke="#e3c3ba" stroke-width="0.4"/>
<circle cx="1795.9" cy="838.3" r="1.35" fill="#f3ddd6" stroke="#e3c3ba" stroke-width="0.4"/>
<circle cx="1797.8" cy="835.6" r="1.35" fill="#f3ddd6" stroke="#e3c3ba" stroke-width="0.4"/>
<path d="M1732.7 908.7 L1724.3 913 L1723.6 922.7 L1731.3 928.1 L1739.7 923.8 L1740.4 914.1 Z M1732.7 908.7 L1734.4 903.5 M1734.4 903.5 L1729.4 904.9 M1724.3 913 L1720.7 910.5 M1723.6 922.7 L1719.7 924.7 M1731.3 928.1 L1731 932.5 M1739.7 923.8 L1743.3 926.3 M1740.4 914.1 L1744.3 912.1 M1729.4 904.9 L1727.5 902.2 M1729.4 904.9 L1726.1 905.2 M1729.4 904.9 L1728 907.9" fill="none" stroke="#73431a" stroke-width="1.7" stroke-linejoin="round" stroke-linecap="round"/>
<circle cx="1732.7" cy="908.7" r="1.6" fill="#c69a70" stroke="#73431a" stroke-width="1.0"/>
<circle cx="1724.3" cy="913" r="1.6" fill="#c69a70" stroke="#73431a" stroke-width="1.0"/>
<circle cx="1723.6" cy="922.7" r="1.6" fill="#c69a70" stroke="#73431a" stroke-width="1.0"/>
<circle cx="1731.3" cy="928.1" r="1.6" fill="#c69a70" stroke="#73431a" stroke-width="1.0"/>
<circle cx="1739.7" cy="923.8" r="1.6" fill="#c69a70" stroke="#73431a" stroke-width="1.0"/>
<circle cx="1740.4" cy="914.1" r="1.6" fill="#c69a70" stroke="#73431a" stroke-width="1.0"/>
<circle cx="1734.4" cy="903.5" r="1.6" fill="#c69a70" stroke="#73431a" stroke-width="1.0"/>
<circle cx="1729.4" cy="904.9" r="1.6" fill="#c69a70" stroke="#73431a" stroke-width="1.0"/>
<circle cx="1720.7" cy="910.5" r="1.35" fill="#f3ddd6" stroke="#e3c3ba" stroke-width="0.4"/>
<circle cx="1719.7" cy="924.7" r="1.35" fill="#f3ddd6" stroke="#e3c3ba" stroke-width="0.4"/>
<circle cx="1731" cy="932.5" r="1.35" fill="#f3ddd6" stroke="#e3c3ba" stroke-width="0.4"/>
<circle cx="1743.3" cy="926.3" r="1.35" fill="#f3ddd6" stroke="#e3c3ba" stroke-width="0.4"/>
<circle cx="1744.3" cy="912.1" r="1.35" fill="#f3ddd6" stroke="#e3c3ba" stroke-width="0.4"/>
<circle cx="1727.5" cy="902.2" r="1.35" fill="#f3ddd6" stroke="#e3c3ba" stroke-width="0.4"/>
<circle cx="1726.1" cy="905.2" r="1.35" fill="#f3ddd6" stroke="#e3c3ba" stroke-width="0.4"/>
<circle cx="1728" cy="907.9" r="1.35" fill="#f3ddd6" stroke="#e3c3ba" stroke-width="0.4"/>
<path d="M1770.2 909.6 L1761.7 913.5 L1760.7 923.2 L1768.2 928.8 L1776.7 924.9 L1777.7 915.2 Z M1770.2 909.6 L1770 903.7 M1770 903.7 L1765 905.1 M1761.7 913.5 L1758.2 910.9 M1760.7 923.2 L1756.7 925 M1768.2 928.8 L1767.7 933.2 M1776.7 924.9 L1780.2 927.5 M1777.7 915.2 L1781.7 913.4 M1765 905.1 L1763.1 902.4 M1765 905.1 L1761.7 905.4 M1765 905.1 L1763.6 908.1" fill="none" stroke="#73431a" stroke-width="1.7" stroke-linejoin="round" stroke-linecap="round"/>
<circle cx="1770.2" cy="909.6" r="1.6" fill="#c69a70" stroke="#73431a" stroke-width="1.0"/>
<circle cx="1761.7" cy="913.5" r="1.6" fill="#c69a70" stroke="#73431a" stroke-width="1.0"/>
<circle cx="1760.7" cy="923.2" r="1.6" fill="#c69a70" stroke="#73431a" stroke-width="1.0"/>
<circle cx="1768.2" cy="928.8" r="1.6" fill="#c69a70" stroke="#73431a" stroke-width="1.0"/>
<circle cx="1776.7" cy="924.9" r="1.6" fill="#c69a70" stroke="#73431a" stroke-width="1.0"/>
<circle cx="1777.7" cy="915.2" r="1.6" fill="#c69a70" stroke="#73431a" stroke-width="1.0"/>
<circle cx="1770" cy="903.7" r="1.6" fill="#c69a70" stroke="#73431a" stroke-width="1.0"/>
<circle cx="1765" cy="905.1" r="1.6" fill="#c69a70" stroke="#73431a" stroke-width="1.0"/>
<circle cx="1758.2" cy="910.9" r="1.35" fill="#f3ddd6" stroke="#e3c3ba" stroke-width="0.4"/>
<circle cx="1756.7" cy="925" r="1.35" fill="#f3ddd6" stroke="#e3c3ba" stroke-width="0.4"/>
<circle cx="1767.7" cy="933.2" r="1.35" fill="#f3ddd6" stroke="#e3c3ba" stroke-width="0.4"/>
<circle cx="1780.2" cy="927.5" r="1.35" fill="#f3ddd6" stroke="#e3c3ba" stroke-width="0.4"/>
<circle cx="1781.7" cy="913.4" r="1.35" fill="#f3ddd6" stroke="#e3c3ba" stroke-width="0.4"/>
<circle cx="1763.1" cy="902.4" r="1.35" fill="#f3ddd6" stroke="#e3c3ba" stroke-width="0.4"/>
<circle cx="1761.7" cy="905.4" r="1.35" fill="#f3ddd6" stroke="#e3c3ba" stroke-width="0.4"/>
<circle cx="1763.6" cy="908.1" r="1.35" fill="#f3ddd6" stroke="#e3c3ba" stroke-width="0.4"/>
<path d="M1804.1 909.5 L1795.7 913.8 L1795 923.5 L1802.7 928.9 L1811.1 924.6 L1811.8 914.9 Z M1804.1 909.5 L1804.8 903.7 M1804.8 903.7 L1799.8 905.1 M1795.7 913.8 L1792.1 911.3 M1795 923.5 L1791.1 925.5 M1802.7 928.9 L1802.4 933.3 M1811.1 924.6 L1814.7 927.1 M1811.8 914.9 L1815.7 912.9 M1799.8 905.1 L1797.9 902.4 M1799.8 905.1 L1796.5 905.4 M1799.8 905.1 L1798.4 908.1" fill="none" stroke="#73431a" stroke-width="1.7" stroke-linejoin="round" stroke-linecap="round"/>
<circle cx="1804.1" cy="909.5" r="1.6" fill="#c69a70" stroke="#73431a" stroke-width="1.0"/>
<circle cx="1795.7" cy="913.8" r="1.6" fill="#c69a70" stroke="#73431a" stroke-width="1.0"/>
<circle cx="1795" cy="923.5" r="1.6" fill="#c69a70" stroke="#73431a" stroke-width="1.0"/>
<circle cx="1802.7" cy="928.9" r="1.6" fill="#c69a70" stroke="#73431a" stroke-width="1.0"/>
<circle cx="1811.1" cy="924.6" r="1.6" fill="#c69a70" stroke="#73431a" stroke-width="1.0"/>
<circle cx="1811.8" cy="914.9" r="1.6" fill="#c69a70" stroke="#73431a" stroke-width="1.0"/>
<circle cx="1804.8" cy="903.7" r="1.6" fill="#c69a70" stroke="#73431a" stroke-width="1.0"/>
<circle cx="1799.8" cy="905.1" r="1.6" fill="#c69a70" stroke="#73431a" stroke-width="1.0"/>
<circle cx="1792.1" cy="911.3" r="1.35" fill="#f3ddd6" stroke="#e3c3ba" stroke-width="0.4"/>
<circle cx="1791.1" cy="925.5" r="1.35" fill="#f3ddd6" stroke="#e3c3ba" stroke-width="0.4"/>
<circle cx="1802.4" cy="933.3" r="1.35" fill="#f3ddd6" stroke="#e3c3ba" stroke-width="0.4"/>
<circle cx="1814.7" cy="927.1" r="1.35" fill="#f3ddd6" stroke="#e3c3ba" stroke-width="0.4"/>
<circle cx="1815.7" cy="912.9" r="1.35" fill="#f3ddd6" stroke="#e3c3ba" stroke-width="0.4"/>
<circle cx="1797.9" cy="902.4" r="1.35" fill="#f3ddd6" stroke="#e3c3ba" stroke-width="0.4"/>
<circle cx="1796.5" cy="905.4" r="1.35" fill="#f3ddd6" stroke="#e3c3ba" stroke-width="0.4"/>
<circle cx="1798.4" cy="908.1" r="1.35" fill="#f3ddd6" stroke="#e3c3ba" stroke-width="0.4"/>
<path d="M1722.5 928.3 L1714.2 932.7 L1713.7 942.4 L1721.5 947.7 L1729.8 943.3 L1730.3 933.6 Z M1721.5 947.7 L1719.1 954.9 M1719.1 954.9 L1714.1 953.5 M1722.5 928.3 L1722.7 923.9 M1714.2 932.7 L1710.6 930.3 M1713.7 942.4 L1709.8 944.5 M1729.8 943.3 L1733.4 945.7 M1730.3 933.6 L1734.2 931.5 M1714.1 953.5 L1712.2 956.2 M1714.1 953.5 L1710.8 953.2 M1714.1 953.5 L1712.7 950.5" fill="none" stroke="#73431a" stroke-width="1.7" stroke-linejoin="round" stroke-linecap="round"/>
<circle cx="1722.5" cy="928.3" r="1.6" fill="#c69a70" stroke="#73431a" stroke-width="1.0"/>
<circle cx="1714.2" cy="932.7" r="1.6" fill="#c69a70" stroke="#73431a" stroke-width="1.0"/>
<circle cx="1713.7" cy="942.4" r="1.6" fill="#c69a70" stroke="#73431a" stroke-width="1.0"/>
<circle cx="1721.5" cy="947.7" r="1.6" fill="#c69a70" stroke="#73431a" stroke-width="1.0"/>
<circle cx="1729.8" cy="943.3" r="1.6" fill="#c69a70" stroke="#73431a" stroke-width="1.0"/>
<circle cx="1730.3" cy="933.6" r="1.6" fill="#c69a70" stroke="#73431a" stroke-width="1.0"/>
<circle cx="1719.1" cy="954.9" r="1.6" fill="#c69a70" stroke="#73431a" stroke-width="1.0"/>
<circle cx="1714.1" cy="953.5" r="1.6" fill="#c69a70" stroke="#73431a" stroke-width="1.0"/>
<circle cx="1722.7" cy="923.9" r="1.35" fill="#f3ddd6" stroke="#e3c3ba" stroke-width="0.4"/>
<circle cx="1710.6" cy="930.3" r="1.35" fill="#f3ddd6" stroke="#e3c3ba" stroke-width="0.4"/>
<circle cx="1709.8" cy="944.5" r="1.35" fill="#f3ddd6" stroke="#e3c3ba" stroke-width="0.4"/>
<circle cx="1733.4" cy="945.7" r="1.35" fill="#f3ddd6" stroke="#e3c3ba" stroke-width="0.4"/>
<circle cx="1734.2" cy="931.5" r="1.35" fill="#f3ddd6" stroke="#e3c3ba" stroke-width="0.4"/>
<circle cx="1712.2" cy="956.2" r="1.35" fill="#f3ddd6" stroke="#e3c3ba" stroke-width="0.4"/>
<circle cx="1710.8" cy="953.2" r="1.35" fill="#f3ddd6" stroke="#e3c3ba" stroke-width="0.4"/>
<circle cx="1712.7" cy="950.5" r="1.35" fill="#f3ddd6" stroke="#e3c3ba" stroke-width="0.4"/>
<path d="M1756.2 927.6 L1747.7 931.5 L1746.7 941.2 L1754.2 946.8 L1762.7 942.9 L1763.7 933.2 Z M1754.2 946.8 L1753.7 954.7 M1753.7 954.7 L1748.7 953.3 M1756.2 927.6 L1756.7 923.2 M1747.7 931.5 L1744.2 928.9 M1746.7 941.2 L1742.7 943 M1762.7 942.9 L1766.2 945.5 M1763.7 933.2 L1767.7 931.4 M1748.7 953.3 L1746.8 956 M1748.7 953.3 L1745.4 953 M1748.7 953.3 L1747.3 950.3" fill="none" stroke="#73431a" stroke-width="1.7" stroke-linejoin="round" stroke-linecap="round"/>
<circle cx="1756.2" cy="927.6" r="1.6" fill="#c69a70" stroke="#73431a" stroke-width="1.0"/>
<circle cx="1747.7" cy="931.5" r="1.6" fill="#c69a70" stroke="#73431a" stroke-width="1.0"/>
<circle cx="1746.7" cy="941.2" r="1.6" fill="#c69a70" stroke="#73431a" stroke-width="1.0"/>
<circle cx="1754.2" cy="946.8" r="1.6" fill="#c69a70" stroke="#73431a" stroke-width="1.0"/>
<circle cx="1762.7" cy="942.9" r="1.6" fill="#c69a70" stroke="#73431a" stroke-width="1.0"/>
<circle cx="1763.7" cy="933.2" r="1.6" fill="#c69a70" stroke="#73431a" stroke-width="1.0"/>
<circle cx="1753.7" cy="954.7" r="1.6" fill="#c69a70" stroke="#73431a" stroke-width="1.0"/>
<circle cx="1748.7" cy="953.3" r="1.6" fill="#c69a70" stroke="#73431a" stroke-width="1.0"/>
<circle cx="1756.7" cy="923.2" r="1.35" fill="#f3ddd6" stroke="#e3c3ba" stroke-width="0.4"/>
<circle cx="1744.2" cy="928.9" r="1.35" fill="#f3ddd6" stroke="#e3c3ba" stroke-width="0.4"/>
<circle cx="1742.7" cy="943" r="1.35" fill="#f3ddd6" stroke="#e3c3ba" stroke-width="0.4"/>
<circle cx="1766.2" cy="945.5" r="1.35" fill="#f3ddd6" stroke="#e3c3ba" stroke-width="0.4"/>
<circle cx="1767.7" cy="931.4" r="1.35" fill="#f3ddd6" stroke="#e3c3ba" stroke-width="0.4"/>
<circle cx="1746.8" cy="956" r="1.35" fill="#f3ddd6" stroke="#e3c3ba" stroke-width="0.4"/>
<circle cx="1745.4" cy="953" r="1.35" fill="#f3ddd6" stroke="#e3c3ba" stroke-width="0.4"/>
<circle cx="1747.3" cy="950.3" r="1.35" fill="#f3ddd6" stroke="#e3c3ba" stroke-width="0.4"/>
<path d="M1793.8 928.3 L1785.5 932.7 L1785 942.4 L1792.8 947.7 L1801.1 943.3 L1801.6 933.6 Z M1792.8 947.7 L1789.5 954.9 M1789.5 954.9 L1784.5 953.5 M1793.8 928.3 L1794 923.9 M1785.5 932.7 L1781.9 930.3 M1785 942.4 L1781.1 944.5 M1801.1 943.3 L1804.7 945.7 M1801.6 933.6 L1805.5 931.5 M1784.5 953.5 L1782.6 956.2 M1784.5 953.5 L1781.2 953.2 M1784.5 953.5 L1783.1 950.5" fill="none" stroke="#73431a" stroke-width="1.7" stroke-linejoin="round" stroke-linecap="round"/>
<circle cx="1793.8" cy="928.3" r="1.6" fill="#c69a70" stroke="#73431a" stroke-width="1.0"/>
<circle cx="1785.5" cy="932.7" r="1.6" fill="#c69a70" stroke="#73431a" stroke-width="1.0"/>
<circle cx="1785" cy="942.4" r="1.6" fill="#c69a70" stroke="#73431a" stroke-width="1.0"/>
<circle cx="1792.8" cy="947.7" r="1.6" fill="#c69a70" stroke="#73431a" stroke-width="1.0"/>
<circle cx="1801.1" cy="943.3" r="1.6" fill="#c69a70" stroke="#73431a" stroke-width="1.0"/>
<circle cx="1801.6" cy="933.6" r="1.6" fill="#c69a70" stroke="#73431a" stroke-width="1.0"/>
<circle cx="1789.5" cy="954.9" r="1.6" fill="#c69a70" stroke="#73431a" stroke-width="1.0"/>
<circle cx="1784.5" cy="953.5" r="1.6" fill="#c69a70" stroke="#73431a" stroke-width="1.0"/>
<circle cx="1794" cy="923.9" r="1.35" fill="#f3ddd6" stroke="#e3c3ba" stroke-width="0.4"/>
<circle cx="1781.9" cy="930.3" r="1.35" fill="#f3ddd6" stroke="#e3c3ba" stroke-width="0.4"/>
<circle cx="1781.1" cy="944.5" r="1.35" fill="#f3ddd6" stroke="#e3c3ba" stroke-width="0.4"/>
<circle cx="1804.7" cy="945.7" r="1.35" fill="#f3ddd6" stroke="#e3c3ba" stroke-width="0.4"/>
<circle cx="1805.5" cy="931.5" r="1.35" fill="#f3ddd6" stroke="#e3c3ba" stroke-width="0.4"/>
<circle cx="1782.6" cy="956.2" r="1.35" fill="#f3ddd6" stroke="#e3c3ba" stroke-width="0.4"/>
<circle cx="1781.2" cy="953.2" r="1.35" fill="#f3ddd6" stroke="#e3c3ba" stroke-width="0.4"/>
<circle cx="1783.1" cy="950.5" r="1.35" fill="#f3ddd6" stroke="#e3c3ba" stroke-width="0.4"/>
<path d="M1720.9 1027.7 L1712.5 1034.1 L1713.6 1045 L1723.1 1049.5 L1731.5 1043.1 L1730.4 1032.2 Z M1720.9 1027.7 L1719.8 1018.9 M1719.8 1018.9 L1714.8 1020.3 M1712.5 1034.1 L1708.5 1032.2 M1713.6 1045 L1710.1 1047.7 M1723.1 1049.5 L1723.6 1053.9 M1731.5 1043.1 L1735.5 1045 M1730.4 1032.2 L1733.9 1029.5 M1714.8 1020.3 L1712.9 1017.6 M1714.8 1020.3 L1711.5 1020.6 M1714.8 1020.3 L1713.4 1023.3" fill="none" stroke="#73431a" stroke-width="1.7" stroke-linejoin="round" stroke-linecap="round"/>
<circle cx="1720.9" cy="1027.7" r="1.6" fill="#c69a70" stroke="#73431a" stroke-width="1.0"/>
<circle cx="1712.5" cy="1034.1" r="1.6" fill="#c69a70" stroke="#73431a" stroke-width="1.0"/>
<circle cx="1713.6" cy="1045" r="1.6" fill="#c69a70" stroke="#73431a" stroke-width="1.0"/>
<circle cx="1723.1" cy="1049.5" r="1.6" fill="#c69a70" stroke="#73431a" stroke-width="1.0"/>
<circle cx="1731.5" cy="1043.1" r="1.6" fill="#c69a70" stroke="#73431a" stroke-width="1.0"/>
<circle cx="1730.4" cy="1032.2" r="1.6" fill="#c69a70" stroke="#73431a" stroke-width="1.0"/>
<circle cx="1719.8" cy="1018.9" r="1.6" fill="#c69a70" stroke="#73431a" stroke-width="1.0"/>
<circle cx="1714.8" cy="1020.3" r="1.6" fill="#c69a70" stroke="#73431a" stroke-width="1.0"/>
<circle cx="1708.5" cy="1032.2" r="1.35" fill="#f3ddd6" stroke="#e3c3ba" stroke-width="0.4"/>
<circle cx="1710.1" cy="1047.7" r="1.35" fill="#f3ddd6" stroke="#e3c3ba" stroke-width="0.4"/>
<circle cx="1723.6" cy="1053.9" r="1.35" fill="#f3ddd6" stroke="#e3c3ba" stroke-width="0.4"/>
<circle cx="1735.5" cy="1045" r="1.35" fill="#f3ddd6" stroke="#e3c3ba" stroke-width="0.4"/>
<circle cx="1733.9" cy="1029.5" r="1.35" fill="#f3ddd6" stroke="#e3c3ba" stroke-width="0.4"/>
<circle cx="1712.9" cy="1017.6" r="1.35" fill="#f3ddd6" stroke="#e3c3ba" stroke-width="0.4"/>
<circle cx="1711.5" cy="1020.6" r="1.35" fill="#f3ddd6" stroke="#e3c3ba" stroke-width="0.4"/>
<circle cx="1713.4" cy="1023.3" r="1.35" fill="#f3ddd6" stroke="#e3c3ba" stroke-width="0.4"/>
<path d="M1756.7 1027.6 L1747.9 1033.4 L1748.3 1044.4 L1757.5 1049.6 L1766.3 1043.8 L1765.9 1032.8 Z M1756.7 1027.6 L1755 1018.9 M1755 1018.9 L1750 1020.3 M1747.9 1033.4 L1744.1 1031.3 M1748.3 1044.4 L1744.6 1046.8 M1757.5 1049.6 L1757.6 1054 M1766.3 1043.8 L1770.1 1045.9 M1765.9 1032.8 L1769.6 1030.4 M1750 1020.3 L1748.1 1017.6 M1750 1020.3 L1746.7 1020.6 M1750 1020.3 L1748.6 1023.3" fill="none" stroke="#73431a" stroke-width="1.7" stroke-linejoin="round" stroke-linecap="round"/>
<circle cx="1756.7" cy="1027.6" r="1.6" fill="#c69a70" stroke="#73431a" stroke-width="1.0"/>
<circle cx="1747.9" cy="1033.4" r="1.6" fill="#c69a70" stroke="#73431a" stroke-width="1.0"/>
<circle cx="1748.3" cy="1044.4" r="1.6" fill="#c69a70" stroke="#73431a" stroke-width="1.0"/>
<circle cx="1757.5" cy="1049.6" r="1.6" fill="#c69a70" stroke="#73431a" stroke-width="1.0"/>
<circle cx="1766.3" cy="1043.8" r="1.6" fill="#c69a70" stroke="#73431a" stroke-width="1.0"/>
<circle cx="1765.9" cy="1032.8" r="1.6" fill="#c69a70" stroke="#73431a" stroke-width="1.0"/>
<circle cx="1755" cy="1018.9" r="1.6" fill="#c69a70" stroke="#73431a" stroke-width="1.0"/>
<circle cx="1750" cy="1020.3" r="1.6" fill="#c69a70" stroke="#73431a" stroke-width="1.0"/>
<circle cx="1744.1" cy="1031.3" r="1.35" fill="#f3ddd6" stroke="#e3c3ba" stroke-width="0.4"/>
<circle cx="1744.6" cy="1046.8" r="1.35" fill="#f3ddd6" stroke="#e3c3ba" stroke-width="0.4"/>
<circle cx="1757.6" cy="1054" r="1.35" fill="#f3ddd6" stroke="#e3c3ba" stroke-width="0.4"/>
<circle cx="1770.1" cy="1045.9" r="1.35" fill="#f3ddd6" stroke="#e3c3ba" stroke-width="0.4"/>
<circle cx="1769.6" cy="1030.4" r="1.35" fill="#f3ddd6" stroke="#e3c3ba" stroke-width="0.4"/>
<circle cx="1748.1" cy="1017.6" r="1.35" fill="#f3ddd6" stroke="#e3c3ba" stroke-width="0.4"/>
<circle cx="1746.7" cy="1020.6" r="1.35" fill="#f3ddd6" stroke="#e3c3ba" stroke-width="0.4"/>
<circle cx="1748.6" cy="1023.3" r="1.35" fill="#f3ddd6" stroke="#e3c3ba" stroke-width="0.4"/>
<path d="M1790.1 1027.7 L1781.7 1034.1 L1782.8 1045 L1792.3 1049.5 L1800.7 1043.1 L1799.6 1032.2 Z M1790.1 1027.7 L1789.8 1018.9 M1789.8 1018.9 L1784.8 1020.3 M1781.7 1034.1 L1777.7 1032.2 M1782.8 1045 L1779.3 1047.7 M1792.3 1049.5 L1792.8 1053.9 M1800.7 1043.1 L1804.7 1045 M1799.6 1032.2 L1803.1 1029.5 M1784.8 1020.3 L1782.9 1017.6 M1784.8 1020.3 L1781.5 1020.6 M1784.8 1020.3 L1783.4 1023.3" fill="none" stroke="#73431a" stroke-width="1.7" stroke-linejoin="round" stroke-linecap="round"/>
<circle cx="1790.1" cy="1027.7" r="1.6" fill="#c69a70" stroke="#73431a" stroke-width="1.0"/>
<circle cx="1781.7" cy="1034.1" r="1.6" fill="#c69a70" stroke="#73431a" stroke-width="1.0"/>
<circle cx="1782.8" cy="1045" r="1.6" fill="#c69a70" stroke="#73431a" stroke-width="1.0"/>
<circle cx="1792.3" cy="1049.5" r="1.6" fill="#c69a70" stroke="#73431a" stroke-width="1.0"/>
<circle cx="1800.7" cy="1043.1" r="1.6" fill="#c69a70" stroke="#73431a" stroke-width="1.0"/>
<circle cx="1799.6" cy="1032.2" r="1.6" fill="#c69a70" stroke="#73431a" stroke-width="1.0"/>
<circle cx="1789.8" cy="1018.9" r="1.6" fill="#c69a70" stroke="#73431a" stroke-width="1.0"/>
<circle cx="1784.8" cy="1020.3" r="1.6" fill="#c69a70" stroke="#73431a" stroke-width="1.0"/>
<circle cx="1777.7" cy="1032.2" r="1.35" fill="#f3ddd6" stroke="#e3c3ba" stroke-width="0.4"/>
<circle cx="1779.3" cy="1047.7" r="1.35" fill="#f3ddd6" stroke="#e3c3ba" stroke-width="0.4"/>
<circle cx="1792.8" cy="1053.9" r="1.35" fill="#f3ddd6" stroke="#e3c3ba" stroke-width="0.4"/>
<circle cx="1804.7" cy="1045" r="1.35" fill="#f3ddd6" stroke="#e3c3ba" stroke-width="0.4"/>
<circle cx="1803.1" cy="1029.5" r="1.35" fill="#f3ddd6" stroke="#e3c3ba" stroke-width="0.4"/>
<circle cx="1782.9" cy="1017.6" r="1.35" fill="#f3ddd6" stroke="#e3c3ba" stroke-width="0.4"/>
<circle cx="1781.5" cy="1020.6" r="1.35" fill="#f3ddd6" stroke="#e3c3ba" stroke-width="0.4"/>
<circle cx="1783.4" cy="1023.3" r="1.35" fill="#f3ddd6" stroke="#e3c3ba" stroke-width="0.4"/>
<path d="M1754.1 733 L1734.6 758.8 L1752.6 758.8 Z" fill="#4851b3" stroke="#4851b3" stroke-width="0.5"/>
<path d="M1754.1 733 L1773.6 758.8 L1752.6 758.8 Z" fill="#424bad" stroke="#424bad" stroke-width="0.5"/>
<path d="M1754.1 784.6 L1734.6 758.8 L1752.6 758.8 Z" fill="#3f49aa" stroke="#3f49aa" stroke-width="0.5"/>
<path d="M1754.1 784.6 L1773.6 758.8 L1752.6 758.8 Z" fill="#454fb0" stroke="#454fb0" stroke-width="0.5"/>
<path d="M1734.6 758.8 H1773.6" stroke="#6a74c8" stroke-width="0.6" opacity="0.8"/>
<path d="M1752.6 733 V784.6" stroke="#5560bb" stroke-width="0.5" opacity="0.6"/>
<circle cx="1754.1" cy="758.8" r="4" fill="url(#gPb)"/>
<path d="M1719 733.6 L1700.2 758.8 L1717.5 758.8 Z" fill="#3640a8" stroke="#3640a8" stroke-width="0.5"/>
<path d="M1719 733.6 L1737.8 758.8 L1717.5 758.8 Z" fill="#2f399f" stroke="#2f399f" stroke-width="0.5"/>
<path d="M1719 784 L1700.2 758.8 L1717.5 758.8 Z" fill="#323ca3" stroke="#323ca3" stroke-width="0.5"/>
<path d="M1719 784 L1737.8 758.8 L1717.5 758.8 Z" fill="#2b349a" stroke="#2b349a" stroke-width="0.5"/>
<path d="M1700.2 758.8 H1737.8" stroke="#6a74c8" stroke-width="0.6" opacity="0.8"/>
<path d="M1717.5 733.6 V784" stroke="#5560bb" stroke-width="0.5" opacity="0.6"/>
<circle cx="1719" cy="758.8" r="4" fill="url(#gPb)"/>
<path d="M1789.2 733.6 L1770.4 758.8 L1787.7 758.8 Z" fill="#3640a8" stroke="#3640a8" stroke-width="0.5"/>
<path d="M1789.2 733.6 L1808 758.8 L1787.7 758.8 Z" fill="#2f399f" stroke="#2f399f" stroke-width="0.5"/>
<path d="M1789.2 784 L1770.4 758.8 L1787.7 758.8 Z" fill="#323ca3" stroke="#323ca3" stroke-width="0.5"/>
<path d="M1789.2 784 L1808 758.8 L1787.7 758.8 Z" fill="#2b349a" stroke="#2b349a" stroke-width="0.5"/>
<path d="M1770.4 758.8 H1808" stroke="#6a74c8" stroke-width="0.6" opacity="0.8"/>
<path d="M1787.7 733.6 V784" stroke="#5560bb" stroke-width="0.5" opacity="0.6"/>
<circle cx="1789.2" cy="758.8" r="4" fill="url(#gPb)"/>
<circle cx="1697.3" cy="758.8" r="3.1" fill="url(#gI)"/>
<circle cx="1732.5" cy="758.8" r="3.1" fill="url(#gI)"/>
<circle cx="1740.1" cy="758.8" r="3.1" fill="url(#gI)"/>
<circle cx="1767.6" cy="758.8" r="3.1" fill="url(#gI)"/>
<circle cx="1802.2" cy="758.8" r="3.1" fill="url(#gI)"/>
<circle cx="1810.9" cy="758.8" r="3.1" fill="url(#gI)"/>
<circle cx="1719.6" cy="733.2" r="3.3" fill="url(#gI)"/>
<circle cx="1719.3" cy="784.2" r="3.3" fill="url(#gI)"/>
<circle cx="1754.4" cy="733.2" r="3.3" fill="url(#gI)"/>
<circle cx="1754.2" cy="784.2" r="3.3" fill="url(#gI)"/>
<circle cx="1789.8" cy="733.2" r="3.3" fill="url(#gI)"/>
<circle cx="1789.5" cy="784.2" r="3.3" fill="url(#gI)"/>
<path d="M1734.3 846.4 L1714.8 872.2 L1732.8 872.2 Z" fill="#4851b3" stroke="#4851b3" stroke-width="0.5"/>
<path d="M1734.3 846.4 L1753.8 872.2 L1732.8 872.2 Z" fill="#424bad" stroke="#424bad" stroke-width="0.5"/>
<path d="M1734.3 898 L1714.8 872.2 L1732.8 872.2 Z" fill="#3f49aa" stroke="#3f49aa" stroke-width="0.5"/>
<path d="M1734.3 898 L1753.8 872.2 L1732.8 872.2 Z" fill="#454fb0" stroke="#454fb0" stroke-width="0.5"/>
<path d="M1714.8 872.2 H1753.8" stroke="#6a74c8" stroke-width="0.6" opacity="0.8"/>
<path d="M1732.8 846.4 V898" stroke="#5560bb" stroke-width="0.5" opacity="0.6"/>
<circle cx="1734.3" cy="872.2" r="4" fill="url(#gPb)"/>
<path d="M1804.5 846.4 L1785 872.2 L1803 872.2 Z" fill="#4851b3" stroke="#4851b3" stroke-width="0.5"/>
<path d="M1804.5 846.4 L1824 872.2 L1803 872.2 Z" fill="#424bad" stroke="#424bad" stroke-width="0.5"/>
<path d="M1804.5 898 L1785 872.2 L1803 872.2 Z" fill="#3f49aa" stroke="#3f49aa" stroke-width="0.5"/>
<path d="M1804.5 898 L1824 872.2 L1803 872.2 Z" fill="#454fb0" stroke="#454fb0" stroke-width="0.5"/>
<path d="M1785 872.2 H1824" stroke="#6a74c8" stroke-width="0.6" opacity="0.8"/>
<path d="M1803 846.4 V898" stroke="#5560bb" stroke-width="0.5" opacity="0.6"/>
<circle cx="1804.5" cy="872.2" r="4" fill="url(#gPb)"/>
<path d="M1769.4 847 L1750.6 872.2 L1767.9 872.2 Z" fill="#3640a8" stroke="#3640a8" stroke-width="0.5"/>
<path d="M1769.4 847 L1788.2 872.2 L1767.9 872.2 Z" fill="#2f399f" stroke="#2f399f" stroke-width="0.5"/>
<path d="M1769.4 897.4 L1750.6 872.2 L1767.9 872.2 Z" fill="#323ca3" stroke="#323ca3" stroke-width="0.5"/>
<path d="M1769.4 897.4 L1788.2 872.2 L1767.9 872.2 Z" fill="#2b349a" stroke="#2b349a" stroke-width="0.5"/>
<path d="M1750.6 872.2 H1788.2" stroke="#6a74c8" stroke-width="0.6" opacity="0.8"/>
<path d="M1767.9 847 V897.4" stroke="#5560bb" stroke-width="0.5" opacity="0.6"/>
<circle cx="1769.4" cy="872.2" r="4" fill="url(#gPb)"/>
<circle cx="1711.9" cy="872.2" r="3.1" fill="url(#gI)"/>
<circle cx="1721.3" cy="872.2" r="3.1" fill="url(#gI)"/>
<circle cx="1748.1" cy="872.2" r="3.1" fill="url(#gI)"/>
<circle cx="1783.2" cy="872.2" r="3.1" fill="url(#gI)"/>
<circle cx="1790.9" cy="872.2" r="3.1" fill="url(#gI)"/>
<circle cx="1826.2" cy="872.2" r="3.1" fill="url(#gI)"/>
<circle cx="1734.9" cy="846.6" r="3.3" fill="url(#gI)"/>
<circle cx="1734.6" cy="897.6" r="3.3" fill="url(#gI)"/>
<circle cx="1769.7" cy="846.6" r="3.3" fill="url(#gI)"/>
<circle cx="1769.6" cy="897.6" r="3.3" fill="url(#gI)"/>
<circle cx="1805.1" cy="846.6" r="3.3" fill="url(#gI)"/>
<circle cx="1804.8" cy="897.6" r="3.3" fill="url(#gI)"/>
<path d="M1754.1 960.9 L1734.6 986.7 L1752.6 986.7 Z" fill="#4851b3" stroke="#4851b3" stroke-width="0.5"/>
<path d="M1754.1 960.9 L1773.6 986.7 L1752.6 986.7 Z" fill="#424bad" stroke="#424bad" stroke-width="0.5"/>
<path d="M1754.1 1012.5 L1734.6 986.7 L1752.6 986.7 Z" fill="#3f49aa" stroke="#3f49aa" stroke-width="0.5"/>
<path d="M1754.1 1012.5 L1773.6 986.7 L1752.6 986.7 Z" fill="#454fb0" stroke="#454fb0" stroke-width="0.5"/>
<path d="M1734.6 986.7 H1773.6" stroke="#6a74c8" stroke-width="0.6" opacity="0.8"/>
<path d="M1752.6 960.9 V1012.5" stroke="#5560bb" stroke-width="0.5" opacity="0.6"/>
<circle cx="1754.1" cy="986.7" r="4" fill="url(#gPb)"/>
<path d="M1719 961.5 L1700.2 986.7 L1717.5 986.7 Z" fill="#3640a8" stroke="#3640a8" stroke-width="0.5"/>
<path d="M1719 961.5 L1737.8 986.7 L1717.5 986.7 Z" fill="#2f399f" stroke="#2f399f" stroke-width="0.5"/>
<path d="M1719 1011.9 L1700.2 986.7 L1717.5 986.7 Z" fill="#323ca3" stroke="#323ca3" stroke-width="0.5"/>
<path d="M1719 1011.9 L1737.8 986.7 L1717.5 986.7 Z" fill="#2b349a" stroke="#2b349a" stroke-width="0.5"/>
<path d="M1700.2 986.7 H1737.8" stroke="#6a74c8" stroke-width="0.6" opacity="0.8"/>
<path d="M1717.5 961.5 V1011.9" stroke="#5560bb" stroke-width="0.5" opacity="0.6"/>
<circle cx="1719" cy="986.7" r="4" fill="url(#gPb)"/>
<path d="M1789.2 961.5 L1770.4 986.7 L1787.7 986.7 Z" fill="#3640a8" stroke="#3640a8" stroke-width="0.5"/>
<path d="M1789.2 961.5 L1808 986.7 L1787.7 986.7 Z" fill="#2f399f" stroke="#2f399f" stroke-width="0.5"/>
<path d="M1789.2 1011.9 L1770.4 986.7 L1787.7 986.7 Z" fill="#323ca3" stroke="#323ca3" stroke-width="0.5"/>
<path d="M1789.2 1011.9 L1808 986.7 L1787.7 986.7 Z" fill="#2b349a" stroke="#2b349a" stroke-width="0.5"/>
<path d="M1770.4 986.7 H1808" stroke="#6a74c8" stroke-width="0.6" opacity="0.8"/>
<path d="M1787.7 961.5 V1011.9" stroke="#5560bb" stroke-width="0.5" opacity="0.6"/>
<circle cx="1789.2" cy="986.7" r="4" fill="url(#gPb)"/>
<circle cx="1697.3" cy="986.7" r="3.1" fill="url(#gI)"/>
<circle cx="1732.5" cy="986.7" r="3.1" fill="url(#gI)"/>
<circle cx="1740.1" cy="986.7" r="3.1" fill="url(#gI)"/>
<circle cx="1767.6" cy="986.7" r="3.1" fill="url(#gI)"/>
<circle cx="1802.2" cy="986.7" r="3.1" fill="url(#gI)"/>
<circle cx="1810.9" cy="986.7" r="3.1" fill="url(#gI)"/>
<circle cx="1719.6" cy="961.1" r="3.3" fill="url(#gI)"/>
<circle cx="1719.3" cy="1012.1" r="3.3" fill="url(#gI)"/>
<circle cx="1754.4" cy="961.1" r="3.3" fill="url(#gI)"/>
<circle cx="1754.2" cy="1012.1" r="3.3" fill="url(#gI)"/>
<circle cx="1789.8" cy="961.1" r="3.3" fill="url(#gI)"/>
<circle cx="1789.5" cy="1012.1" r="3.3" fill="url(#gI)"/>
<path d="M1718.1 726.7 L1724.5 736" stroke="#9aa5dc" stroke-width="1.1"/>
<path d="M1724.5 736 L1727.3 738.4" stroke="#d5daf4" stroke-width="0.9"/>
<circle cx="1727.3" cy="738.4" r="1.3" fill="#f3ddd6" stroke="#e3c3ba" stroke-width="0.4"/>
<path d="M1724.5 736 L1728 734.7" stroke="#d5daf4" stroke-width="0.9"/>
<circle cx="1728" cy="734.7" r="1.3" fill="#f3ddd6" stroke="#e3c3ba" stroke-width="0.4"/>
<path d="M1724.5 736 L1724.8 732.3" stroke="#d5daf4" stroke-width="0.9"/>
<circle cx="1724.8" cy="732.3" r="1.3" fill="#f3ddd6" stroke="#e3c3ba" stroke-width="0.4"/>
<circle cx="1724.5" cy="736" r="1.75" fill="#e6e9fb" stroke="#8d99d6" stroke-width="0.8"/>
<path d="M1753.1 726.5 L1759.6 736" stroke="#9aa5dc" stroke-width="1.1"/>
<path d="M1759.6 736 L1762.4 738.4" stroke="#d5daf4" stroke-width="0.9"/>
<circle cx="1762.4" cy="738.4" r="1.3" fill="#f3ddd6" stroke="#e3c3ba" stroke-width="0.4"/>
<path d="M1759.6 736 L1763.1 734.7" stroke="#d5daf4" stroke-width="0.9"/>
<circle cx="1763.1" cy="734.7" r="1.3" fill="#f3ddd6" stroke="#e3c3ba" stroke-width="0.4"/>
<path d="M1759.6 736 L1759.9 732.3" stroke="#d5daf4" stroke-width="0.9"/>
<circle cx="1759.9" cy="732.3" r="1.3" fill="#f3ddd6" stroke="#e3c3ba" stroke-width="0.4"/>
<circle cx="1759.6" cy="736" r="1.75" fill="#e6e9fb" stroke="#8d99d6" stroke-width="0.8"/>
<path d="M1788.3 726.6 L1794.7 736" stroke="#9aa5dc" stroke-width="1.1"/>
<path d="M1794.7 736 L1797.5 738.4" stroke="#d5daf4" stroke-width="0.9"/>
<circle cx="1797.5" cy="738.4" r="1.3" fill="#f3ddd6" stroke="#e3c3ba" stroke-width="0.4"/>
<path d="M1794.7 736 L1798.2 734.7" stroke="#d5daf4" stroke-width="0.9"/>
<circle cx="1798.2" cy="734.7" r="1.3" fill="#f3ddd6" stroke="#e3c3ba" stroke-width="0.4"/>
<path d="M1794.7 736 L1795 732.3" stroke="#d5daf4" stroke-width="0.9"/>
<circle cx="1795" cy="732.3" r="1.3" fill="#f3ddd6" stroke="#e3c3ba" stroke-width="0.4"/>
<circle cx="1794.7" cy="736" r="1.75" fill="#e6e9fb" stroke="#8d99d6" stroke-width="0.8"/>
<path d="M1719.4 790.8 L1726.5 781.6" stroke="#9aa5dc" stroke-width="1.1"/>
<path d="M1726.5 781.6 L1729.3 779.2" stroke="#d5daf4" stroke-width="0.9"/>
<circle cx="1729.3" cy="779.2" r="1.3" fill="#f3ddd6" stroke="#e3c3ba" stroke-width="0.4"/>
<path d="M1726.5 781.6 L1730 782.9" stroke="#d5daf4" stroke-width="0.9"/>
<circle cx="1730" cy="782.9" r="1.3" fill="#f3ddd6" stroke="#e3c3ba" stroke-width="0.4"/>
<path d="M1726.5 781.6 L1726.8 785.3" stroke="#d5daf4" stroke-width="0.9"/>
<circle cx="1726.8" cy="785.3" r="1.3" fill="#f3ddd6" stroke="#e3c3ba" stroke-width="0.4"/>
<circle cx="1726.5" cy="781.6" r="1.75" fill="#e6e9fb" stroke="#8d99d6" stroke-width="0.8"/>
<path d="M1755 790.6 L1761.6 781.6" stroke="#9aa5dc" stroke-width="1.1"/>
<path d="M1761.6 781.6 L1764.4 779.2" stroke="#d5daf4" stroke-width="0.9"/>
<circle cx="1764.4" cy="779.2" r="1.3" fill="#f3ddd6" stroke="#e3c3ba" stroke-width="0.4"/>
<path d="M1761.6 781.6 L1765.1 782.9" stroke="#d5daf4" stroke-width="0.9"/>
<circle cx="1765.1" cy="782.9" r="1.3" fill="#f3ddd6" stroke="#e3c3ba" stroke-width="0.4"/>
<path d="M1761.6 781.6 L1761.9 785.3" stroke="#d5daf4" stroke-width="0.9"/>
<circle cx="1761.9" cy="785.3" r="1.3" fill="#f3ddd6" stroke="#e3c3ba" stroke-width="0.4"/>
<circle cx="1761.6" cy="781.6" r="1.75" fill="#e6e9fb" stroke="#8d99d6" stroke-width="0.8"/>
<path d="M1789.6 790.8 L1796.7 781.6" stroke="#9aa5dc" stroke-width="1.1"/>
<path d="M1796.7 781.6 L1799.5 779.2" stroke="#d5daf4" stroke-width="0.9"/>
<circle cx="1799.5" cy="779.2" r="1.3" fill="#f3ddd6" stroke="#e3c3ba" stroke-width="0.4"/>
<path d="M1796.7 781.6 L1800.2 782.9" stroke="#d5daf4" stroke-width="0.9"/>
<circle cx="1800.2" cy="782.9" r="1.3" fill="#f3ddd6" stroke="#e3c3ba" stroke-width="0.4"/>
<path d="M1796.7 781.6 L1797 785.3" stroke="#d5daf4" stroke-width="0.9"/>
<circle cx="1797" cy="785.3" r="1.3" fill="#f3ddd6" stroke="#e3c3ba" stroke-width="0.4"/>
<circle cx="1796.7" cy="781.6" r="1.75" fill="#e6e9fb" stroke="#8d99d6" stroke-width="0.8"/>
<path d="M1733.9 840 L1740.8 849.4" stroke="#9aa5dc" stroke-width="1.1"/>
<path d="M1740.8 849.4 L1743.6 851.8" stroke="#d5daf4" stroke-width="0.9"/>
<circle cx="1743.6" cy="851.8" r="1.3" fill="#f3ddd6" stroke="#e3c3ba" stroke-width="0.4"/>
<path d="M1740.8 849.4 L1744.3 848.1" stroke="#d5daf4" stroke-width="0.9"/>
<circle cx="1744.3" cy="848.1" r="1.3" fill="#f3ddd6" stroke="#e3c3ba" stroke-width="0.4"/>
<path d="M1740.8 849.4 L1741.1 845.7" stroke="#d5daf4" stroke-width="0.9"/>
<circle cx="1741.1" cy="845.7" r="1.3" fill="#f3ddd6" stroke="#e3c3ba" stroke-width="0.4"/>
<circle cx="1740.8" cy="849.4" r="1.75" fill="#e6e9fb" stroke="#8d99d6" stroke-width="0.8"/>
<path d="M1768.9 840.3 L1775.9 849.4" stroke="#9aa5dc" stroke-width="1.1"/>
<path d="M1775.9 849.4 L1778.7 851.8" stroke="#d5daf4" stroke-width="0.9"/>
<circle cx="1778.7" cy="851.8" r="1.3" fill="#f3ddd6" stroke="#e3c3ba" stroke-width="0.4"/>
<path d="M1775.9 849.4 L1779.4 848.1" stroke="#d5daf4" stroke-width="0.9"/>
<circle cx="1779.4" cy="848.1" r="1.3" fill="#f3ddd6" stroke="#e3c3ba" stroke-width="0.4"/>
<path d="M1775.9 849.4 L1776.2 845.7" stroke="#d5daf4" stroke-width="0.9"/>
<circle cx="1776.2" cy="845.7" r="1.3" fill="#f3ddd6" stroke="#e3c3ba" stroke-width="0.4"/>
<circle cx="1775.9" cy="849.4" r="1.75" fill="#e6e9fb" stroke="#8d99d6" stroke-width="0.8"/>
<path d="M1804.2 840 L1811 849.4" stroke="#9aa5dc" stroke-width="1.1"/>
<path d="M1811 849.4 L1813.8 851.8" stroke="#d5daf4" stroke-width="0.9"/>
<circle cx="1813.8" cy="851.8" r="1.3" fill="#f3ddd6" stroke="#e3c3ba" stroke-width="0.4"/>
<path d="M1811 849.4 L1814.5 848.1" stroke="#d5daf4" stroke-width="0.9"/>
<circle cx="1814.5" cy="848.1" r="1.3" fill="#f3ddd6" stroke="#e3c3ba" stroke-width="0.4"/>
<path d="M1811 849.4 L1811.3 845.7" stroke="#d5daf4" stroke-width="0.9"/>
<circle cx="1811.3" cy="845.7" r="1.3" fill="#f3ddd6" stroke="#e3c3ba" stroke-width="0.4"/>
<circle cx="1811" cy="849.4" r="1.75" fill="#e6e9fb" stroke="#8d99d6" stroke-width="0.8"/>
<path d="M1734.4 903.5 L1741.8 895" stroke="#9aa5dc" stroke-width="1.1"/>
<path d="M1741.8 895 L1744.6 892.6" stroke="#d5daf4" stroke-width="0.9"/>
<circle cx="1744.6" cy="892.6" r="1.3" fill="#f3ddd6" stroke="#e3c3ba" stroke-width="0.4"/>
<path d="M1741.8 895 L1745.3 896.3" stroke="#d5daf4" stroke-width="0.9"/>
<circle cx="1745.3" cy="896.3" r="1.3" fill="#f3ddd6" stroke="#e3c3ba" stroke-width="0.4"/>
<path d="M1741.8 895 L1742.1 898.7" stroke="#d5daf4" stroke-width="0.9"/>
<circle cx="1742.1" cy="898.7" r="1.3" fill="#f3ddd6" stroke="#e3c3ba" stroke-width="0.4"/>
<circle cx="1741.8" cy="895" r="1.75" fill="#e6e9fb" stroke="#8d99d6" stroke-width="0.8"/>
<path d="M1770 903.7 L1776.9 895" stroke="#9aa5dc" stroke-width="1.1"/>
<path d="M1776.9 895 L1779.7 892.6" stroke="#d5daf4" stroke-width="0.9"/>
<circle cx="1779.7" cy="892.6" r="1.3" fill="#f3ddd6" stroke="#e3c3ba" stroke-width="0.4"/>
<path d="M1776.9 895 L1780.4 896.3" stroke="#d5daf4" stroke-width="0.9"/>
<circle cx="1780.4" cy="896.3" r="1.3" fill="#f3ddd6" stroke="#e3c3ba" stroke-width="0.4"/>
<path d="M1776.9 895 L1777.2 898.7" stroke="#d5daf4" stroke-width="0.9"/>
<circle cx="1777.2" cy="898.7" r="1.3" fill="#f3ddd6" stroke="#e3c3ba" stroke-width="0.4"/>
<circle cx="1776.9" cy="895" r="1.75" fill="#e6e9fb" stroke="#8d99d6" stroke-width="0.8"/>
<path d="M1804.8 903.7 L1812 895" stroke="#9aa5dc" stroke-width="1.1"/>
<path d="M1812 895 L1814.8 892.6" stroke="#d5daf4" stroke-width="0.9"/>
<circle cx="1814.8" cy="892.6" r="1.3" fill="#f3ddd6" stroke="#e3c3ba" stroke-width="0.4"/>
<path d="M1812 895 L1815.5 896.3" stroke="#d5daf4" stroke-width="0.9"/>
<circle cx="1815.5" cy="896.3" r="1.3" fill="#f3ddd6" stroke="#e3c3ba" stroke-width="0.4"/>
<path d="M1812 895 L1812.3 898.7" stroke="#d5daf4" stroke-width="0.9"/>
<circle cx="1812.3" cy="898.7" r="1.3" fill="#f3ddd6" stroke="#e3c3ba" stroke-width="0.4"/>
<circle cx="1812" cy="895" r="1.75" fill="#e6e9fb" stroke="#8d99d6" stroke-width="0.8"/>
<path d="M1719.1 954.9 L1725.5 963.9" stroke="#9aa5dc" stroke-width="1.1"/>
<path d="M1725.5 963.9 L1728.3 966.3" stroke="#d5daf4" stroke-width="0.9"/>
<circle cx="1728.3" cy="966.3" r="1.3" fill="#f3ddd6" stroke="#e3c3ba" stroke-width="0.4"/>
<path d="M1725.5 963.9 L1729 962.6" stroke="#d5daf4" stroke-width="0.9"/>
<circle cx="1729" cy="962.6" r="1.3" fill="#f3ddd6" stroke="#e3c3ba" stroke-width="0.4"/>
<path d="M1725.5 963.9 L1725.8 960.2" stroke="#d5daf4" stroke-width="0.9"/>
<circle cx="1725.8" cy="960.2" r="1.3" fill="#f3ddd6" stroke="#e3c3ba" stroke-width="0.4"/>
<circle cx="1725.5" cy="963.9" r="1.75" fill="#e6e9fb" stroke="#8d99d6" stroke-width="0.8"/>
<path d="M1753.7 954.7 L1760.6 963.9" stroke="#9aa5dc" stroke-width="1.1"/>
<path d="M1760.6 963.9 L1763.4 966.3" stroke="#d5daf4" stroke-width="0.9"/>
<circle cx="1763.4" cy="966.3" r="1.3" fill="#f3ddd6" stroke="#e3c3ba" stroke-width="0.4"/>
<path d="M1760.6 963.9 L1764.1 962.6" stroke="#d5daf4" stroke-width="0.9"/>
<circle cx="1764.1" cy="962.6" r="1.3" fill="#f3ddd6" stroke="#e3c3ba" stroke-width="0.4"/>
<path d="M1760.6 963.9 L1760.9 960.2" stroke="#d5daf4" stroke-width="0.9"/>
<circle cx="1760.9" cy="960.2" r="1.3" fill="#f3ddd6" stroke="#e3c3ba" stroke-width="0.4"/>
<circle cx="1760.6" cy="963.9" r="1.75" fill="#e6e9fb" stroke="#8d99d6" stroke-width="0.8"/>
<path d="M1789.5 954.9 L1795.7 963.9" stroke="#9aa5dc" stroke-width="1.1"/>
<path d="M1795.7 963.9 L1798.5 966.3" stroke="#d5daf4" stroke-width="0.9"/>
<circle cx="1798.5" cy="966.3" r="1.3" fill="#f3ddd6" stroke="#e3c3ba" stroke-width="0.4"/>
<path d="M1795.7 963.9 L1799.2 962.6" stroke="#d5daf4" stroke-width="0.9"/>
<circle cx="1799.2" cy="962.6" r="1.3" fill="#f3ddd6" stroke="#e3c3ba" stroke-width="0.4"/>
<path d="M1795.7 963.9 L1796 960.2" stroke="#d5daf4" stroke-width="0.9"/>
<circle cx="1796" cy="960.2" r="1.3" fill="#f3ddd6" stroke="#e3c3ba" stroke-width="0.4"/>
<circle cx="1795.7" cy="963.9" r="1.75" fill="#e6e9fb" stroke="#8d99d6" stroke-width="0.8"/>
<path d="M1719.8 1018.9 L1726.5 1009.5" stroke="#9aa5dc" stroke-width="1.1"/>
<path d="M1726.5 1009.5 L1729.3 1007.1" stroke="#d5daf4" stroke-width="0.9"/>
<circle cx="1729.3" cy="1007.1" r="1.3" fill="#f3ddd6" stroke="#e3c3ba" stroke-width="0.4"/>
<path d="M1726.5 1009.5 L1730 1010.8" stroke="#d5daf4" stroke-width="0.9"/>
<circle cx="1730" cy="1010.8" r="1.3" fill="#f3ddd6" stroke="#e3c3ba" stroke-width="0.4"/>
<path d="M1726.5 1009.5 L1726.8 1013.2" stroke="#d5daf4" stroke-width="0.9"/>
<circle cx="1726.8" cy="1013.2" r="1.3" fill="#f3ddd6" stroke="#e3c3ba" stroke-width="0.4"/>
<circle cx="1726.5" cy="1009.5" r="1.75" fill="#e6e9fb" stroke="#8d99d6" stroke-width="0.8"/>
<path d="M1755 1018.9 L1761.6 1009.5" stroke="#9aa5dc" stroke-width="1.1"/>
<path d="M1761.6 1009.5 L1764.4 1007.1" stroke="#d5daf4" stroke-width="0.9"/>
<circle cx="1764.4" cy="1007.1" r="1.3" fill="#f3ddd6" stroke="#e3c3ba" stroke-width="0.4"/>
<path d="M1761.6 1009.5 L1765.1 1010.8" stroke="#d5daf4" stroke-width="0.9"/>
<circle cx="1765.1" cy="1010.8" r="1.3" fill="#f3ddd6" stroke="#e3c3ba" stroke-width="0.4"/>
<path d="M1761.6 1009.5 L1761.9 1013.2" stroke="#d5daf4" stroke-width="0.9"/>
<circle cx="1761.9" cy="1013.2" r="1.3" fill="#f3ddd6" stroke="#e3c3ba" stroke-width="0.4"/>
<circle cx="1761.6" cy="1009.5" r="1.75" fill="#e6e9fb" stroke="#8d99d6" stroke-width="0.8"/>
<path d="M1789.8 1018.9 L1796.7 1009.5" stroke="#9aa5dc" stroke-width="1.1"/>
<path d="M1796.7 1009.5 L1799.5 1007.1" stroke="#d5daf4" stroke-width="0.9"/>
<circle cx="1799.5" cy="1007.1" r="1.3" fill="#f3ddd6" stroke="#e3c3ba" stroke-width="0.4"/>
<path d="M1796.7 1009.5 L1800.2 1010.8" stroke="#d5daf4" stroke-width="0.9"/>
<circle cx="1800.2" cy="1010.8" r="1.3" fill="#f3ddd6" stroke="#e3c3ba" stroke-width="0.4"/>
<path d="M1796.7 1009.5 L1797 1013.2" stroke="#d5daf4" stroke-width="0.9"/>
<circle cx="1797" cy="1013.2" r="1.3" fill="#f3ddd6" stroke="#e3c3ba" stroke-width="0.4"/>
<circle cx="1796.7" cy="1009.5" r="1.75" fill="#e6e9fb" stroke="#8d99d6" stroke-width="0.8"/>
<path d="M1665 584.4 L1642.3 606.8 L1662.8 606.9 Z" fill="#434db0" stroke="#434db0" stroke-width="0.5"/>
<path d="M1665 584.4 L1682.7 606.8 L1662.8 606.9 Z" fill="#3a44a6" stroke="#3a44a6" stroke-width="0.5"/>
<path d="M1665.7 629.7 L1642.3 606.8 L1662.8 606.9 Z" fill="#3d47aa" stroke="#3d47aa" stroke-width="0.5"/>
<path d="M1665.7 629.7 L1682.7 606.8 L1662.8 606.9 Z" fill="#353fa0" stroke="#353fa0" stroke-width="0.5"/>
<path d="M1664.8 587.4 V626.7" stroke="#2f3897" stroke-width="0.6"/>
<circle cx="1650.1" cy="606.8" r="2.9" fill="#2c3594"/>
<circle cx="1662.8" cy="606.9" r="3.9" fill="url(#gPb)"/>
<circle cx="1665.3" cy="582.7" r="3.2" fill="url(#gI)"/>
<circle cx="1665.7" cy="631.1" r="3.2" fill="url(#gI)"/>
<circle cx="1640.9" cy="606.8" r="3.2" fill="url(#gI)"/>
<circle cx="1684.1" cy="606.8" r="3.2" fill="url(#gI)"/>
<circle cx="1677.3" cy="606.8" r="3.2" fill="url(#gI)"/>
</svg>
</body>
</html>
